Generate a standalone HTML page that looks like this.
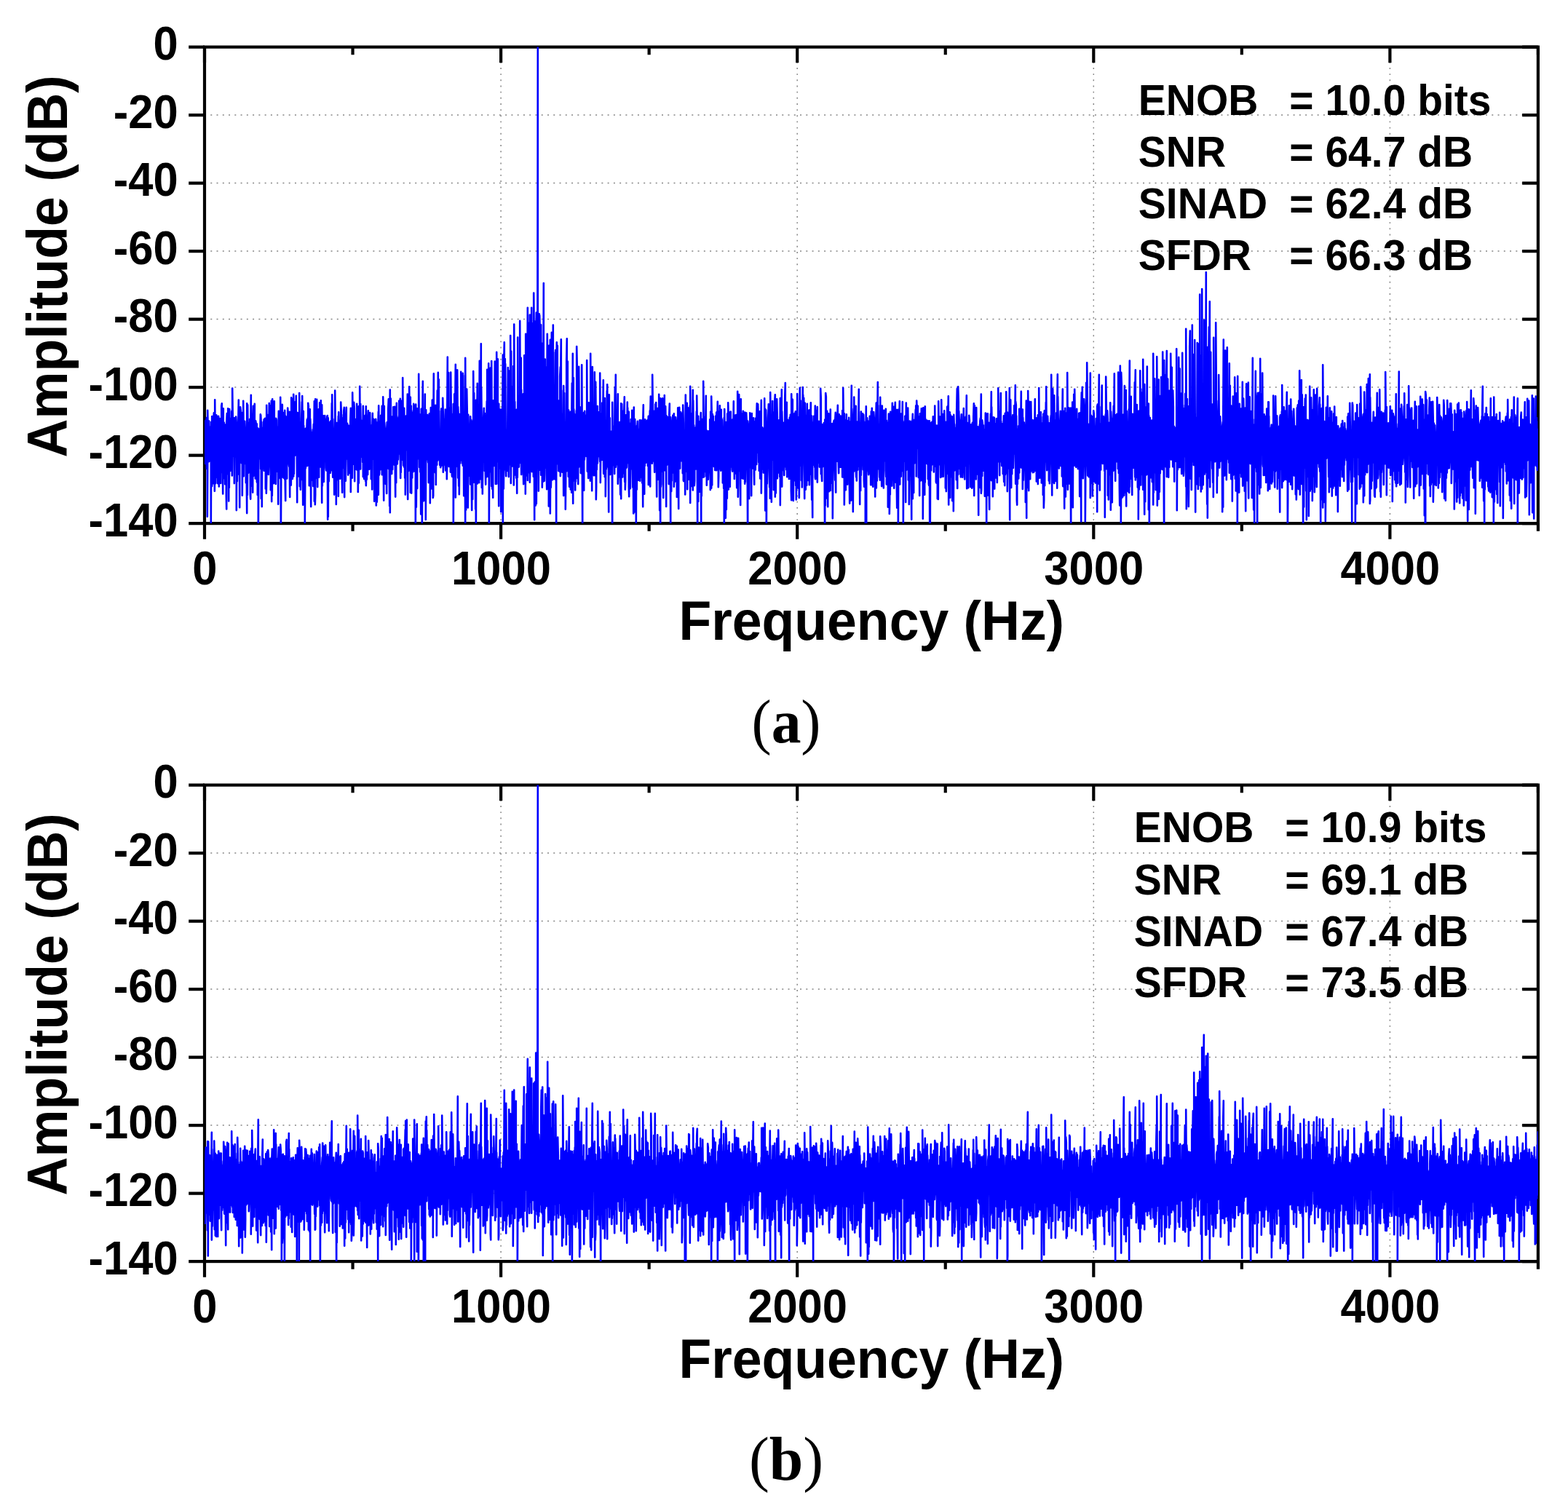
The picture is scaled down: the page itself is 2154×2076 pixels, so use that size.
<!DOCTYPE html>
<html lang="en">
<head>
<meta charset="utf-8">
<title>FFT spectra</title>
<style>
html,body{margin:0;padding:0;background:#fff;}
body{width:2154px;height:2076px;overflow:hidden;position:relative;}
svg{display:block;position:absolute;left:0;top:0;}
text{font-family:"Liberation Sans",Arial,Helvetica,sans-serif;font-weight:700;fill:#000;}
.tk{font-size:61.5px;}
.ti{font-size:73.33px;}
.lg{font-size:57px;}
.cap{font-family:"Liberation Serif","DejaVu Serif",serif;font-weight:400;font-size:80px;}
.cap tspan{font-weight:700;}
.ax{fill:none;stroke:#000;stroke-width:4.2;stroke-linecap:butt;stroke-linejoin:miter;}
.grid{fill:none;stroke:#858585;}
.gh{stroke-width:1.5;stroke-dasharray:2 6.263;}
.gv{stroke-width:1.5;stroke-dasharray:1.9 6.26;}
.dat{fill:none;stroke:#0000ff;stroke-width:2.6;stroke-linejoin:round;stroke-linecap:round;}
</style>
</head>
<body>
<svg width="2154" height="2076" viewBox="0 0 2154 2076">
<rect width="2154" height="2076" fill="#fff"/>
<defs><clipPath id="cp"><rect x="281.0" y="64.6" width="1831.9" height="654.5"/></clipPath></defs>
<g transform="translate(0,0)">
<path class="grid gh" d="M281.0 158.10H2109.9M281.0 251.60H2109.9M281.0 345.10H2109.9M281.0 438.60H2109.9M281.0 532.10H2109.9M281.0 625.60H2109.9"/>
<path class="grid gv" d="M688.10 84.87V716.1M1095.20 84.87V716.1M1502.30 84.87V716.1M1909.40 84.87V716.1"/>
<rect class="ax" x="281.0" y="64.6" width="1831.9" height="654.5"/>
<path class="ax" d="M259.2 64.60H281.0M2091.1 64.60H2112.95M259.2 158.10H281.0M2091.1 158.10H2112.95M259.2 251.60H281.0M2091.1 251.60H2112.95M259.2 345.10H281.0M2091.1 345.10H2112.95M259.2 438.60H281.0M2091.1 438.60H2112.95M259.2 532.10H281.0M2091.1 532.10H2112.95M259.2 625.60H281.0M2091.1 625.60H2112.95M259.2 719.10H281.0M2091.1 719.10H2112.95M281.00 719.1v21.6M281.00 64.6v21.6M484.55 719.1v10.6M484.55 64.6v10.6M688.10 719.1v21.6M688.10 64.6v21.6M891.65 719.1v10.6M891.65 64.6v10.6M1095.20 719.1v21.6M1095.20 64.6v21.6M1298.75 719.1v10.6M1298.75 64.6v10.6M1502.30 719.1v21.6M1502.30 64.6v21.6M1705.85 719.1v10.6M1705.85 64.6v10.6M1909.40 719.1v21.6M1909.40 64.6v21.6M2112.95 719.1v10.6M2112.95 64.6v10.6"/>
<polyline class="dat" clip-path="url(#cp)" points="281.2,605.8 281.2,582.5 281.8,578.8 281.8,636.9 282.2,628.8 282.2,578.0 282.8,580.6 282.8,606.5 283.2,604.8 283.2,582.5 283.8,574.0 283.8,643.9 284.2,609.2 284.2,607.2 284.8,610.8 284.8,709.7 285.2,643.1 285.2,563.8 285.8,596.3 285.8,634.4 286.2,634.5 286.2,589.8 286.8,612.6 286.8,623.1 287.2,633.9 287.2,578.6 287.8,605.5 287.8,627.4 288.2,628.9 288.2,588.5 288.8,587.2 288.8,599.6 289.2,629.1 289.2,588.5 289.8,619.8 289.8,719.2 290.2,604.6 290.2,579.8 290.8,614.8 290.8,666.3 291.2,667.9 291.2,572.1 291.8,593.7 291.8,614.2 292.2,663.9 292.2,591.0 292.8,578.1 292.8,627.9 293.2,664.3 293.2,577.6 293.8,567.4 293.8,653.4 294.2,636.7 294.2,598.8 294.8,610.4 294.8,674.7 295.2,610.6 295.2,549.2 295.8,614.2 295.8,650.0 296.2,664.1 296.2,577.8 296.8,619.2 296.8,656.2 297.2,638.9 297.2,570.2 297.8,572.2 297.8,623.6 298.2,644.2 298.2,584.3 298.8,589.1 298.8,644.1 299.2,664.1 299.2,599.8 299.8,579.2 299.8,622.3 300.2,613.6 300.2,571.7 300.8,610.1 300.8,668.4 301.2,605.3 301.2,586.5 301.8,575.1 301.8,586.8 302.2,624.1 302.2,607.6 302.8,599.0 302.8,639.2 303.2,664.0 303.2,591.7 303.8,587.2 303.8,649.0 304.2,614.7 304.2,557.7 304.8,554.3 304.8,614.0 305.2,615.0 305.2,577.7 305.8,605.2 305.8,635.6 306.2,678.4 306.2,609.1 306.8,561.2 306.8,657.5 307.2,625.7 307.2,585.3 307.8,580.6 307.8,612.5 308.2,650.7 308.2,592.0 308.8,598.3 308.8,636.9 309.2,665.2 309.2,586.2 309.8,588.1 309.8,646.2 310.2,634.0 310.2,583.4 310.8,607.1 310.8,681.2 311.2,699.5 311.2,579.8 311.8,568.0 311.8,633.1 312.2,604.3 312.2,577.3 312.8,610.6 312.8,651.2 313.2,632.2 313.2,561.2 313.8,591.0 313.8,603.9 314.2,688.4 314.2,594.6 314.8,622.7 314.8,670.0 315.2,614.7 315.2,562.1 315.8,617.9 315.8,638.0 316.2,646.9 316.2,574.7 316.8,587.1 316.8,641.8 317.2,646.3 317.2,577.9 317.8,607.0 317.8,644.2 318.2,642.0 318.2,565.6 318.8,563.9 318.8,653.5 319.2,619.8 319.2,533.5 319.8,575.4 319.8,610.7 320.2,614.5 320.2,595.2 320.8,580.3 320.8,615.2 321.2,626.6 321.2,587.9 321.8,584.9 321.8,664.1 322.2,626.4 322.2,574.0 322.8,594.8 322.8,621.2 323.2,627.0 323.2,597.1 323.8,590.0 323.8,592.8 324.2,613.6 324.2,572.6 324.8,581.7 324.8,701.1 325.2,627.6 325.2,597.0 325.8,599.4 325.8,661.2 326.2,624.4 326.2,582.4 326.8,605.3 326.8,651.4 327.2,635.3 327.2,586.7 327.8,549.5 327.8,643.4 328.2,622.3 328.2,594.1 328.8,562.5 328.8,600.8 329.2,697.3 329.2,577.5 329.8,583.5 329.8,589.0 330.2,619.4 330.2,559.2 330.8,564.6 330.8,624.5 331.2,624.4 331.2,597.5 331.8,566.7 331.8,636.2 332.2,626.7 332.2,596.2 332.8,603.1 332.8,680.8 333.2,628.2 333.2,569.2 333.8,612.8 333.8,636.2 334.2,620.5 334.2,550.7 334.8,613.9 334.8,654.3 335.2,605.4 335.2,592.8 335.8,612.8 335.8,636.8 336.2,637.0 336.2,578.9 336.8,591.1 336.8,598.1 337.2,612.0 337.2,588.9 337.8,590.4 337.8,663.2 338.2,660.0 338.2,608.1 338.8,602.5 338.8,662.2 339.2,705.1 339.2,554.2 339.8,612.3 339.8,680.0 340.2,636.7 340.2,556.2 340.8,611.8 340.8,633.9 341.2,649.7 341.2,627.5 341.8,583.3 341.8,620.0 342.2,597.5 342.2,580.9 342.8,599.4 342.8,632.4 343.2,614.4 343.2,575.8 343.8,610.0 343.8,680.0 344.2,685.6 344.2,593.4 344.8,542.7 344.8,639.0 345.2,642.2 345.2,569.0 345.8,594.5 345.8,667.7 346.2,658.8 346.2,587.4 346.8,597.1 346.8,638.4 347.2,676.6 347.2,575.0 347.8,557.7 347.8,599.9 348.2,654.1 348.2,584.6 348.8,571.4 348.8,612.6 349.2,631.9 349.2,568.9 349.8,554.9 349.8,613.1 350.2,617.9 350.2,598.6 350.8,580.5 350.8,657.4 351.2,592.2 351.2,578.2 351.8,582.0 351.8,611.5 352.2,648.6 352.2,603.0 352.8,582.2 352.8,661.4 353.2,662.9 353.2,597.5 353.8,610.9 353.8,680.0 354.2,607.7 354.2,588.2 354.8,599.6 354.8,747.1 355.2,654.3 355.2,609.4 355.8,601.5 355.8,630.2 356.2,614.7 356.2,589.3 356.8,601.3 356.8,619.1 357.2,624.6 357.2,603.0 357.8,569.3 357.8,620.8 358.2,644.3 358.2,570.4 358.8,583.3 358.8,684.9 359.2,602.1 359.2,579.8 359.8,600.0 359.8,696.1 360.2,611.0 360.2,587.8 360.8,617.4 360.8,644.0 361.2,625.0 361.2,610.4 361.8,594.6 361.8,605.2 362.2,614.4 362.2,579.9 362.8,576.1 362.8,646.8 363.2,636.3 363.2,577.1 363.8,611.0 363.8,634.1 364.2,624.7 364.2,574.7 364.8,609.7 364.8,671.4 365.2,636.0 365.2,589.4 365.8,585.9 365.8,677.8 366.2,656.1 366.2,556.8 366.8,598.9 366.8,611.7 367.2,612.9 367.2,569.7 367.8,592.6 367.8,643.2 368.2,647.0 368.2,570.9 368.8,595.2 368.8,651.9 369.2,641.4 369.2,603.1 369.8,554.1 369.8,604.9 370.2,629.7 370.2,559.7 370.8,577.6 370.8,628.1 371.2,616.5 371.2,561.7 371.8,557.0 371.8,673.3 372.2,627.0 372.2,602.4 372.8,550.7 372.8,607.1 373.2,689.1 373.2,594.4 373.8,595.9 373.8,681.1 374.2,636.8 374.2,548.3 374.8,573.9 374.8,652.4 375.2,619.5 375.2,577.6 375.8,586.9 375.8,620.6 376.2,664.1 376.2,610.0 376.8,551.2 376.8,662.0 377.2,643.3 377.2,581.8 377.8,598.0 377.8,645.9 378.2,604.3 378.2,590.5 378.8,592.2 378.8,665.0 379.2,625.3 379.2,574.9 379.8,577.0 379.8,647.7 380.2,618.6 380.2,600.4 380.8,586.6 380.8,616.9 381.2,625.6 381.2,587.1 381.8,598.6 381.8,609.8 382.2,692.8 382.2,606.3 382.8,564.7 382.8,604.6 383.2,611.1 383.2,596.5 383.8,580.3 383.8,649.1 384.2,650.0 384.2,588.8 384.8,583.3 384.8,657.3 385.2,640.0 385.2,545.7 385.8,603.2 385.8,747.1 386.2,664.3 386.2,566.8 386.8,597.6 386.8,628.9 387.2,619.0 387.2,563.1 387.8,555.9 387.8,622.5 388.2,655.4 388.2,597.1 388.8,588.1 388.8,599.5 389.2,599.0 389.2,567.0 389.8,591.8 389.8,656.7 390.2,643.5 390.2,587.0 390.8,600.5 390.8,637.9 391.2,658.7 391.2,563.8 391.8,586.3 391.8,667.1 392.2,688.0 392.2,571.6 392.8,574.4 392.8,626.0 393.2,607.5 393.2,572.9 393.8,602.0 393.8,636.0 394.2,657.5 394.2,587.4 394.8,606.2 394.8,617.0 395.2,616.9 395.2,560.6 395.8,570.3 395.8,613.8 396.2,633.1 396.2,603.3 396.8,614.1 396.8,637.5 397.2,640.9 397.2,578.6 397.8,565.7 397.8,639.1 398.2,682.9 398.2,621.8 398.8,596.3 398.8,658.4 399.2,633.4 399.2,594.3 399.8,585.9 399.8,666.6 400.2,632.3 400.2,546.4 400.8,548.4 400.8,597.9 401.2,642.7 401.2,606.3 401.8,594.0 401.8,657.9 402.2,630.8 402.2,588.3 402.8,555.6 402.8,636.9 403.2,654.4 403.2,541.7 403.8,593.2 403.8,650.9 404.2,613.8 404.2,587.1 404.8,594.9 404.8,614.0 405.2,625.7 405.2,577.5 405.8,552.1 405.8,624.0 406.2,609.1 406.2,585.6 406.8,543.7 406.8,618.9 407.2,619.3 407.2,571.9 407.8,566.5 407.8,629.8 408.2,690.3 408.2,617.9 408.8,594.9 408.8,643.6 409.2,608.8 409.2,573.6 409.8,567.2 409.8,607.3 410.2,654.5 410.2,573.0 410.8,581.5 410.8,639.9 411.2,609.4 411.2,540.0 411.8,609.4 411.8,668.2 412.2,638.6 412.2,608.4 412.8,589.0 412.8,672.8 413.2,605.8 413.2,589.2 413.8,580.3 413.8,659.0 414.2,621.3 414.2,575.9 414.8,552.4 414.8,595.8 415.2,658.0 415.2,544.0 415.8,596.4 415.8,646.4 416.2,693.8 416.2,594.6 416.8,565.0 416.8,671.7 417.2,635.5 417.2,584.7 417.8,629.9 417.8,637.2 418.2,645.2 418.2,598.7 418.8,589.8 418.8,718.8 419.2,667.2 419.2,598.2 419.8,588.8 419.8,643.5 420.2,638.5 420.2,596.1 420.8,595.4 420.8,614.5 421.2,628.8 421.2,597.4 421.8,576.6 421.8,624.1 422.2,639.9 422.2,585.6 422.8,574.6 422.8,629.8 423.2,627.7 423.2,553.8 423.8,557.6 423.8,626.5 424.2,626.7 424.2,600.9 424.8,608.1 424.8,667.2 425.2,610.8 425.2,573.2 425.8,562.2 425.8,642.4 426.2,625.3 426.2,575.5 426.8,591.3 426.8,645.8 427.2,696.1 427.2,601.2 427.8,593.9 427.8,622.8 428.2,656.5 428.2,625.8 428.8,595.3 428.8,621.4 429.2,659.7 429.2,606.6 429.8,590.3 429.8,617.2 430.2,667.9 430.2,595.5 430.8,582.8 430.8,620.3 431.2,654.0 431.2,613.9 431.8,551.2 431.8,688.7 432.2,647.0 432.2,570.2 432.8,590.1 432.8,693.2 433.2,679.6 433.2,548.2 433.8,566.8 433.8,624.5 434.2,656.7 434.2,572.0 434.8,576.8 434.8,609.7 435.2,630.7 435.2,548.7 435.8,589.6 435.8,633.6 436.2,669.1 436.2,585.6 436.8,579.9 436.8,613.5 437.2,609.1 437.2,585.2 437.8,562.3 437.8,648.5 438.2,655.8 438.2,592.5 438.8,611.9 438.8,634.7 439.2,606.2 439.2,553.3 439.8,600.5 439.8,614.4 440.2,641.5 440.2,616.4 440.8,550.2 440.8,613.8 441.2,600.9 441.2,584.3 441.8,609.3 441.8,621.7 442.2,690.7 442.2,556.3 442.8,595.2 442.8,667.5 443.2,608.8 443.2,571.0 443.8,594.3 443.8,644.8 444.2,629.8 444.2,571.3 444.8,608.6 444.8,661.9 445.2,633.7 445.2,581.3 445.8,604.5 445.8,618.7 446.2,607.8 446.2,571.0 446.8,586.8 446.8,610.5 447.2,614.7 447.2,575.8 447.8,588.1 447.8,642.7 448.2,646.4 448.2,587.7 448.8,586.1 448.8,621.1 449.2,616.8 449.2,572.9 449.8,571.0 449.8,597.8 450.2,713.8 450.2,592.0 450.8,574.3 450.8,710.1 451.2,596.2 451.2,580.6 451.8,579.9 451.8,661.2 452.2,628.9 452.2,598.5 452.8,599.0 452.8,639.6 453.2,617.1 453.2,580.4 453.8,581.1 453.8,649.8 454.2,601.1 454.2,578.6 454.8,587.9 454.8,627.0 455.2,646.2 455.2,603.8 455.8,554.0 455.8,643.4 456.2,636.6 456.2,542.2 456.8,592.1 456.8,611.0 457.2,655.8 457.2,575.7 457.8,595.1 457.8,626.7 458.2,636.0 458.2,600.9 458.8,599.0 458.8,633.9 459.2,679.6 459.2,619.9 459.8,598.4 459.8,610.5 460.2,622.1 460.2,536.6 460.8,592.4 460.8,610.5 461.2,658.7 461.2,596.7 461.8,628.5 461.8,692.9 462.2,593.7 462.2,581.0 462.8,581.1 462.8,610.7 463.2,639.1 463.2,608.3 463.8,582.8 463.8,659.2 464.2,638.1 464.2,598.2 464.8,571.8 464.8,681.7 465.2,590.5 465.2,566.2 465.8,588.5 465.8,645.0 466.2,640.7 466.2,582.0 466.8,586.1 466.8,628.7 467.2,657.8 467.2,577.7 467.8,578.9 467.8,620.0 468.2,647.3 468.2,552.6 468.8,566.3 468.8,608.1 469.2,650.4 469.2,569.8 469.8,607.6 469.8,661.5 470.2,676.7 470.2,608.3 470.8,577.3 470.8,642.3 471.2,607.9 471.2,593.1 471.8,573.8 471.8,642.8 472.2,618.6 472.2,564.6 472.8,559.8 472.8,604.2 473.2,683.1 473.2,592.6 473.8,588.8 473.8,650.7 474.2,655.7 474.2,619.3 474.8,600.9 474.8,660.7 475.2,621.8 475.2,572.5 475.8,559.9 475.8,603.5 476.2,629.7 476.2,586.0 476.8,585.4 476.8,595.5 477.2,630.6 477.2,581.7 477.8,600.4 477.8,621.7 478.2,652.6 478.2,584.3 478.8,613.9 478.8,636.3 479.2,628.7 479.2,597.3 479.8,595.1 479.8,645.1 480.2,650.0 480.2,584.9 480.8,624.5 480.8,632.4 481.2,605.2 481.2,580.1 481.8,560.8 481.8,676.0 482.2,628.5 482.2,585.3 482.8,597.7 482.8,656.8 483.2,638.1 483.2,579.5 483.8,586.9 483.8,656.8 484.2,597.4 484.2,539.4 484.8,582.2 484.8,611.9 485.2,637.7 485.2,607.8 485.8,587.4 485.8,614.1 486.2,614.8 486.2,552.8 486.8,560.9 486.8,605.9 487.2,661.3 487.2,600.5 487.8,605.5 487.8,623.5 488.2,611.5 488.2,595.9 488.8,588.0 488.8,644.8 489.2,612.5 489.2,575.9 489.8,609.9 489.8,631.1 490.2,620.1 490.2,554.8 490.8,589.4 490.8,646.0 491.2,608.4 491.2,581.6 491.8,582.3 491.8,675.9 492.2,641.1 492.2,593.2 492.8,558.4 492.8,663.8 493.2,605.7 493.2,578.4 493.8,590.1 493.8,628.9 494.2,614.1 494.2,530.9 494.8,602.4 494.8,606.9 495.2,644.4 495.2,555.1 495.8,594.1 495.8,613.2 496.2,627.8 496.2,577.5 496.8,584.0 496.8,611.3 497.2,624.7 497.2,603.7 497.8,596.3 497.8,610.9 498.2,635.0 498.2,607.5 498.8,557.9 498.8,655.1 499.2,589.3 499.2,583.7 499.8,583.0 499.8,587.0 500.2,658.1 500.2,578.6 500.8,571.3 500.8,648.2 501.2,637.8 501.2,597.6 501.8,570.6 501.8,620.7 502.2,661.3 502.2,597.0 502.8,558.3 502.8,667.1 503.2,652.2 503.2,601.0 503.8,599.1 503.8,658.7 504.2,627.4 504.2,597.9 504.8,576.7 504.8,612.7 505.2,652.1 505.2,574.5 505.8,564.3 505.8,632.0 506.2,636.6 506.2,603.3 506.8,578.6 506.8,623.5 507.2,644.8 507.2,573.1 507.8,577.9 507.8,639.5 508.2,604.7 508.2,567.1 508.8,600.1 508.8,617.4 509.2,593.6 509.2,584.2 509.8,592.2 509.8,658.1 510.2,626.1 510.2,608.7 510.8,593.3 510.8,641.4 511.2,672.4 511.2,594.0 511.8,567.7 511.8,611.5 512.2,601.6 512.2,584.7 512.8,585.8 512.8,622.4 513.2,630.6 513.2,575.7 513.8,580.3 513.8,607.3 514.2,688.8 514.2,589.1 514.8,577.1 514.8,614.1 515.2,610.8 515.2,589.0 515.8,589.7 515.8,681.4 516.2,608.4 516.2,575.8 516.8,584.5 516.8,694.5 517.2,621.0 517.2,580.3 517.8,633.3 517.8,689.8 518.2,676.2 518.2,585.1 518.8,613.5 518.8,661.7 519.2,665.6 519.2,596.5 519.8,565.7 519.8,679.8 520.2,609.0 520.2,557.4 520.8,594.6 520.8,652.8 521.2,650.5 521.2,580.6 521.8,579.0 521.8,587.1 522.2,608.8 522.2,587.4 522.8,597.3 522.8,645.1 523.2,604.9 523.2,570.8 523.8,589.0 523.8,608.2 524.2,636.7 524.2,581.7 524.8,557.7 524.8,652.3 525.2,637.1 525.2,592.5 525.8,611.0 525.8,649.0 526.2,627.9 526.2,545.3 526.8,573.0 526.8,646.9 527.2,687.6 527.2,584.2 527.8,558.0 527.8,632.5 528.2,610.0 528.2,580.5 528.8,590.4 528.8,613.1 529.2,630.4 529.2,596.2 529.8,624.7 529.8,664.9 530.2,618.1 530.2,590.0 530.8,610.7 530.8,644.6 531.2,678.0 531.2,590.3 531.8,580.1 531.8,605.2 532.2,633.7 532.2,582.1 532.8,607.2 532.8,630.4 533.2,637.6 533.2,562.7 533.8,548.4 533.8,644.1 534.2,639.5 534.2,600.3 534.8,594.1 534.8,655.1 535.2,695.2 535.2,577.3 535.8,535.5 535.8,704.3 536.2,601.6 536.2,547.1 536.8,547.9 536.8,593.4 537.2,613.7 537.2,593.4 537.8,589.6 537.8,629.0 538.2,650.9 538.2,617.9 538.8,572.5 538.8,636.5 539.2,644.9 539.2,596.5 539.8,606.1 539.8,633.8 540.2,637.3 540.2,559.2 540.8,594.8 540.8,619.3 541.2,617.4 541.2,582.8 541.8,599.8 541.8,638.8 542.2,611.8 542.2,558.7 542.8,604.8 542.8,647.3 543.2,682.6 543.2,600.8 543.8,597.2 543.8,619.1 544.2,663.2 544.2,604.2 544.8,553.7 544.8,635.8 545.2,634.3 545.2,592.9 545.8,615.4 545.8,637.5 546.2,617.6 546.2,589.3 546.8,574.3 546.8,631.4 547.2,618.4 547.2,600.8 547.8,572.0 547.8,593.1 548.2,623.4 548.2,550.7 548.8,578.5 548.8,614.2 549.2,620.3 549.2,573.0 549.8,547.7 549.8,622.6 550.2,657.0 550.2,602.2 550.8,598.9 550.8,649.0 551.2,625.5 551.2,587.9 551.8,550.8 551.8,624.0 552.2,626.1 552.2,589.6 552.8,620.4 552.8,631.6 553.2,604.9 553.2,519.0 553.8,592.5 553.8,604.5 554.2,639.5 554.2,590.8 554.8,586.0 554.8,621.7 555.2,641.6 555.2,560.8 555.8,598.3 555.8,612.2 556.2,656.7 556.2,595.2 556.8,578.9 556.8,679.6 557.2,652.4 557.2,613.5 557.8,571.6 557.8,613.7 558.2,618.1 558.2,587.5 558.8,600.4 558.8,617.0 559.2,608.9 559.2,579.5 559.8,541.6 559.8,591.9 560.2,686.0 560.2,576.3 560.8,598.4 560.8,616.9 561.2,647.1 561.2,561.0 561.8,548.0 561.8,633.8 562.2,613.4 562.2,531.2 562.8,592.0 562.8,622.0 563.2,633.4 563.2,546.2 563.8,545.7 563.8,676.8 564.2,628.9 564.2,557.4 564.8,557.7 564.8,626.2 565.2,677.6 565.2,564.0 565.8,599.6 565.8,650.1 566.2,656.4 566.2,570.1 566.8,600.4 566.8,649.0 567.2,629.8 567.2,566.6 567.8,587.9 567.8,630.9 568.2,645.9 568.2,554.7 568.8,557.5 568.8,627.9 569.2,647.4 569.2,606.4 569.8,572.2 569.8,600.7 570.2,624.3 570.2,574.9 570.8,576.7 570.8,731.2 571.2,632.1 571.2,555.5 571.8,588.0 571.8,696.8 572.2,644.8 572.2,568.2 572.8,570.7 572.8,644.3 573.2,671.1 573.2,561.4 573.8,573.8 573.8,625.0 574.2,630.3 574.2,600.1 574.8,581.9 574.8,630.2 575.2,622.4 575.2,513.9 575.8,593.3 575.8,607.2 576.2,642.0 576.2,622.2 576.8,592.6 576.8,612.9 577.2,648.5 577.2,627.9 577.8,569.4 577.8,636.7 578.2,706.5 578.2,636.7 578.8,561.8 578.8,592.1 579.2,661.0 579.2,582.8 579.8,596.3 579.8,723.1 580.2,662.8 580.2,582.4 580.8,523.7 580.8,629.9 581.2,612.7 581.2,570.1 581.8,574.8 581.8,619.8 582.2,688.1 582.2,624.4 582.8,605.5 582.8,670.5 583.2,657.6 583.2,591.8 583.8,541.6 583.8,600.2 584.2,628.2 584.2,586.2 584.8,573.6 584.8,713.9 585.2,621.9 585.2,563.2 585.8,608.3 585.8,630.7 586.2,625.1 586.2,585.7 586.8,599.5 586.8,627.9 587.2,628.6 587.2,570.1 587.8,590.6 587.8,631.3 588.2,635.4 588.2,576.9 588.8,612.2 588.8,663.1 589.2,634.2 589.2,586.7 589.8,568.2 589.8,645.9 590.2,633.4 590.2,604.2 590.8,632.0 590.8,691.3 591.2,615.6 591.2,600.5 591.8,560.0 591.8,639.6 592.2,668.6 592.2,598.2 592.8,589.2 592.8,658.9 593.2,671.5 593.2,610.3 593.8,549.5 593.8,617.2 594.2,637.3 594.2,561.7 594.8,580.2 594.8,683.9 595.2,681.1 595.2,601.7 595.8,513.4 595.8,622.0 596.2,625.1 596.2,567.7 596.8,600.3 596.8,621.7 597.2,618.9 597.2,574.3 597.8,610.0 597.8,649.2 598.2,648.0 598.2,556.7 598.8,615.0 598.8,665.9 599.2,622.8 599.2,595.1 599.8,594.7 599.8,631.9 600.2,638.8 600.2,590.7 600.8,536.5 600.8,626.0 601.2,632.7 601.2,613.8 601.8,511.9 601.8,603.1 602.2,613.6 602.2,595.0 602.8,521.2 602.8,631.3 603.2,607.9 603.2,564.5 603.8,601.4 603.8,611.1 604.2,639.1 604.2,591.6 604.8,595.8 604.8,617.5 605.2,642.2 605.2,598.2 605.8,599.1 605.8,616.8 606.2,639.9 606.2,561.5 606.8,565.1 606.8,618.3 607.2,638.4 607.2,586.0 607.8,598.0 607.8,637.7 608.2,626.8 608.2,546.8 608.8,569.9 608.8,648.8 609.2,636.6 609.2,585.0 609.8,594.7 609.8,638.6 610.2,617.7 610.2,575.9 610.8,611.7 610.8,631.5 611.2,638.1 611.2,585.8 611.8,562.6 611.8,628.7 612.2,646.5 612.2,592.8 612.8,583.0 612.8,605.9 613.2,643.4 613.2,586.9 613.8,583.3 613.8,658.3 614.2,638.0 614.2,574.0 614.8,490.5 614.8,634.6 615.2,624.3 615.2,526.8 615.8,562.8 615.8,601.1 616.2,607.5 616.2,512.0 616.8,609.9 616.8,641.0 617.2,620.2 617.2,589.0 617.8,583.9 617.8,623.8 618.2,628.8 618.2,594.2 618.8,560.3 618.8,648.6 619.2,640.2 619.2,511.5 619.8,571.0 619.8,639.6 620.2,639.4 620.2,568.9 620.8,590.9 620.8,653.0 621.2,654.9 621.2,570.5 621.8,585.2 621.8,645.5 622.2,639.7 622.2,604.4 622.8,555.0 622.8,725.2 623.2,638.1 623.2,602.0 623.8,616.3 623.8,642.0 624.2,620.8 624.2,541.4 624.8,599.9 624.8,653.1 625.2,654.9 625.2,562.0 625.8,500.7 625.8,683.4 626.2,619.4 626.2,547.1 626.8,586.8 626.8,600.5 627.2,623.0 627.2,586.0 627.8,589.9 627.8,640.8 628.2,633.2 628.2,508.3 628.8,581.7 628.8,601.1 629.2,656.6 629.2,559.1 629.8,572.5 629.8,615.1 630.2,667.7 630.2,610.7 630.8,606.1 630.8,679.2 631.2,627.6 631.2,569.0 631.8,596.3 631.8,636.6 632.2,616.0 632.2,579.0 632.8,578.8 632.8,632.4 633.2,602.8 633.2,510.9 633.8,607.4 633.8,623.4 634.2,617.8 634.2,519.3 634.8,591.4 634.8,636.4 635.2,604.5 635.2,580.1 635.8,512.9 635.8,639.8 636.2,606.8 636.2,594.6 636.8,577.3 636.8,591.9 637.2,681.3 637.2,588.3 637.8,568.3 637.8,583.0 638.2,625.8 638.2,594.9 638.8,515.9 638.8,659.2 639.2,719.2 639.2,491.9 639.8,622.6 639.8,644.0 640.2,700.5 640.2,582.6 640.8,579.0 640.8,628.8 641.2,620.3 641.2,534.6 641.8,566.8 641.8,621.3 642.2,618.1 642.2,598.2 642.8,603.3 642.8,697.4 643.2,659.8 643.2,569.7 643.8,588.8 643.8,643.4 644.2,650.6 644.2,606.9 644.8,597.1 644.8,625.2 645.2,653.8 645.2,601.1 645.8,598.0 645.8,626.7 646.2,665.4 646.2,572.3 646.8,605.5 646.8,615.1 647.2,620.6 647.2,576.9 647.8,581.5 647.8,668.3 648.2,700.9 648.2,595.9 648.8,597.6 648.8,640.9 649.2,686.0 649.2,578.8 649.8,590.3 649.8,610.9 650.2,619.2 650.2,510.1 650.8,576.7 650.8,606.9 651.2,662.8 651.2,540.0 651.8,616.6 651.8,631.4 652.2,634.2 652.2,606.3 652.8,574.8 652.8,609.5 653.2,699.4 653.2,631.9 653.8,549.7 653.8,742.2 654.2,629.8 654.2,611.7 654.8,557.6 654.8,586.7 655.2,630.9 655.2,578.2 655.8,526.7 655.8,664.4 656.2,615.2 656.2,584.3 656.8,580.4 656.8,655.6 657.2,631.6 657.2,597.2 657.8,609.9 657.8,632.6 658.2,663.2 658.2,591.4 658.8,495.7 658.8,615.2 659.2,613.4 659.2,550.8 659.8,613.1 659.8,658.1 660.2,641.9 660.2,624.3 660.8,472.3 660.8,622.1 661.2,582.2 661.2,532.8 661.8,586.6 661.8,670.0 662.2,657.3 662.2,606.6 662.8,583.5 662.8,678.4 663.2,632.3 663.2,589.3 663.8,588.0 663.8,623.0 664.2,614.1 664.2,574.2 664.8,560.7 664.8,596.3 665.2,634.4 665.2,595.9 665.8,567.7 665.8,647.0 666.2,634.9 666.2,603.2 666.8,597.8 666.8,648.3 667.2,665.6 667.2,591.1 667.8,577.1 667.8,610.6 668.2,655.6 668.2,581.5 668.8,551.3 668.8,612.6 669.2,595.7 669.2,507.8 669.8,581.5 669.8,630.2 670.2,605.8 670.2,582.4 670.8,591.2 670.8,655.1 671.2,628.2 671.2,499.2 671.8,618.5 671.8,730.9 672.2,641.9 672.2,571.8 672.8,541.8 672.8,648.1 673.2,630.4 673.2,580.9 673.8,505.5 673.8,584.9 674.2,645.4 674.2,607.3 674.8,576.6 674.8,637.4 675.2,668.0 675.2,496.0 675.8,600.0 675.8,622.8 676.2,671.7 676.2,620.1 676.8,555.7 676.8,637.7 677.2,683.7 677.2,591.9 677.8,550.4 677.8,622.5 678.2,640.0 678.2,566.6 678.8,574.3 678.8,626.4 679.2,634.8 679.2,614.3 679.8,496.5 679.8,614.3 680.2,640.3 680.2,618.7 680.8,575.1 680.8,664.9 681.2,604.6 681.2,535.6 681.8,576.9 681.8,639.2 682.2,664.8 682.2,483.9 682.8,571.8 682.8,592.5 683.2,624.4 683.2,555.5 683.8,493.3 683.8,611.8 684.2,634.3 684.2,597.1 684.8,566.6 684.8,611.7 685.2,695.2 685.2,554.7 685.8,594.0 685.8,643.4 686.2,597.9 686.2,562.2 686.8,581.9 686.8,616.0 687.2,613.7 687.2,579.6 687.8,597.0 687.8,616.9 688.2,703.2 688.2,562.6 688.8,591.6 688.8,628.4 689.2,676.8 689.2,584.0 689.8,585.7 689.8,609.4 690.2,660.0 690.2,574.1 690.8,487.6 690.8,717.4 691.2,596.4 691.2,584.9 691.8,600.6 691.8,671.4 692.2,636.9 692.2,498.5 692.8,470.4 692.8,636.9 693.2,638.3 693.2,556.6 693.8,493.0 693.8,645.3 694.2,623.4 694.2,500.1 694.8,620.4 694.8,642.6 695.2,654.2 695.2,608.1 695.8,591.3 695.8,632.5 696.2,627.1 696.2,590.8 696.8,629.0 696.8,646.9 697.2,628.6 697.2,601.7 697.8,505.1 697.8,609.4 698.2,639.7 698.2,616.2 698.8,557.0 698.8,655.1 699.2,622.7 699.2,509.6 699.8,583.4 699.8,617.3 700.2,609.5 700.2,515.2 700.8,589.5 700.8,638.2 701.2,624.9 701.2,461.0 701.8,629.7 701.8,663.9 702.2,608.3 702.2,482.5 702.8,612.6 702.8,633.2 703.2,611.4 703.2,589.5 703.8,531.2 703.8,640.5 704.2,637.4 704.2,541.3 704.8,562.9 704.8,607.3 705.2,600.4 705.2,503.0 705.8,598.8 705.8,666.5 706.2,626.7 706.2,445.6 706.8,576.0 706.8,614.2 707.2,651.3 707.2,552.1 707.8,593.0 707.8,652.4 708.2,632.3 708.2,629.2 708.8,587.5 708.8,610.4 709.2,656.8 709.2,571.7 709.8,562.7 709.8,627.5 710.2,677.8 710.2,582.0 710.8,593.3 710.8,656.0 711.2,605.5 711.2,463.6 711.8,588.6 711.8,621.8 712.2,616.8 712.2,576.7 712.8,563.7 712.8,641.6 713.2,591.7 713.2,582.1 713.8,580.6 713.8,592.5 714.2,626.0 714.2,440.9 714.8,577.2 714.8,633.9 715.2,636.2 715.2,619.1 715.8,491.8 715.8,628.1 716.2,652.0 716.2,535.6 716.8,597.9 716.8,632.0 717.2,639.0 717.2,607.2 717.8,567.6 717.8,624.4 718.2,613.7 718.2,590.0 718.8,541.4 718.8,648.0 719.2,665.1 719.2,604.3 719.8,595.7 719.8,630.9 720.2,638.6 720.2,488.2 720.8,547.5 720.8,655.4 721.2,614.0 721.2,493.7 721.8,540.5 721.8,678.6 722.2,575.1 722.2,458.7 722.8,549.0 722.8,584.6 723.2,624.9 723.2,479.1 723.8,582.6 723.8,653.5 724.2,626.9 724.2,593.9 724.8,422.7 724.8,659.9 725.2,631.1 725.2,574.6 725.8,579.1 725.8,615.8 726.2,612.5 726.2,478.2 726.8,443.6 726.8,649.3 727.2,605.2 727.2,561.5 727.8,432.5 727.8,662.7 728.2,648.6 728.2,468.6 728.8,574.8 728.8,636.7 729.2,646.2 729.2,605.8 729.8,569.9 729.8,599.7 730.2,637.2 730.2,422.7 730.8,629.9 730.8,648.1 731.2,610.5 731.2,585.8 731.8,444.5 731.8,628.7 732.2,643.1 732.2,607.1 732.8,603.4 732.8,654.8 733.2,603.6 733.2,402.6 733.8,474.9 733.8,622.3 734.2,714.3 734.2,555.7 734.8,477.8 734.8,647.5 735.2,601.9 735.2,468.2 735.8,441.4 735.8,694.4 736.2,658.5 736.2,482.9 736.8,429.6 736.8,691.9 737.2,641.3 737.2,439.8 737.8,582.6 737.8,619.0 738.2,617.7 738.2,594.3 738.8,64.6 738.8,564.0 739.2,602.6 739.2,558.5 739.8,622.2 739.8,674.6 740.2,607.1 740.2,576.0 740.8,431.4 740.8,577.2 741.2,603.9 741.2,433.3 741.8,454.6 741.8,617.1 742.2,645.8 742.2,594.9 742.8,554.4 742.8,610.5 743.2,652.7 743.2,446.3 743.8,596.5 743.8,628.2 744.2,652.9 744.2,471.6 744.8,589.9 744.8,669.6 745.2,648.8 745.2,575.7 745.8,591.6 745.8,662.0 746.2,611.2 746.2,585.3 746.8,389.0 746.8,621.8 747.2,606.5 747.2,536.5 747.8,626.9 747.8,660.7 748.2,633.2 748.2,598.1 748.8,493.5 748.8,625.2 749.2,613.6 749.2,571.5 749.8,504.4 749.8,624.4 750.2,642.6 750.2,598.1 750.8,602.0 750.8,652.4 751.2,672.3 751.2,599.2 751.8,458.7 751.8,631.0 752.2,635.7 752.2,556.7 752.8,605.3 752.8,614.9 753.2,618.8 753.2,591.7 753.8,602.1 753.8,695.5 754.2,619.9 754.2,474.9 754.8,604.1 754.8,668.3 755.2,624.4 755.2,586.8 755.8,466.9 755.8,705.4 756.2,628.9 756.2,582.2 756.8,589.8 756.8,669.6 757.2,654.3 757.2,586.0 757.8,456.8 757.8,582.2 758.2,623.6 758.2,584.0 758.8,481.0 758.8,634.2 759.2,659.1 759.2,605.1 759.8,446.5 759.8,605.7 760.2,640.5 760.2,578.1 760.8,598.4 760.8,603.3 761.2,658.0 761.2,567.3 761.8,574.6 761.8,632.6 762.2,629.1 762.2,554.5 762.8,484.0 762.8,658.6 763.2,601.4 763.2,481.0 763.8,491.1 763.8,629.8 764.2,725.9 764.2,593.1 764.8,470.4 764.8,612.7 765.2,592.2 765.2,558.6 765.8,474.7 765.8,637.1 766.2,622.7 766.2,577.2 766.8,580.8 766.8,613.6 767.2,647.1 767.2,550.6 767.8,604.7 767.8,642.5 768.2,615.3 768.2,580.5 768.8,584.3 768.8,635.4 769.2,648.1 769.2,517.0 769.8,504.2 769.8,654.1 770.2,603.7 770.2,512.3 770.8,466.2 770.8,619.5 771.2,620.7 771.2,536.4 771.8,588.8 771.8,646.1 772.2,648.6 772.2,568.8 772.8,579.9 772.8,614.0 773.2,631.5 773.2,581.6 773.8,586.5 773.8,609.5 774.2,681.0 774.2,530.1 774.8,564.7 774.8,614.7 775.2,625.1 775.2,540.1 775.8,601.6 775.8,627.8 776.2,641.9 776.2,581.0 776.8,590.6 776.8,699.7 777.2,661.3 777.2,595.1 777.8,579.9 777.8,646.7 778.2,647.4 778.2,494.5 778.8,465.2 778.8,613.1 779.2,619.8 779.2,571.2 779.8,496.6 779.8,619.7 780.2,623.6 780.2,607.3 780.8,591.8 780.8,654.7 781.2,632.0 781.2,563.6 781.8,583.5 781.8,645.7 782.2,668.7 782.2,587.2 782.8,600.0 782.8,623.9 783.2,637.4 783.2,600.2 783.8,565.7 783.8,672.4 784.2,651.7 784.2,596.3 784.8,588.5 784.8,657.9 785.2,676.6 785.2,583.7 785.8,526.5 785.8,616.4 786.2,663.1 786.2,629.2 786.8,485.8 786.8,634.0 787.2,691.7 787.2,604.7 787.8,519.1 787.8,584.9 788.2,660.4 788.2,562.1 788.8,571.6 788.8,647.9 789.2,637.1 789.2,569.1 789.8,578.3 789.8,614.4 790.2,673.4 790.2,595.4 790.8,585.0 790.8,661.8 791.2,628.1 791.2,597.8 791.8,564.1 791.8,620.8 792.2,631.0 792.2,476.0 792.8,505.7 792.8,657.0 793.2,614.0 793.2,546.9 793.8,586.3 793.8,614.4 794.2,665.1 794.2,602.6 794.8,518.1 794.8,633.9 795.2,641.6 795.2,503.7 795.8,588.5 795.8,640.4 796.2,612.7 796.2,593.1 796.8,559.3 796.8,602.2 797.2,640.9 797.2,578.8 797.8,608.5 797.8,650.1 798.2,650.2 798.2,602.4 798.8,573.6 798.8,608.4 799.2,620.3 799.2,501.3 799.8,601.1 799.8,641.8 800.2,729.7 800.2,579.8 800.8,599.8 800.8,627.3 801.2,632.5 801.2,608.8 801.8,575.5 801.8,634.8 802.2,673.7 802.2,566.8 802.8,569.1 802.8,631.7 803.2,625.6 803.2,564.8 803.8,600.9 803.8,614.8 804.2,599.0 804.2,572.9 804.8,587.2 804.8,626.3 805.2,626.5 805.2,570.5 805.8,571.9 805.8,626.9 806.2,621.0 806.2,495.1 806.8,597.0 806.8,647.6 807.2,643.4 807.2,565.0 807.8,575.1 807.8,636.4 808.2,657.0 808.2,585.9 808.8,553.2 808.8,625.7 809.2,611.3 809.2,598.6 809.8,591.6 809.8,649.4 810.2,624.9 810.2,591.6 810.8,615.1 810.8,660.6 811.2,595.7 811.2,485.8 811.8,598.7 811.8,625.7 812.2,625.5 812.2,595.7 812.8,595.5 812.8,609.7 813.2,674.3 813.2,597.8 813.8,504.0 813.8,633.2 814.2,639.9 814.2,603.3 814.8,594.6 814.8,614.0 815.2,646.3 815.2,579.8 815.8,580.3 815.8,653.3 816.2,633.5 816.2,583.7 816.8,511.4 816.8,581.9 817.2,626.7 817.2,578.4 817.8,572.1 817.8,653.1 818.2,653.5 818.2,524.7 818.8,585.8 818.8,686.2 819.2,668.1 819.2,568.7 819.8,589.7 819.8,645.3 820.2,617.7 820.2,593.0 820.8,558.0 820.8,636.5 821.2,615.6 821.2,585.3 821.8,581.9 821.8,624.4 822.2,614.3 822.2,566.4 822.8,586.9 822.8,627.1 823.2,617.3 823.2,588.4 823.8,583.9 823.8,626.1 824.2,634.3 824.2,512.5 824.8,629.6 824.8,663.1 825.2,618.7 825.2,610.7 825.8,580.8 825.8,607.1 826.2,586.5 826.2,568.4 826.8,596.4 826.8,631.9 827.2,616.5 827.2,553.6 827.8,579.7 827.8,622.3 828.2,627.2 828.2,571.6 828.8,522.2 828.8,598.5 829.2,650.7 829.2,579.3 829.8,612.0 829.8,627.5 830.2,635.4 830.2,613.9 830.8,547.1 830.8,655.2 831.2,641.6 831.2,586.0 831.8,617.6 831.8,682.1 832.2,645.7 832.2,605.0 832.8,578.8 832.8,644.5 833.2,614.6 833.2,600.8 833.8,537.1 833.8,621.4 834.2,603.3 834.2,528.3 834.8,573.9 834.8,627.6 835.2,641.8 835.2,592.5 835.8,571.9 835.8,626.3 836.2,703.4 836.2,581.8 836.8,542.4 836.8,625.3 837.2,599.2 837.2,586.3 837.8,574.2 837.8,642.5 838.2,652.0 838.2,612.2 838.8,592.9 838.8,615.0 839.2,640.3 839.2,634.6 839.8,594.0 839.8,612.3 840.2,638.9 840.2,592.5 840.8,598.3 840.8,636.4 841.2,747.1 841.2,552.8 841.8,610.6 841.8,623.5 842.2,639.2 842.2,585.5 842.8,586.0 842.8,618.0 843.2,622.4 843.2,601.0 843.8,601.9 843.8,627.3 844.2,650.9 844.2,594.7 844.8,531.9 844.8,627.2 845.2,617.4 845.2,593.6 845.8,514.8 845.8,641.7 846.2,624.4 846.2,564.0 846.8,575.6 846.8,576.2 847.2,618.3 847.2,590.8 847.8,579.7 847.8,638.3 848.2,637.1 848.2,574.9 848.8,541.4 848.8,664.8 849.2,639.9 849.2,581.8 849.8,600.5 849.8,607.3 850.2,637.8 850.2,593.2 850.8,595.9 850.8,655.3 851.2,633.4 851.2,580.1 851.8,605.8 851.8,654.9 852.2,679.5 852.2,609.8 852.8,608.5 852.8,632.3 853.2,685.3 853.2,554.3 853.8,565.3 853.8,598.6 854.2,605.6 854.2,555.1 854.8,589.3 854.8,629.1 855.2,655.5 855.2,564.6 855.8,585.2 855.8,615.6 856.2,608.7 856.2,586.4 856.8,596.0 856.8,650.2 857.2,606.5 857.2,567.9 857.8,545.3 857.8,633.9 858.2,661.9 858.2,604.7 858.8,597.9 858.8,672.6 859.2,661.1 859.2,608.9 859.8,570.3 859.8,641.7 860.2,643.2 860.2,581.7 860.8,594.2 860.8,642.0 861.2,628.7 861.2,603.4 861.8,552.6 861.8,616.2 862.2,610.4 862.2,560.2 862.8,592.3 862.8,635.9 863.2,628.6 863.2,592.3 863.8,565.8 863.8,668.9 864.2,682.3 864.2,581.2 864.8,600.5 864.8,626.2 865.2,640.6 865.2,586.8 865.8,606.4 865.8,671.3 866.2,630.5 866.2,603.8 866.8,576.0 866.8,625.9 867.2,616.5 867.2,598.0 867.8,584.2 867.8,628.7 868.2,644.1 868.2,563.9 868.8,584.7 868.8,637.9 869.2,669.4 869.2,622.5 869.8,590.6 869.8,619.5 870.2,705.5 870.2,610.3 870.8,559.5 870.8,654.8 871.2,703.8 871.2,610.2 871.8,593.1 871.8,606.4 872.2,624.0 872.2,576.0 872.8,595.5 872.8,653.8 873.2,691.9 873.2,589.6 873.8,608.7 873.8,721.9 874.2,614.4 874.2,585.8 874.8,617.1 874.8,672.6 875.2,636.5 875.2,590.9 875.8,578.9 875.8,641.8 876.2,638.8 876.2,589.5 876.8,592.8 876.8,621.9 877.2,659.8 877.2,626.7 877.8,594.3 877.8,631.9 878.2,646.3 878.2,603.5 878.8,577.3 878.8,602.9 879.2,660.7 879.2,583.0 879.8,641.5 879.8,656.1 880.2,640.6 880.2,578.8 880.8,577.4 880.8,591.4 881.2,625.9 881.2,588.3 881.8,598.2 881.8,636.7 882.2,663.6 882.2,607.7 882.8,588.4 882.8,612.8 883.2,696.3 883.2,581.3 883.8,556.2 883.8,664.6 884.2,645.6 884.2,587.7 884.8,605.0 884.8,632.2 885.2,678.8 885.2,580.1 885.8,612.1 885.8,640.0 886.2,595.5 886.2,576.3 886.8,578.5 886.8,632.7 887.2,635.7 887.2,591.7 887.8,598.9 887.8,618.7 888.2,619.8 888.2,580.7 888.8,589.0 888.8,611.4 889.2,625.7 889.2,577.6 889.8,585.6 889.8,640.1 890.2,633.6 890.2,584.5 890.8,571.7 890.8,666.1 891.2,643.3 891.2,605.1 891.8,589.0 891.8,612.2 892.2,623.4 892.2,592.5 892.8,564.3 892.8,638.7 893.2,668.4 893.2,571.8 893.8,544.6 893.8,603.8 894.2,631.4 894.2,604.5 894.8,574.9 894.8,635.4 895.2,624.2 895.2,590.4 895.8,589.1 895.8,636.7 896.2,621.5 896.2,514.8 896.8,556.7 896.8,628.8 897.2,613.3 897.2,600.7 897.8,587.0 897.8,612.7 898.2,633.7 898.2,564.9 898.8,574.3 898.8,630.7 899.2,648.8 899.2,587.9 899.8,580.8 899.8,623.4 900.2,627.5 900.2,555.3 900.8,592.3 900.8,609.7 901.2,596.0 901.2,553.1 901.8,587.3 901.8,637.7 902.2,682.4 902.2,600.6 902.8,570.5 902.8,631.1 903.2,659.1 903.2,561.1 903.8,605.2 903.8,625.2 904.2,598.3 904.2,574.7 904.8,611.3 904.8,636.0 905.2,658.8 905.2,541.7 905.8,578.8 905.8,652.9 906.2,701.3 906.2,592.8 906.8,603.1 906.8,611.2 907.2,739.1 907.2,547.3 907.8,602.7 907.8,668.9 908.2,665.4 908.2,551.7 908.8,568.8 908.8,647.7 909.2,638.0 909.2,598.3 909.8,547.5 909.8,618.5 910.2,614.0 910.2,547.4 910.8,594.0 910.8,605.6 911.2,684.0 911.2,551.8 911.8,605.9 911.8,639.7 912.2,631.7 912.2,625.8 912.8,543.0 912.8,622.7 913.2,646.2 913.2,615.3 913.8,613.3 913.8,632.8 914.2,584.7 914.2,558.2 914.8,588.1 914.8,615.6 915.2,695.9 915.2,590.7 915.8,571.5 915.8,622.2 916.2,638.8 916.2,579.1 916.8,583.3 916.8,633.3 917.2,605.0 917.2,600.7 917.8,596.4 917.8,611.1 918.2,633.2 918.2,573.1 918.8,584.6 918.8,665.1 919.2,635.1 919.2,571.8 919.8,554.6 919.8,615.9 920.2,619.1 920.2,604.5 920.8,583.7 920.8,622.2 921.2,729.2 921.2,573.3 921.8,580.2 921.8,651.1 922.2,675.1 922.2,595.5 922.8,578.5 922.8,660.4 923.2,602.4 923.2,588.5 923.8,595.7 923.8,649.5 924.2,633.9 924.2,570.9 924.8,588.5 924.8,602.8 925.2,634.2 925.2,598.9 925.8,568.3 925.8,668.8 926.2,660.2 926.2,598.3 926.8,573.1 926.8,622.7 927.2,661.7 927.2,601.1 927.8,580.4 927.8,588.8 928.2,627.8 928.2,573.3 928.8,579.6 928.8,642.2 929.2,623.3 929.2,579.5 929.8,608.6 929.8,682.9 930.2,615.9 930.2,585.5 930.8,607.7 930.8,621.7 931.2,602.7 931.2,560.4 931.8,579.9 931.8,636.7 932.2,698.9 932.2,588.2 932.8,579.1 932.8,635.8 933.2,631.7 933.2,559.9 933.8,594.2 933.8,629.9 934.2,643.6 934.2,612.1 934.8,582.2 934.8,614.0 935.2,622.8 935.2,566.2 935.8,595.9 935.8,613.0 936.2,633.3 936.2,574.2 936.8,576.8 936.8,616.6 937.2,610.1 937.2,574.2 937.8,567.6 937.8,650.3 938.2,627.3 938.2,556.6 938.8,581.0 938.8,659.7 939.2,661.0 939.2,593.4 939.8,602.3 939.8,641.8 940.2,622.3 940.2,604.7 940.8,594.1 940.8,625.6 941.2,679.5 941.2,619.6 941.8,542.5 941.8,628.3 942.2,647.8 942.2,582.9 942.8,608.8 942.8,629.7 943.2,647.6 943.2,573.5 943.8,553.9 943.8,583.9 944.2,672.2 944.2,609.1 944.8,627.1 944.8,638.8 945.2,651.1 945.2,560.2 945.8,609.2 945.8,626.8 946.2,658.7 946.2,583.8 946.8,588.9 946.8,655.7 947.2,615.3 947.2,575.5 947.8,557.3 947.8,617.6 948.2,691.0 948.2,530.9 948.8,619.6 948.8,636.5 949.2,632.1 949.2,577.0 949.8,610.7 949.8,667.9 950.2,609.9 950.2,568.0 950.8,579.2 950.8,631.1 951.2,638.7 951.2,586.3 951.8,535.7 951.8,673.5 952.2,593.7 952.2,550.2 952.8,601.2 952.8,623.5 953.2,603.8 953.2,584.3 953.8,604.8 953.8,667.1 954.2,660.6 954.2,590.0 954.8,598.0 954.8,624.2 955.2,636.5 955.2,602.7 955.8,587.2 955.8,607.1 956.2,644.5 956.2,609.3 956.8,565.4 956.8,605.3 957.2,644.8 957.2,543.6 957.8,586.9 957.8,633.0 958.2,731.4 958.2,594.2 958.8,595.8 958.8,632.4 959.2,688.9 959.2,571.7 959.8,604.1 959.8,623.1 960.2,612.5 960.2,587.7 960.8,579.4 960.8,675.8 961.2,651.2 961.2,579.3 961.8,623.4 961.8,649.8 962.2,622.0 962.2,589.1 962.8,567.1 962.8,631.3 963.2,717.5 963.2,608.7 963.8,576.0 963.8,681.5 964.2,617.7 964.2,576.2 964.8,575.9 964.8,651.0 965.2,649.2 965.2,614.5 965.8,607.0 965.8,655.8 966.2,618.2 966.2,523.7 966.8,596.7 966.8,615.8 967.2,655.3 967.2,601.9 967.8,573.3 967.8,646.1 968.2,637.4 968.2,572.7 968.8,598.9 968.8,648.0 969.2,624.5 969.2,587.3 969.8,543.7 969.8,623.1 970.2,654.5 970.2,624.2 970.8,591.5 970.8,666.7 971.2,646.2 971.2,597.4 971.8,597.9 971.8,615.5 972.2,647.2 972.2,606.3 972.8,604.9 972.8,658.7 973.2,649.0 973.2,592.4 973.8,594.8 973.8,600.3 974.2,622.5 974.2,595.4 974.8,609.0 974.8,624.8 975.2,603.3 975.2,576.3 975.8,593.3 975.8,673.1 976.2,614.6 976.2,565.6 976.8,608.0 976.8,632.1 977.2,670.8 977.2,544.5 977.8,570.4 977.8,601.6 978.2,666.4 978.2,632.6 978.8,569.1 978.8,634.6 979.2,628.5 979.2,573.6 979.8,571.7 979.8,598.4 980.2,617.3 980.2,594.6 980.8,579.6 980.8,640.9 981.2,627.2 981.2,589.4 981.8,585.0 981.8,613.1 982.2,645.9 982.2,604.4 982.8,585.4 982.8,617.6 983.2,629.6 983.2,571.6 983.8,577.7 983.8,595.2 984.2,646.3 984.2,566.5 984.8,604.2 984.8,643.4 985.2,615.8 985.2,582.3 985.8,551.8 985.8,610.3 986.2,621.2 986.2,565.0 986.8,570.9 986.8,669.2 987.2,654.6 987.2,577.9 987.8,595.7 987.8,621.6 988.2,637.5 988.2,582.2 988.8,557.3 988.8,639.4 989.2,644.1 989.2,593.6 989.8,592.4 989.8,630.5 990.2,646.6 990.2,603.7 990.8,562.7 990.8,618.6 991.2,641.0 991.2,574.9 991.8,577.1 991.8,645.6 992.2,641.5 992.2,619.8 992.8,597.2 992.8,663.5 993.2,632.3 993.2,603.5 993.8,599.7 993.8,643.6 994.2,671.0 994.2,593.1 994.8,573.9 994.8,734.7 995.2,609.6 995.2,562.1 995.8,602.1 995.8,641.1 996.2,630.8 996.2,605.5 996.8,602.4 996.8,711.7 997.2,637.2 997.2,580.1 997.8,590.5 997.8,700.0 998.2,615.7 998.2,587.1 998.8,602.3 998.8,684.7 999.2,640.6 999.2,568.3 999.8,604.9 999.8,625.7 1000.2,623.0 1000.2,553.2 1000.8,572.3 1000.8,672.5 1001.2,616.7 1001.2,595.5 1001.8,627.6 1001.8,661.9 1002.2,642.5 1002.2,566.5 1002.8,601.0 1002.8,668.7 1003.2,608.4 1003.2,568.8 1003.8,565.6 1003.8,638.9 1004.2,636.7 1004.2,603.1 1004.8,580.5 1004.8,641.4 1005.2,603.5 1005.2,595.7 1005.8,577.0 1005.8,645.0 1006.2,647.6 1006.2,602.2 1006.8,575.7 1006.8,624.6 1007.2,611.3 1007.2,598.5 1007.8,551.4 1007.8,607.0 1008.2,633.6 1008.2,598.2 1008.8,570.4 1008.8,658.0 1009.2,627.0 1009.2,594.3 1009.8,596.8 1009.8,632.6 1010.2,614.2 1010.2,591.5 1010.8,601.9 1010.8,628.0 1011.2,650.8 1011.2,570.1 1011.8,589.9 1011.8,632.7 1012.2,670.3 1012.2,629.3 1012.8,579.5 1012.8,625.9 1013.2,654.2 1013.2,537.9 1013.8,619.4 1013.8,682.8 1014.2,629.7 1014.2,572.2 1014.8,594.6 1014.8,647.1 1015.2,577.9 1015.2,542.0 1015.8,577.5 1015.8,615.8 1016.2,646.3 1016.2,570.7 1016.8,631.6 1016.8,665.3 1017.2,693.9 1017.2,581.1 1017.8,548.4 1017.8,571.4 1018.2,627.3 1018.2,592.7 1018.8,599.5 1018.8,656.9 1019.2,609.2 1019.2,596.7 1019.8,568.0 1019.8,645.3 1020.2,629.6 1020.2,597.5 1020.8,564.8 1020.8,657.7 1021.2,610.6 1021.2,594.1 1021.8,573.9 1021.8,606.5 1022.2,638.6 1022.2,568.1 1022.8,594.4 1022.8,638.5 1023.2,664.7 1023.2,566.6 1023.8,610.2 1023.8,662.1 1024.2,645.0 1024.2,577.5 1024.8,607.0 1024.8,625.6 1025.2,580.1 1025.2,567.2 1025.8,579.0 1025.8,599.6 1026.2,607.2 1026.2,593.8 1026.8,634.3 1026.8,663.9 1027.2,747.1 1027.2,578.6 1027.8,583.9 1027.8,618.1 1028.2,611.1 1028.2,591.9 1028.8,599.1 1028.8,656.3 1029.2,685.1 1029.2,603.2 1029.8,592.3 1029.8,630.4 1030.2,596.3 1030.2,567.2 1030.8,620.2 1030.8,626.8 1031.2,642.1 1031.2,600.6 1031.8,588.6 1031.8,621.7 1032.2,681.1 1032.2,609.2 1032.8,568.1 1032.8,640.9 1033.2,638.3 1033.2,610.4 1033.8,603.2 1033.8,643.4 1034.2,624.8 1034.2,612.0 1034.8,608.9 1034.8,623.1 1035.2,591.4 1035.2,574.2 1035.8,609.0 1035.8,651.4 1036.2,665.7 1036.2,613.9 1036.8,617.1 1036.8,624.2 1037.2,643.1 1037.2,579.1 1037.8,600.7 1037.8,645.5 1038.2,600.1 1038.2,574.5 1038.8,594.7 1038.8,634.0 1039.2,638.0 1039.2,574.2 1039.8,554.4 1039.8,610.5 1040.2,621.8 1040.2,592.3 1040.8,592.4 1040.8,601.8 1041.2,609.8 1041.2,555.3 1041.8,577.2 1041.8,613.5 1042.2,635.1 1042.2,609.0 1042.8,597.9 1042.8,646.8 1043.2,612.8 1043.2,598.3 1043.8,565.4 1043.8,632.3 1044.2,657.5 1044.2,598.2 1044.8,601.7 1044.8,610.2 1045.2,598.8 1045.2,585.1 1045.8,549.9 1045.8,677.6 1046.2,624.8 1046.2,599.6 1046.8,605.2 1046.8,644.4 1047.2,603.0 1047.2,587.3 1047.8,593.5 1047.8,605.2 1048.2,616.7 1048.2,591.0 1048.8,602.5 1048.8,649.4 1049.2,604.5 1049.2,596.1 1049.8,588.2 1049.8,618.8 1050.2,632.8 1050.2,547.4 1050.8,614.5 1050.8,621.7 1051.2,701.4 1051.2,561.9 1051.8,581.9 1051.8,649.8 1052.2,604.5 1052.2,563.4 1052.8,587.2 1052.8,745.0 1053.2,639.4 1053.2,600.6 1053.8,585.3 1053.8,664.4 1054.2,642.8 1054.2,597.1 1054.8,582.9 1054.8,631.0 1055.2,619.7 1055.2,574.2 1055.8,555.2 1055.8,610.6 1056.2,628.5 1056.2,597.4 1056.8,584.5 1056.8,647.0 1057.2,669.4 1057.2,594.9 1057.8,574.8 1057.8,684.7 1058.2,650.5 1058.2,539.1 1058.8,585.1 1058.8,609.9 1059.2,617.6 1059.2,591.8 1059.8,643.4 1059.8,689.7 1060.2,609.9 1060.2,598.2 1060.8,605.5 1060.8,623.4 1061.2,613.0 1061.2,551.1 1061.8,608.5 1061.8,624.3 1062.2,631.9 1062.2,566.3 1062.8,577.8 1062.8,673.1 1063.2,635.8 1063.2,598.6 1063.8,572.3 1063.8,617.1 1064.2,622.9 1064.2,551.0 1064.8,542.2 1064.8,682.6 1065.2,612.3 1065.2,583.2 1065.8,608.3 1065.8,677.5 1066.2,602.5 1066.2,596.2 1066.8,585.1 1066.8,633.0 1067.2,599.4 1067.2,548.3 1067.8,573.2 1067.8,657.3 1068.2,617.6 1068.2,594.1 1068.8,601.8 1068.8,640.2 1069.2,618.7 1069.2,594.9 1069.8,594.9 1069.8,649.4 1070.2,623.8 1070.2,577.3 1070.8,607.9 1070.8,616.6 1071.2,654.9 1071.2,631.1 1071.8,547.0 1071.8,694.1 1072.2,611.0 1072.2,554.6 1072.8,611.4 1072.8,614.2 1073.2,607.3 1073.2,602.6 1073.8,535.2 1073.8,608.4 1074.2,668.6 1074.2,565.4 1074.8,586.7 1074.8,629.9 1075.2,610.0 1075.2,585.1 1075.8,592.7 1075.8,623.4 1076.2,645.9 1076.2,605.0 1076.8,580.7 1076.8,624.4 1077.2,652.9 1077.2,633.7 1077.8,583.7 1077.8,630.2 1078.2,621.9 1078.2,547.5 1078.8,526.1 1078.8,641.2 1079.2,615.9 1079.2,566.5 1079.8,562.9 1079.8,624.2 1080.2,645.3 1080.2,591.3 1080.8,552.7 1080.8,628.0 1081.2,655.3 1081.2,633.9 1081.8,576.6 1081.8,624.2 1082.2,645.4 1082.2,590.6 1082.8,598.9 1082.8,616.8 1083.2,640.2 1083.2,591.3 1083.8,577.2 1083.8,657.9 1084.2,641.9 1084.2,587.8 1084.8,573.5 1084.8,621.3 1085.2,657.6 1085.2,598.6 1085.8,569.9 1085.8,618.6 1086.2,625.7 1086.2,616.1 1086.8,618.2 1086.8,674.5 1087.2,687.2 1087.2,541.2 1087.8,583.4 1087.8,619.7 1088.2,684.6 1088.2,622.0 1088.8,548.9 1088.8,611.4 1089.2,642.1 1089.2,600.0 1089.8,571.9 1089.8,687.9 1090.2,645.9 1090.2,604.8 1090.8,574.6 1090.8,625.4 1091.2,635.2 1091.2,568.8 1091.8,567.6 1091.8,613.0 1092.2,660.3 1092.2,585.5 1092.8,565.2 1092.8,594.3 1093.2,666.9 1093.2,601.9 1093.8,569.8 1093.8,686.5 1094.2,641.7 1094.2,586.9 1094.8,609.4 1094.8,639.4 1095.2,619.3 1095.2,541.0 1095.8,628.0 1095.8,670.5 1096.2,627.3 1096.2,574.9 1096.8,615.3 1096.8,652.4 1097.2,656.8 1097.2,573.0 1097.8,586.3 1097.8,684.0 1098.2,614.9 1098.2,591.5 1098.8,532.9 1098.8,637.7 1099.2,598.9 1099.2,569.5 1099.8,550.5 1099.8,620.9 1100.2,639.8 1100.2,599.4 1100.8,601.2 1100.8,660.0 1101.2,623.1 1101.2,576.0 1101.8,593.6 1101.8,669.4 1102.2,637.7 1102.2,581.3 1102.8,532.0 1102.8,589.5 1103.2,618.4 1103.2,542.6 1103.8,568.3 1103.8,603.7 1104.2,614.3 1104.2,546.8 1104.8,578.7 1104.8,637.5 1105.2,685.1 1105.2,590.0 1105.8,553.8 1105.8,631.1 1106.2,650.6 1106.2,595.2 1106.8,604.9 1106.8,672.6 1107.2,601.5 1107.2,571.0 1107.8,573.3 1107.8,652.3 1108.2,666.7 1108.2,583.9 1108.8,554.8 1108.8,636.5 1109.2,626.5 1109.2,567.3 1109.8,603.0 1109.8,660.0 1110.2,639.3 1110.2,563.8 1110.8,607.4 1110.8,656.7 1111.2,588.7 1111.2,577.2 1111.8,575.1 1111.8,666.3 1112.2,618.0 1112.2,563.3 1112.8,584.1 1112.8,651.6 1113.2,624.0 1113.2,583.4 1113.8,553.2 1113.8,648.3 1114.2,634.1 1114.2,584.4 1114.8,571.3 1114.8,654.9 1115.2,686.7 1115.2,635.3 1115.8,580.3 1115.8,671.3 1116.2,710.9 1116.2,593.6 1116.8,582.9 1116.8,638.9 1117.2,597.7 1117.2,593.3 1117.8,571.7 1117.8,626.1 1118.2,604.5 1118.2,572.6 1118.8,574.9 1118.8,611.9 1119.2,641.7 1119.2,608.6 1119.8,557.5 1119.8,655.8 1120.2,658.2 1120.2,591.2 1120.8,598.9 1120.8,630.2 1121.2,619.6 1121.2,564.3 1121.8,579.8 1121.8,642.6 1122.2,631.8 1122.2,570.2 1122.8,559.1 1122.8,662.6 1123.2,612.6 1123.2,589.6 1123.8,592.8 1123.8,598.9 1124.2,635.8 1124.2,608.8 1124.8,578.7 1124.8,628.5 1125.2,619.3 1125.2,587.7 1125.8,600.1 1125.8,641.6 1126.2,638.0 1126.2,579.6 1126.8,593.6 1126.8,620.9 1127.2,612.0 1127.2,533.7 1127.8,547.6 1127.8,651.3 1128.2,627.7 1128.2,613.3 1128.8,591.6 1128.8,654.3 1129.2,661.0 1129.2,583.0 1129.8,603.7 1129.8,633.6 1130.2,641.2 1130.2,618.5 1130.8,586.6 1130.8,620.3 1131.2,613.7 1131.2,603.7 1131.8,581.0 1131.8,636.4 1132.2,635.4 1132.2,600.6 1132.8,635.4 1132.8,689.7 1133.2,747.1 1133.2,576.5 1133.8,614.4 1133.8,694.4 1134.2,571.7 1134.2,540.0 1134.8,544.8 1134.8,619.5 1135.2,684.5 1135.2,592.3 1135.8,570.1 1135.8,645.4 1136.2,613.3 1136.2,564.9 1136.8,593.1 1136.8,636.2 1137.2,696.2 1137.2,584.6 1137.8,570.8 1137.8,622.6 1138.2,608.1 1138.2,568.3 1138.8,614.8 1138.8,675.1 1139.2,661.3 1139.2,593.8 1139.8,611.6 1139.8,654.2 1140.2,617.2 1140.2,600.0 1140.8,562.6 1140.8,673.9 1141.2,641.7 1141.2,607.7 1141.8,587.3 1141.8,646.6 1142.2,663.6 1142.2,604.4 1142.8,594.9 1142.8,627.3 1143.2,625.5 1143.2,582.1 1143.8,636.2 1143.8,712.2 1144.2,655.6 1144.2,602.7 1144.8,613.5 1144.8,634.6 1145.2,639.9 1145.2,579.7 1145.8,577.7 1145.8,624.4 1146.2,628.7 1146.2,593.2 1146.8,591.4 1146.8,646.3 1147.2,659.6 1147.2,577.7 1147.8,566.9 1147.8,627.5 1148.2,676.6 1148.2,574.8 1148.8,587.5 1148.8,607.2 1149.2,618.8 1149.2,591.1 1149.8,569.5 1149.8,626.1 1150.2,633.8 1150.2,581.1 1150.8,556.9 1150.8,610.3 1151.2,611.6 1151.2,570.2 1151.8,596.6 1151.8,635.6 1152.2,650.1 1152.2,624.5 1152.8,569.3 1152.8,626.0 1153.2,641.4 1153.2,597.3 1153.8,590.8 1153.8,626.3 1154.2,641.6 1154.2,596.0 1154.8,571.6 1154.8,641.6 1155.2,625.7 1155.2,586.0 1155.8,596.5 1155.8,633.0 1156.2,608.0 1156.2,571.8 1156.8,601.7 1156.8,627.3 1157.2,655.5 1157.2,564.1 1157.8,609.9 1157.8,648.9 1158.2,637.0 1158.2,532.9 1158.8,570.9 1158.8,655.7 1159.2,597.8 1159.2,572.9 1159.8,568.1 1159.8,693.4 1160.2,656.3 1160.2,604.5 1160.8,577.0 1160.8,630.9 1161.2,637.6 1161.2,591.9 1161.8,590.3 1161.8,673.3 1162.2,615.3 1162.2,598.1 1162.8,569.2 1162.8,612.6 1163.2,622.8 1163.2,601.9 1163.8,577.7 1163.8,628.9 1164.2,665.6 1164.2,584.6 1164.8,581.6 1164.8,616.3 1165.2,616.4 1165.2,597.8 1165.8,587.8 1165.8,634.2 1166.2,655.1 1166.2,573.8 1166.8,603.0 1166.8,657.2 1167.2,691.6 1167.2,606.5 1167.8,581.1 1167.8,620.2 1168.2,657.4 1168.2,579.2 1168.8,592.6 1168.8,642.8 1169.2,687.4 1169.2,583.6 1169.8,529.8 1169.8,619.3 1170.2,646.5 1170.2,591.3 1170.8,586.3 1170.8,636.9 1171.2,619.9 1171.2,584.9 1171.8,577.3 1171.8,703.1 1172.2,606.2 1172.2,573.5 1172.8,561.6 1172.8,615.7 1173.2,647.5 1173.2,545.6 1173.8,594.4 1173.8,618.4 1174.2,612.2 1174.2,584.3 1174.8,592.9 1174.8,625.8 1175.2,632.6 1175.2,595.0 1175.8,557.9 1175.8,646.9 1176.2,655.7 1176.2,584.4 1176.8,615.0 1176.8,660.5 1177.2,608.5 1177.2,595.1 1177.8,590.5 1177.8,622.5 1178.2,645.6 1178.2,579.2 1178.8,580.0 1178.8,601.7 1179.2,604.6 1179.2,578.1 1179.8,534.7 1179.8,623.6 1180.2,640.8 1180.2,610.2 1180.8,584.2 1180.8,605.7 1181.2,692.9 1181.2,602.8 1181.8,603.9 1181.8,635.5 1182.2,673.9 1182.2,589.2 1182.8,565.5 1182.8,653.0 1183.2,639.4 1183.2,611.7 1183.8,573.5 1183.8,598.4 1184.2,633.9 1184.2,568.4 1184.8,607.9 1184.8,611.5 1185.2,605.6 1185.2,568.4 1185.8,586.0 1185.8,645.2 1186.2,643.5 1186.2,569.8 1186.8,590.0 1186.8,659.2 1187.2,668.8 1187.2,586.0 1187.8,580.0 1187.8,633.5 1188.2,653.6 1188.2,583.8 1188.8,581.8 1188.8,731.5 1189.2,622.0 1189.2,617.3 1189.8,558.4 1189.8,622.2 1190.2,746.6 1190.2,614.7 1190.8,603.8 1190.8,621.9 1191.2,620.5 1191.2,574.2 1191.8,589.7 1191.8,646.4 1192.2,625.0 1192.2,578.3 1192.8,596.7 1192.8,645.3 1193.2,652.2 1193.2,582.4 1193.8,596.9 1193.8,612.0 1194.2,650.5 1194.2,628.6 1194.8,571.7 1194.8,633.8 1195.2,609.6 1195.2,601.2 1195.8,582.7 1195.8,620.7 1196.2,666.2 1196.2,643.9 1196.8,565.4 1196.8,589.0 1197.2,666.1 1197.2,613.5 1197.8,560.8 1197.8,622.5 1198.2,616.4 1198.2,572.1 1198.8,625.7 1198.8,642.1 1199.2,668.7 1199.2,581.7 1199.8,579.8 1199.8,624.4 1200.2,612.0 1200.2,566.1 1200.8,575.2 1200.8,645.3 1201.2,653.7 1201.2,589.0 1201.8,584.3 1201.8,654.1 1202.2,682.5 1202.2,574.8 1202.8,593.6 1202.8,640.6 1203.2,622.6 1203.2,581.0 1203.8,553.5 1203.8,670.4 1204.2,620.2 1204.2,598.4 1204.8,585.5 1204.8,660.4 1205.2,631.0 1205.2,579.4 1205.8,525.1 1205.8,633.7 1206.2,632.8 1206.2,611.3 1206.8,602.0 1206.8,639.5 1207.2,644.2 1207.2,590.7 1207.8,582.8 1207.8,634.6 1208.2,655.7 1208.2,599.0 1208.8,557.0 1208.8,659.6 1209.2,601.6 1209.2,545.8 1209.8,613.5 1209.8,616.3 1210.2,627.5 1210.2,609.2 1210.8,598.7 1210.8,616.0 1211.2,668.1 1211.2,596.9 1211.8,557.5 1211.8,615.0 1212.2,622.7 1212.2,572.2 1212.8,585.2 1212.8,609.8 1213.2,660.2 1213.2,602.5 1213.8,600.9 1213.8,670.4 1214.2,616.1 1214.2,563.7 1214.8,585.4 1214.8,624.6 1215.2,629.8 1215.2,582.7 1215.8,588.7 1215.8,633.1 1216.2,615.1 1216.2,575.5 1216.8,561.8 1216.8,646.1 1217.2,654.9 1217.2,624.5 1217.8,577.8 1217.8,665.5 1218.2,621.5 1218.2,592.0 1218.8,580.6 1218.8,623.3 1219.2,617.6 1219.2,583.5 1219.8,616.2 1219.8,696.7 1220.2,638.2 1220.2,608.4 1220.8,568.6 1220.8,641.8 1221.2,651.1 1221.2,617.4 1221.8,574.3 1221.8,706.0 1222.2,687.3 1222.2,575.0 1222.8,600.9 1222.8,679.4 1223.2,615.2 1223.2,565.7 1223.8,583.9 1223.8,663.7 1224.2,650.8 1224.2,603.8 1224.8,573.2 1224.8,624.6 1225.2,667.6 1225.2,591.3 1225.8,553.8 1225.8,615.7 1226.2,626.3 1226.2,582.6 1226.8,570.3 1226.8,611.2 1227.2,594.0 1227.2,558.8 1227.8,603.5 1227.8,658.7 1228.2,670.8 1228.2,586.3 1228.8,584.7 1228.8,629.1 1229.2,625.8 1229.2,563.4 1229.8,552.7 1229.8,627.8 1230.2,662.6 1230.2,653.7 1230.8,582.9 1230.8,617.7 1231.2,637.4 1231.2,563.0 1231.8,600.9 1231.8,666.8 1232.2,697.7 1232.2,563.1 1232.8,614.1 1232.8,645.7 1233.2,591.6 1233.2,563.5 1233.8,562.8 1233.8,747.1 1234.2,643.7 1234.2,589.6 1234.8,603.4 1234.8,652.3 1235.2,627.7 1235.2,579.6 1235.8,551.3 1235.8,642.6 1236.2,665.5 1236.2,581.5 1236.8,572.1 1236.8,609.0 1237.2,648.7 1237.2,596.2 1237.8,568.5 1237.8,654.6 1238.2,624.2 1238.2,605.0 1238.8,587.4 1238.8,613.0 1239.2,647.0 1239.2,593.3 1239.8,552.1 1239.8,605.2 1240.2,625.9 1240.2,578.0 1240.8,596.6 1240.8,726.1 1241.2,616.3 1241.2,580.1 1241.8,580.5 1241.8,622.0 1242.2,621.2 1242.2,601.4 1242.8,593.1 1242.8,614.5 1243.2,633.6 1243.2,571.8 1243.8,602.8 1243.8,627.1 1244.2,689.9 1244.2,637.0 1244.8,553.5 1244.8,602.3 1245.2,645.8 1245.2,597.3 1245.8,579.0 1245.8,643.1 1246.2,589.8 1246.2,576.5 1246.8,564.0 1246.8,627.3 1247.2,615.3 1247.2,560.5 1247.8,603.5 1247.8,659.5 1248.2,629.8 1248.2,603.7 1248.8,585.6 1248.8,692.9 1249.2,658.9 1249.2,604.4 1249.8,578.6 1249.8,636.2 1250.2,633.5 1250.2,591.6 1250.8,579.5 1250.8,644.4 1251.2,653.1 1251.2,644.2 1251.8,599.5 1251.8,647.9 1252.2,713.8 1252.2,585.8 1252.8,578.3 1252.8,685.1 1253.2,625.2 1253.2,586.7 1253.8,568.8 1253.8,685.2 1254.2,632.0 1254.2,612.5 1254.8,577.3 1254.8,639.8 1255.2,677.0 1255.2,631.9 1255.8,577.0 1255.8,626.4 1256.2,636.4 1256.2,579.7 1256.8,588.8 1256.8,612.9 1257.2,615.1 1257.2,576.0 1257.8,562.8 1257.8,614.0 1258.2,619.1 1258.2,557.4 1258.8,589.9 1258.8,654.4 1259.2,601.1 1259.2,550.5 1259.8,565.7 1259.8,616.0 1260.2,609.4 1260.2,568.2 1260.8,557.7 1260.8,596.9 1261.2,614.7 1261.2,571.8 1261.8,582.6 1261.8,656.0 1262.2,619.2 1262.2,607.1 1262.8,581.2 1262.8,603.4 1263.2,681.0 1263.2,601.0 1263.8,568.3 1263.8,661.2 1264.2,635.3 1264.2,603.9 1264.8,603.9 1264.8,620.1 1265.2,605.4 1265.2,588.1 1265.8,561.3 1265.8,613.5 1266.2,660.1 1266.2,572.0 1266.8,617.2 1266.8,647.0 1267.2,637.3 1267.2,600.9 1267.8,585.9 1267.8,712.7 1268.2,637.4 1268.2,560.2 1268.8,567.6 1268.8,633.2 1269.2,657.0 1269.2,578.2 1269.8,578.3 1269.8,616.3 1270.2,679.8 1270.2,564.0 1270.8,558.3 1270.8,662.7 1271.2,588.6 1271.2,575.2 1271.8,582.8 1271.8,637.0 1272.2,621.0 1272.2,585.9 1272.8,606.2 1272.8,622.3 1273.2,591.1 1273.2,577.5 1273.8,588.3 1273.8,612.4 1274.2,637.7 1274.2,600.5 1274.8,597.2 1274.8,658.3 1275.2,637.3 1275.2,578.2 1275.8,583.0 1275.8,665.0 1276.2,667.0 1276.2,597.3 1276.8,578.3 1276.8,591.0 1277.2,722.6 1277.2,583.8 1277.8,623.3 1277.8,720.1 1278.2,604.7 1278.2,581.1 1278.8,605.3 1278.8,645.4 1279.2,646.4 1279.2,606.8 1279.8,597.4 1279.8,628.4 1280.2,638.4 1280.2,579.9 1280.8,605.4 1280.8,606.9 1281.2,636.3 1281.2,596.8 1281.8,572.2 1281.8,600.9 1282.2,618.5 1282.2,598.6 1282.8,577.6 1282.8,648.4 1283.2,592.3 1283.2,583.2 1283.8,584.4 1283.8,609.9 1284.2,640.7 1284.2,557.6 1284.8,613.7 1284.8,638.4 1285.2,621.0 1285.2,593.0 1285.8,585.3 1285.8,661.7 1286.2,663.5 1286.2,631.5 1286.8,584.5 1286.8,654.0 1287.2,642.7 1287.2,619.1 1287.8,594.2 1287.8,685.2 1288.2,638.3 1288.2,591.0 1288.8,595.7 1288.8,685.9 1289.2,612.2 1289.2,551.2 1289.8,585.5 1289.8,627.5 1290.2,638.3 1290.2,604.7 1290.8,572.3 1290.8,626.8 1291.2,615.4 1291.2,591.9 1291.8,584.5 1291.8,615.3 1292.2,655.9 1292.2,572.9 1292.8,583.3 1292.8,616.3 1293.2,611.9 1293.2,549.3 1293.8,588.3 1293.8,619.9 1294.2,654.7 1294.2,575.7 1294.8,568.7 1294.8,642.0 1295.2,631.6 1295.2,587.8 1295.8,586.7 1295.8,654.8 1296.2,635.9 1296.2,605.6 1296.8,574.0 1296.8,598.6 1297.2,601.8 1297.2,564.4 1297.8,589.9 1297.8,636.8 1298.2,634.4 1298.2,585.0 1298.8,592.0 1298.8,670.5 1299.2,640.8 1299.2,590.1 1299.8,579.8 1299.8,675.1 1300.2,636.8 1300.2,606.7 1300.8,582.8 1300.8,633.7 1301.2,650.7 1301.2,558.9 1301.8,577.8 1301.8,626.4 1302.2,584.7 1302.2,575.6 1302.8,544.3 1302.8,611.3 1303.2,693.5 1303.2,579.3 1303.8,598.8 1303.8,642.2 1304.2,628.6 1304.2,570.6 1304.8,566.2 1304.8,601.1 1305.2,683.7 1305.2,579.5 1305.8,570.3 1305.8,640.7 1306.2,633.8 1306.2,593.3 1306.8,592.2 1306.8,655.3 1307.2,590.5 1307.2,578.9 1307.8,572.2 1307.8,620.8 1308.2,688.1 1308.2,599.1 1308.8,595.2 1308.8,628.1 1309.2,629.8 1309.2,600.6 1309.8,579.0 1309.8,702.2 1310.2,629.6 1310.2,569.7 1310.8,584.9 1310.8,636.0 1311.2,646.5 1311.2,593.0 1311.8,598.9 1311.8,629.5 1312.2,629.7 1312.2,588.9 1312.8,600.2 1312.8,624.0 1313.2,627.8 1313.2,598.9 1313.8,582.9 1313.8,659.2 1314.2,629.7 1314.2,564.2 1314.8,534.0 1314.8,601.8 1315.2,670.9 1315.2,597.9 1315.8,599.2 1315.8,652.4 1316.2,610.6 1316.2,531.3 1316.8,552.2 1316.8,605.6 1317.2,643.6 1317.2,564.7 1317.8,578.4 1317.8,591.3 1318.2,636.1 1318.2,582.7 1318.8,593.0 1318.8,651.4 1319.2,598.8 1319.2,577.3 1319.8,602.3 1319.8,655.4 1320.2,622.7 1320.2,581.2 1320.8,569.2 1320.8,619.8 1321.2,628.5 1321.2,578.4 1321.8,609.6 1321.8,639.0 1322.2,655.7 1322.2,587.5 1322.8,620.7 1322.8,645.2 1323.2,644.9 1323.2,588.6 1323.8,561.1 1323.8,616.7 1324.2,619.5 1324.2,602.7 1324.8,573.5 1324.8,649.3 1325.2,658.5 1325.2,632.7 1325.8,575.8 1325.8,626.9 1326.2,598.2 1326.2,592.3 1326.8,572.2 1326.8,632.5 1327.2,639.9 1327.2,593.8 1327.8,543.4 1327.8,614.6 1328.2,671.2 1328.2,582.6 1328.8,614.4 1328.8,652.5 1329.2,626.1 1329.2,581.0 1329.8,595.5 1329.8,615.8 1330.2,670.2 1330.2,585.6 1330.8,611.4 1330.8,627.5 1331.2,597.6 1331.2,570.8 1331.8,576.8 1331.8,598.3 1332.2,618.8 1332.2,606.3 1332.8,591.7 1332.8,635.3 1333.2,669.0 1333.2,596.6 1333.8,586.7 1333.8,664.3 1334.2,634.7 1334.2,583.3 1334.8,606.1 1334.8,616.1 1335.2,670.8 1335.2,604.5 1335.8,580.8 1335.8,622.9 1336.2,644.0 1336.2,607.4 1336.8,587.2 1336.8,668.6 1337.2,612.1 1337.2,572.4 1337.8,554.2 1337.8,623.4 1338.2,681.0 1338.2,609.1 1338.8,557.1 1338.8,623.1 1339.2,626.0 1339.2,601.0 1339.8,594.1 1339.8,629.5 1340.2,634.0 1340.2,611.2 1340.8,591.5 1340.8,658.4 1341.2,599.8 1341.2,560.0 1341.8,615.1 1341.8,651.5 1342.2,624.4 1342.2,593.8 1342.8,588.8 1342.8,604.7 1343.2,626.3 1343.2,586.2 1343.8,591.4 1343.8,619.2 1344.2,707.8 1344.2,604.0 1344.8,605.6 1344.8,638.7 1345.2,605.0 1345.2,595.5 1345.8,583.4 1345.8,636.5 1346.2,636.5 1346.2,579.4 1346.8,574.6 1346.8,670.3 1347.2,612.0 1347.2,590.4 1347.8,541.6 1347.8,677.8 1348.2,673.5 1348.2,607.3 1348.8,590.9 1348.8,610.5 1349.2,653.9 1349.2,577.4 1349.8,581.6 1349.8,633.5 1350.2,643.7 1350.2,607.7 1350.8,584.3 1350.8,633.2 1351.2,646.7 1351.2,617.6 1351.8,612.9 1351.8,644.6 1352.2,607.4 1352.2,590.3 1352.8,625.7 1352.8,681.8 1353.2,681.4 1353.2,618.0 1353.8,567.6 1353.8,614.4 1354.2,644.6 1354.2,567.9 1354.8,578.7 1354.8,615.2 1355.2,726.8 1355.2,578.5 1355.8,591.9 1355.8,635.3 1356.2,613.2 1356.2,604.7 1356.8,568.2 1356.8,618.3 1357.2,680.5 1357.2,594.7 1357.8,595.7 1357.8,637.2 1358.2,643.2 1358.2,580.8 1358.8,612.0 1358.8,675.2 1359.2,699.9 1359.2,595.1 1359.8,591.3 1359.8,653.2 1360.2,630.5 1360.2,601.4 1360.8,568.8 1360.8,617.5 1361.2,628.5 1361.2,596.6 1361.8,538.2 1361.8,660.1 1362.2,630.2 1362.2,559.2 1362.8,599.6 1362.8,635.7 1363.2,632.8 1363.2,595.8 1363.8,595.3 1363.8,682.2 1364.2,635.5 1364.2,614.2 1364.8,573.2 1364.8,625.8 1365.2,612.6 1365.2,598.2 1365.8,573.7 1365.8,629.3 1366.2,671.6 1366.2,575.0 1366.8,599.2 1366.8,649.1 1367.2,645.5 1367.2,582.1 1367.8,589.8 1367.8,656.4 1368.2,631.7 1368.2,588.4 1368.8,611.9 1368.8,651.5 1369.2,618.2 1369.2,575.0 1369.8,575.8 1369.8,662.9 1370.2,602.3 1370.2,581.7 1370.8,577.0 1370.8,634.4 1371.2,596.5 1371.2,533.3 1371.8,564.2 1371.8,629.6 1372.2,628.5 1372.2,590.8 1372.8,565.0 1372.8,590.6 1373.2,653.1 1373.2,583.3 1373.8,591.9 1373.8,609.4 1374.2,631.8 1374.2,610.0 1374.8,540.0 1374.8,634.2 1375.2,591.2 1375.2,578.7 1375.8,597.7 1375.8,608.8 1376.2,639.9 1376.2,582.1 1376.8,595.8 1376.8,639.0 1377.2,598.8 1377.2,582.5 1377.8,607.9 1377.8,651.0 1378.2,634.8 1378.2,600.6 1378.8,571.2 1378.8,649.3 1379.2,661.9 1379.2,603.1 1379.8,609.5 1379.8,631.0 1380.2,667.1 1380.2,587.5 1380.8,567.7 1380.8,652.5 1381.2,650.6 1381.2,583.9 1381.8,610.1 1381.8,629.4 1382.2,636.0 1382.2,538.3 1382.8,584.1 1382.8,591.1 1383.2,621.9 1383.2,575.1 1383.8,566.6 1383.8,675.1 1384.2,642.2 1384.2,630.3 1384.8,585.6 1384.8,624.1 1385.2,610.6 1385.2,580.9 1385.8,584.3 1385.8,643.4 1386.2,622.4 1386.2,588.1 1386.8,533.0 1386.8,596.3 1387.2,714.3 1387.2,605.5 1387.8,570.3 1387.8,632.8 1388.2,629.2 1388.2,549.4 1388.8,609.9 1388.8,629.2 1389.2,670.0 1389.2,584.7 1389.8,588.3 1389.8,641.4 1390.2,651.2 1390.2,578.7 1390.8,572.7 1390.8,635.6 1391.2,625.0 1391.2,570.3 1391.8,590.0 1391.8,642.9 1392.2,626.7 1392.2,574.6 1392.8,592.6 1392.8,606.6 1393.2,612.8 1393.2,557.4 1393.8,561.0 1393.8,596.0 1394.2,623.5 1394.2,584.4 1394.8,529.4 1394.8,601.0 1395.2,664.8 1395.2,551.8 1395.8,556.1 1395.8,602.8 1396.2,612.4 1396.2,571.4 1396.8,609.1 1396.8,687.7 1397.2,693.6 1397.2,596.1 1397.8,597.2 1397.8,665.1 1398.2,625.9 1398.2,589.5 1398.8,589.6 1398.8,608.2 1399.2,657.5 1399.2,585.2 1399.8,596.3 1399.8,646.3 1400.2,649.5 1400.2,561.9 1400.8,605.4 1400.8,612.2 1401.2,625.9 1401.2,585.6 1401.8,588.3 1401.8,632.7 1402.2,617.5 1402.2,586.4 1402.8,537.9 1402.8,642.5 1403.2,615.5 1403.2,580.1 1403.8,563.2 1403.8,622.8 1404.2,639.5 1404.2,593.8 1404.8,562.6 1404.8,672.0 1405.2,642.0 1405.2,573.9 1405.8,593.6 1405.8,659.7 1406.2,646.3 1406.2,604.1 1406.8,580.5 1406.8,644.6 1407.2,625.8 1407.2,590.0 1407.8,601.5 1407.8,613.3 1408.2,624.0 1408.2,599.8 1408.8,583.5 1408.8,689.9 1409.2,648.5 1409.2,619.8 1409.8,550.5 1409.8,619.3 1410.2,711.7 1410.2,563.3 1410.8,587.0 1410.8,660.5 1411.2,634.9 1411.2,603.6 1411.8,581.9 1411.8,669.9 1412.2,620.3 1412.2,537.1 1412.8,592.9 1412.8,628.6 1413.2,674.1 1413.2,608.1 1413.8,551.9 1413.8,614.5 1414.2,631.6 1414.2,580.5 1414.8,604.8 1414.8,637.6 1415.2,658.3 1415.2,611.8 1415.8,564.1 1415.8,641.0 1416.2,647.6 1416.2,552.1 1416.8,587.6 1416.8,619.1 1417.2,632.8 1417.2,595.1 1417.8,576.9 1417.8,622.5 1418.2,630.8 1418.2,615.2 1418.8,586.3 1418.8,649.3 1419.2,646.1 1419.2,593.5 1419.8,597.3 1419.8,642.8 1420.2,648.8 1420.2,577.3 1420.8,588.0 1420.8,599.7 1421.2,644.0 1421.2,594.9 1421.8,548.2 1421.8,627.1 1422.2,646.6 1422.2,589.5 1422.8,598.8 1422.8,645.6 1423.2,635.1 1423.2,574.2 1423.8,625.4 1423.8,661.4 1424.2,627.5 1424.2,591.7 1424.8,574.2 1424.8,622.4 1425.2,618.0 1425.2,601.5 1425.8,570.3 1425.8,665.1 1426.2,629.1 1426.2,624.1 1426.8,600.1 1426.8,620.4 1427.2,656.7 1427.2,533.1 1427.8,612.5 1427.8,638.0 1428.2,611.3 1428.2,589.5 1428.8,617.5 1428.8,656.5 1429.2,639.9 1429.2,599.1 1429.8,566.2 1429.8,647.2 1430.2,644.7 1430.2,600.3 1430.8,584.0 1430.8,663.4 1431.2,608.4 1431.2,581.9 1431.8,601.8 1431.8,652.5 1432.2,640.6 1432.2,620.3 1432.8,572.8 1432.8,680.0 1433.2,667.8 1433.2,568.8 1433.8,621.2 1433.8,697.7 1434.2,686.9 1434.2,582.8 1434.8,564.4 1434.8,665.6 1435.2,667.3 1435.2,585.2 1435.8,592.0 1435.8,610.4 1436.2,612.2 1436.2,598.6 1436.8,552.8 1436.8,634.2 1437.2,610.0 1437.2,531.2 1437.8,609.1 1437.8,633.8 1438.2,646.1 1438.2,594.1 1438.8,584.0 1438.8,641.0 1439.2,629.3 1439.2,571.8 1439.8,584.5 1439.8,636.1 1440.2,624.5 1440.2,588.1 1440.8,594.3 1440.8,660.6 1441.2,605.5 1441.2,581.3 1441.8,598.9 1441.8,664.3 1442.2,636.9 1442.2,607.5 1442.8,585.9 1442.8,620.9 1443.2,622.1 1443.2,577.6 1443.8,570.9 1443.8,595.9 1444.2,611.8 1444.2,514.8 1444.8,607.9 1444.8,638.8 1445.2,680.5 1445.2,594.9 1445.8,569.3 1445.8,619.1 1446.2,646.9 1446.2,534.1 1446.8,576.8 1446.8,647.9 1447.2,612.9 1447.2,593.0 1447.8,599.4 1447.8,663.0 1448.2,664.0 1448.2,543.2 1448.8,619.7 1448.8,657.6 1449.2,619.1 1449.2,584.3 1449.8,577.5 1449.8,661.0 1450.2,599.3 1450.2,578.3 1450.8,598.5 1450.8,617.0 1451.2,646.1 1451.2,567.2 1451.8,590.9 1451.8,610.3 1452.2,670.7 1452.2,558.2 1452.8,514.3 1452.8,633.6 1453.2,633.2 1453.2,544.9 1453.8,582.6 1453.8,641.9 1454.2,629.3 1454.2,580.2 1454.8,609.6 1454.8,643.5 1455.2,624.4 1455.2,578.7 1455.8,615.9 1455.8,626.3 1456.2,609.7 1456.2,581.0 1456.8,564.7 1456.8,616.0 1457.2,640.0 1457.2,602.4 1457.8,595.0 1457.8,632.5 1458.2,634.2 1458.2,604.1 1458.8,577.7 1458.8,654.5 1459.2,602.0 1459.2,582.3 1459.8,534.6 1459.8,626.2 1460.2,668.1 1460.2,614.3 1460.8,564.7 1460.8,601.8 1461.2,642.3 1461.2,586.4 1461.8,581.6 1461.8,644.8 1462.2,698.6 1462.2,568.1 1462.8,564.4 1462.8,615.4 1463.2,597.1 1463.2,560.9 1463.8,619.9 1463.8,682.5 1464.2,633.9 1464.2,567.2 1464.8,575.4 1464.8,662.2 1465.2,664.8 1465.2,571.2 1465.8,579.6 1465.8,642.4 1466.2,593.8 1466.2,512.0 1466.8,593.3 1466.8,672.8 1467.2,653.8 1467.2,617.1 1467.8,572.5 1467.8,599.7 1468.2,658.9 1468.2,560.2 1468.8,572.4 1468.8,664.5 1469.2,590.5 1469.2,589.4 1469.8,584.1 1469.8,647.8 1470.2,657.2 1470.2,581.7 1470.8,560.6 1470.8,646.3 1471.2,747.1 1471.2,596.0 1471.8,565.2 1471.8,626.2 1472.2,600.1 1472.2,565.0 1472.8,613.1 1472.8,678.6 1473.2,629.2 1473.2,552.6 1473.8,610.0 1473.8,697.3 1474.2,592.7 1474.2,561.4 1474.8,607.4 1474.8,615.4 1475.2,639.7 1475.2,541.7 1475.8,566.1 1475.8,622.9 1476.2,606.4 1476.2,534.7 1476.8,578.7 1476.8,599.9 1477.2,627.7 1477.2,565.2 1477.8,581.6 1477.8,640.8 1478.2,641.7 1478.2,603.5 1478.8,586.3 1478.8,627.5 1479.2,625.5 1479.2,561.8 1479.8,610.1 1479.8,636.1 1480.2,639.3 1480.2,626.3 1480.8,613.5 1480.8,644.1 1481.2,642.3 1481.2,613.4 1481.8,575.5 1481.8,637.4 1482.2,624.0 1482.2,567.8 1482.8,570.4 1482.8,607.8 1483.2,681.9 1483.2,567.7 1483.8,567.3 1483.8,672.9 1484.2,613.7 1484.2,608.4 1484.8,582.7 1484.8,638.5 1485.2,716.4 1485.2,566.2 1485.8,539.2 1485.8,629.5 1486.2,628.0 1486.2,607.4 1486.8,531.7 1486.8,613.1 1487.2,626.8 1487.2,579.5 1487.8,566.8 1487.8,657.2 1488.2,640.7 1488.2,609.0 1488.8,591.7 1488.8,612.2 1489.2,598.1 1489.2,548.4 1489.8,560.3 1489.8,586.6 1490.2,615.9 1490.2,608.4 1490.8,605.1 1490.8,716.4 1491.2,665.5 1491.2,577.5 1491.8,562.4 1491.8,625.4 1492.2,633.2 1492.2,525.8 1492.8,546.0 1492.8,600.1 1493.2,604.4 1493.2,498.4 1493.8,558.0 1493.8,640.2 1494.2,653.5 1494.2,624.1 1494.8,599.7 1494.8,624.1 1495.2,622.8 1495.2,582.9 1495.8,586.3 1495.8,655.2 1496.2,630.4 1496.2,583.0 1496.8,590.4 1496.8,626.6 1497.2,614.6 1497.2,602.3 1497.8,512.5 1497.8,684.0 1498.2,624.8 1498.2,577.8 1498.8,570.6 1498.8,658.3 1499.2,628.6 1499.2,580.8 1499.8,575.5 1499.8,646.5 1500.2,664.2 1500.2,572.3 1500.8,615.8 1500.8,681.4 1501.2,645.6 1501.2,589.1 1501.8,593.0 1501.8,642.7 1502.2,617.0 1502.2,564.3 1502.8,568.7 1502.8,617.6 1503.2,661.5 1503.2,598.8 1503.8,592.1 1503.8,653.9 1504.2,649.1 1504.2,596.6 1504.8,600.4 1504.8,663.4 1505.2,606.2 1505.2,591.0 1505.8,575.0 1505.8,614.7 1506.2,660.1 1506.2,594.6 1506.8,588.2 1506.8,637.0 1507.2,703.3 1507.2,558.2 1507.8,555.5 1507.8,622.2 1508.2,642.7 1508.2,586.3 1508.8,592.9 1508.8,620.3 1509.2,655.1 1509.2,582.9 1509.8,514.8 1509.8,665.0 1510.2,630.3 1510.2,585.4 1510.8,584.9 1510.8,673.6 1511.2,615.0 1511.2,588.8 1511.8,582.2 1511.8,620.2 1512.2,645.5 1512.2,606.9 1512.8,558.9 1512.8,627.2 1513.2,626.3 1513.2,566.9 1513.8,529.6 1513.8,608.0 1514.2,632.6 1514.2,591.5 1514.8,585.7 1514.8,637.0 1515.2,634.3 1515.2,587.4 1515.8,572.1 1515.8,632.4 1516.2,619.7 1516.2,590.8 1516.8,582.8 1516.8,623.2 1517.2,647.0 1517.2,592.2 1517.8,576.9 1517.8,710.7 1518.2,627.0 1518.2,575.7 1518.8,569.2 1518.8,634.1 1519.2,622.0 1519.2,517.6 1519.8,560.2 1519.8,621.6 1520.2,644.3 1520.2,600.5 1520.8,612.4 1520.8,631.5 1521.2,614.4 1521.2,564.2 1521.8,576.2 1521.8,680.7 1522.2,637.0 1522.2,634.0 1522.8,584.5 1522.8,686.4 1523.2,632.8 1523.2,591.2 1523.8,633.0 1523.8,638.1 1524.2,633.6 1524.2,580.6 1524.8,595.0 1524.8,652.3 1525.2,605.3 1525.2,553.4 1525.8,583.9 1525.8,700.7 1526.2,642.0 1526.2,565.5 1526.8,576.8 1526.8,593.1 1527.2,614.5 1527.2,575.9 1527.8,579.1 1527.8,690.3 1528.2,580.6 1528.2,575.1 1528.8,602.6 1528.8,647.1 1529.2,634.7 1529.2,584.4 1529.8,557.7 1529.8,634.5 1530.2,646.2 1530.2,608.1 1530.8,513.4 1530.8,646.1 1531.2,645.3 1531.2,581.0 1531.8,572.6 1531.8,628.3 1532.2,660.8 1532.2,588.1 1532.8,570.2 1532.8,606.5 1533.2,632.4 1533.2,599.4 1533.8,599.9 1533.8,623.4 1534.2,634.3 1534.2,568.9 1534.8,585.6 1534.8,614.9 1535.2,620.4 1535.2,585.5 1535.8,576.0 1535.8,644.0 1536.2,630.4 1536.2,511.6 1536.8,572.0 1536.8,649.9 1537.2,634.8 1537.2,592.4 1537.8,566.4 1537.8,667.9 1538.2,694.5 1538.2,632.9 1538.8,502.6 1538.8,607.9 1539.2,648.5 1539.2,592.9 1539.8,590.7 1539.8,721.4 1540.2,630.2 1540.2,511.9 1540.8,528.1 1540.8,684.5 1541.2,609.8 1541.2,569.2 1541.8,579.8 1541.8,641.4 1542.2,682.7 1542.2,596.1 1542.8,569.9 1542.8,654.4 1543.2,640.4 1543.2,582.2 1543.8,582.8 1543.8,647.3 1544.2,680.6 1544.2,603.1 1544.8,530.0 1544.8,621.0 1545.2,676.8 1545.2,602.8 1545.8,591.1 1545.8,662.2 1546.2,611.7 1546.2,595.2 1546.8,536.1 1546.8,632.7 1547.2,695.5 1547.2,579.4 1547.8,564.9 1547.8,624.3 1548.2,622.6 1548.2,602.6 1548.8,592.7 1548.8,625.3 1549.2,626.7 1549.2,582.7 1549.8,619.2 1549.8,675.3 1550.2,630.9 1550.2,588.3 1550.8,562.3 1550.8,638.3 1551.2,677.0 1551.2,572.7 1551.8,495.6 1551.8,668.8 1552.2,577.3 1552.2,574.9 1552.8,586.8 1552.8,656.2 1553.2,632.5 1553.2,599.6 1553.8,544.8 1553.8,610.2 1554.2,657.9 1554.2,582.3 1554.8,587.4 1554.8,650.8 1555.2,679.9 1555.2,572.7 1555.8,568.9 1555.8,639.4 1556.2,641.4 1556.2,582.9 1556.8,594.0 1556.8,642.7 1557.2,642.7 1557.2,587.4 1557.8,610.5 1557.8,633.9 1558.2,618.1 1558.2,571.4 1558.8,525.2 1558.8,635.7 1559.2,655.4 1559.2,543.5 1559.8,508.3 1559.8,659.5 1560.2,637.7 1560.2,607.0 1560.8,603.0 1560.8,626.0 1561.2,634.5 1561.2,604.3 1561.8,556.1 1561.8,594.7 1562.2,656.2 1562.2,570.2 1562.8,568.7 1562.8,669.6 1563.2,632.8 1563.2,564.9 1563.8,588.2 1563.8,713.4 1564.2,633.5 1564.2,576.2 1564.8,604.1 1564.8,672.6 1565.2,648.2 1565.2,564.4 1565.8,596.9 1565.8,645.7 1566.2,604.4 1566.2,509.3 1566.8,606.4 1566.8,649.8 1567.2,666.4 1567.2,534.6 1567.8,578.8 1567.8,623.5 1568.2,652.1 1568.2,594.5 1568.8,545.7 1568.8,583.0 1569.2,611.2 1569.2,604.1 1569.8,539.1 1569.8,631.8 1570.2,672.8 1570.2,493.8 1570.8,575.8 1570.8,623.4 1571.2,668.5 1571.2,628.0 1571.8,599.4 1571.8,672.6 1572.2,706.8 1572.2,528.0 1572.8,586.4 1572.8,622.5 1573.2,689.2 1573.2,559.2 1573.8,595.9 1573.8,624.3 1574.2,625.5 1574.2,616.1 1574.8,603.3 1574.8,652.4 1575.2,651.9 1575.2,609.1 1575.8,503.5 1575.8,626.0 1576.2,623.7 1576.2,610.9 1576.8,571.6 1576.8,616.3 1577.2,626.5 1577.2,595.8 1577.8,554.6 1577.8,700.2 1578.2,653.5 1578.2,570.7 1578.8,609.6 1578.8,721.3 1579.2,641.1 1579.2,608.7 1579.8,574.0 1579.8,651.5 1580.2,621.7 1580.2,608.3 1580.8,614.0 1580.8,656.3 1581.2,641.7 1581.2,603.9 1581.8,597.5 1581.8,626.4 1582.2,647.3 1582.2,577.5 1582.8,608.5 1582.8,662.1 1583.2,635.1 1583.2,580.2 1583.8,582.3 1583.8,619.2 1584.2,693.4 1584.2,485.8 1584.8,571.4 1584.8,676.7 1585.2,637.5 1585.2,567.7 1585.8,609.8 1585.8,630.6 1586.2,639.3 1586.2,520.3 1586.8,562.6 1586.8,631.2 1587.2,649.2 1587.2,581.4 1587.8,584.7 1587.8,673.1 1588.2,627.7 1588.2,591.0 1588.8,586.4 1588.8,670.3 1589.2,600.7 1589.2,490.0 1589.8,584.1 1589.8,694.6 1590.2,608.9 1590.2,556.4 1590.8,565.3 1590.8,571.0 1591.2,626.5 1591.2,586.0 1591.8,521.5 1591.8,685.7 1592.2,613.3 1592.2,587.9 1592.8,573.2 1592.8,675.8 1593.2,625.2 1593.2,544.1 1593.8,628.5 1593.8,650.2 1594.2,632.8 1594.2,586.8 1594.8,569.8 1594.8,643.8 1595.2,644.4 1595.2,518.1 1595.8,571.2 1595.8,639.1 1596.2,618.4 1596.2,584.4 1596.8,579.1 1596.8,613.5 1597.2,645.1 1597.2,483.5 1597.8,608.1 1597.8,622.3 1598.2,643.8 1598.2,587.8 1598.8,639.3 1598.8,679.9 1599.2,747.1 1599.2,495.1 1599.8,571.7 1599.8,627.2 1600.2,611.3 1600.2,602.6 1600.8,592.3 1600.8,636.0 1601.2,632.6 1601.2,563.9 1601.8,515.0 1601.8,641.5 1602.2,609.4 1602.2,517.2 1602.8,482.1 1602.8,655.1 1603.2,628.6 1603.2,597.5 1603.8,585.6 1603.8,632.3 1604.2,629.2 1604.2,520.6 1604.8,597.9 1604.8,627.0 1605.2,655.8 1605.2,588.9 1605.8,599.3 1605.8,616.1 1606.2,642.0 1606.2,536.8 1606.8,610.4 1606.8,628.6 1607.2,605.6 1607.2,578.0 1607.8,562.0 1607.8,626.6 1608.2,614.5 1608.2,485.8 1608.8,547.5 1608.8,631.5 1609.2,629.6 1609.2,588.1 1609.8,504.8 1609.8,606.4 1610.2,590.9 1610.2,584.0 1610.8,549.4 1610.8,602.1 1611.2,641.2 1611.2,536.6 1611.8,559.0 1611.8,613.8 1612.2,636.0 1612.2,600.3 1612.8,585.8 1612.8,605.6 1613.2,661.6 1613.2,617.5 1613.8,589.4 1613.8,600.4 1614.2,606.0 1614.2,587.8 1614.8,605.8 1614.8,622.6 1615.2,633.6 1615.2,610.4 1615.8,593.1 1615.8,609.5 1616.2,625.9 1616.2,479.3 1616.8,603.4 1616.8,701.2 1617.2,608.1 1617.2,572.3 1617.8,579.3 1617.8,645.2 1618.2,620.4 1618.2,598.5 1618.8,613.7 1618.8,634.1 1619.2,614.7 1619.2,490.9 1619.8,555.1 1619.8,611.2 1620.2,642.2 1620.2,621.8 1620.8,506.6 1620.8,628.0 1621.2,639.2 1621.2,600.8 1621.8,592.1 1621.8,639.8 1622.2,641.9 1622.2,540.6 1622.8,584.2 1622.8,613.6 1623.2,651.0 1623.2,587.4 1623.8,598.6 1623.8,635.0 1624.2,625.9 1624.2,484.9 1624.8,610.9 1624.8,643.7 1625.2,608.0 1625.2,579.5 1625.8,561.1 1625.8,653.8 1626.2,646.1 1626.2,592.2 1626.8,600.8 1626.8,626.0 1627.2,627.2 1627.2,590.0 1627.8,556.8 1627.8,622.0 1628.2,620.9 1628.2,540.9 1628.8,603.9 1628.8,605.6 1629.2,668.4 1629.2,451.7 1629.8,593.7 1629.8,699.3 1630.2,677.9 1630.2,633.8 1630.8,548.1 1630.8,600.7 1631.2,612.5 1631.2,580.9 1631.8,594.5 1631.8,604.8 1632.2,650.5 1632.2,558.3 1632.8,607.7 1632.8,695.9 1633.2,663.6 1633.2,583.5 1633.8,579.4 1633.8,628.0 1634.2,582.3 1634.2,476.4 1634.8,454.5 1634.8,637.3 1635.2,613.1 1635.2,592.4 1635.8,592.4 1635.8,658.0 1636.2,609.7 1636.2,588.8 1636.8,614.1 1636.8,673.0 1637.2,609.7 1637.2,607.0 1637.8,446.5 1637.8,624.3 1638.2,634.3 1638.2,608.1 1638.8,486.8 1638.8,609.4 1639.2,621.6 1639.2,583.0 1639.8,606.9 1639.8,638.9 1640.2,623.4 1640.2,594.2 1640.8,595.0 1640.8,630.7 1641.2,611.5 1641.2,467.1 1641.8,594.5 1641.8,616.8 1642.2,703.6 1642.2,597.6 1642.8,592.6 1642.8,628.2 1643.2,633.4 1643.2,590.2 1643.8,573.9 1643.8,617.5 1644.2,665.3 1644.2,641.4 1644.8,471.0 1644.8,601.6 1645.2,650.8 1645.2,493.6 1645.8,472.3 1645.8,671.9 1646.2,634.4 1646.2,578.7 1646.8,514.0 1646.8,654.6 1647.2,628.3 1647.2,596.6 1647.8,552.8 1647.8,638.9 1648.2,614.2 1648.2,404.5 1648.8,577.1 1648.8,667.0 1649.2,592.1 1649.2,488.3 1649.8,570.6 1649.8,675.5 1650.2,611.7 1650.2,569.7 1650.8,575.5 1650.8,617.7 1651.2,671.7 1651.2,397.0 1651.8,601.4 1651.8,656.1 1652.2,609.0 1652.2,576.6 1652.8,585.1 1652.8,666.2 1653.2,622.7 1653.2,602.0 1653.8,569.2 1653.8,612.4 1654.2,634.9 1654.2,439.9 1654.8,569.8 1654.8,651.4 1655.2,645.6 1655.2,579.5 1655.8,602.0 1655.8,615.6 1656.2,647.5 1656.2,593.2 1656.8,374.1 1656.8,600.7 1657.2,648.5 1657.2,556.7 1657.8,613.7 1657.8,654.9 1658.2,692.7 1658.2,589.6 1658.8,477.1 1658.8,711.6 1659.2,617.7 1659.2,608.0 1659.8,586.0 1659.8,621.8 1660.2,656.6 1660.2,499.6 1660.8,449.3 1660.8,627.3 1661.2,635.3 1661.2,572.3 1661.8,414.3 1661.8,607.3 1662.2,669.3 1662.2,588.6 1662.8,552.7 1662.8,608.1 1663.2,612.3 1663.2,483.8 1663.8,600.5 1663.8,624.3 1664.2,632.2 1664.2,584.4 1664.8,555.4 1664.8,623.3 1665.2,643.6 1665.2,573.4 1665.8,590.5 1665.8,639.7 1666.2,663.0 1666.2,575.4 1666.8,568.9 1666.8,683.0 1667.2,609.0 1667.2,463.8 1667.8,601.8 1667.8,630.6 1668.2,623.5 1668.2,584.9 1668.8,592.8 1668.8,611.4 1669.2,634.2 1669.2,593.9 1669.8,596.5 1669.8,621.2 1670.2,624.4 1670.2,443.3 1670.8,524.1 1670.8,598.9 1671.2,591.3 1671.2,550.6 1671.8,571.5 1671.8,677.1 1672.2,621.3 1672.2,601.2 1672.8,596.9 1672.8,653.7 1673.2,631.7 1673.2,603.7 1673.8,594.7 1673.8,614.8 1674.2,608.7 1674.2,515.0 1674.8,581.3 1674.8,612.8 1675.2,642.6 1675.2,623.6 1675.8,588.4 1675.8,616.0 1676.2,633.9 1676.2,572.4 1676.8,592.4 1676.8,616.6 1677.2,625.3 1677.2,593.1 1677.8,594.1 1677.8,631.5 1678.2,616.1 1678.2,594.8 1678.8,595.0 1678.8,624.5 1679.2,703.3 1679.2,585.4 1679.8,579.9 1679.8,626.0 1680.2,696.7 1680.2,583.8 1680.8,466.6 1680.8,638.9 1681.2,630.7 1681.2,499.0 1681.8,571.5 1681.8,598.1 1682.2,653.5 1682.2,580.1 1682.8,606.9 1682.8,632.8 1683.2,609.4 1683.2,481.6 1683.8,593.4 1683.8,649.6 1684.2,621.5 1684.2,598.0 1684.8,609.4 1684.8,659.2 1685.2,620.5 1685.2,607.2 1685.8,477.4 1685.8,610.6 1686.2,628.3 1686.2,581.4 1686.8,598.5 1686.8,630.5 1687.2,615.8 1687.2,595.8 1687.8,604.0 1687.8,619.9 1688.2,635.6 1688.2,573.9 1688.8,499.4 1688.8,649.8 1689.2,629.5 1689.2,584.3 1689.8,529.8 1689.8,641.8 1690.2,608.4 1690.2,583.3 1690.8,581.8 1690.8,611.1 1691.2,658.1 1691.2,557.6 1691.8,594.8 1691.8,641.4 1692.2,614.5 1692.2,581.0 1692.8,599.5 1692.8,688.6 1693.2,626.4 1693.2,615.3 1693.8,544.6 1693.8,602.1 1694.2,652.6 1694.2,598.6 1694.8,571.8 1694.8,608.8 1695.2,615.0 1695.2,586.1 1695.8,574.4 1695.8,610.7 1696.2,627.3 1696.2,518.3 1696.8,570.3 1696.8,657.7 1697.2,635.8 1697.2,610.0 1697.8,616.0 1697.8,674.5 1698.2,633.8 1698.2,540.2 1698.8,592.2 1698.8,647.9 1699.2,619.1 1699.2,560.2 1699.8,579.4 1699.8,735.1 1700.2,576.8 1700.2,516.9 1700.8,607.9 1700.8,632.0 1701.2,597.7 1701.2,580.2 1701.8,607.7 1701.8,625.4 1702.2,676.6 1702.2,570.3 1702.8,554.9 1702.8,604.9 1703.2,626.0 1703.2,599.8 1703.8,588.0 1703.8,649.7 1704.2,625.2 1704.2,569.3 1704.8,561.6 1704.8,639.7 1705.2,655.1 1705.2,605.6 1705.8,624.0 1705.8,653.2 1706.2,643.0 1706.2,621.6 1706.8,524.8 1706.8,574.1 1707.2,667.6 1707.2,587.0 1707.8,589.0 1707.8,610.4 1708.2,665.4 1708.2,547.5 1708.8,576.8 1708.8,605.3 1709.2,650.3 1709.2,606.1 1709.8,593.2 1709.8,674.8 1710.2,655.1 1710.2,592.3 1710.8,560.5 1710.8,651.4 1711.2,702.3 1711.2,590.9 1711.8,583.1 1711.8,651.1 1712.2,650.0 1712.2,527.2 1712.8,553.0 1712.8,660.1 1713.2,615.0 1713.2,600.4 1713.8,569.2 1713.8,633.0 1714.2,653.3 1714.2,627.4 1714.8,525.6 1714.8,658.7 1715.2,684.5 1715.2,622.5 1715.8,613.6 1715.8,626.1 1716.2,605.8 1716.2,571.9 1716.8,545.4 1716.8,617.7 1717.2,623.8 1717.2,606.4 1717.8,564.8 1717.8,637.1 1718.2,615.8 1718.2,566.2 1718.8,590.8 1718.8,628.2 1719.2,623.1 1719.2,589.6 1719.8,593.1 1719.8,683.9 1720.2,637.9 1720.2,599.7 1720.8,491.9 1720.8,613.5 1721.2,637.8 1721.2,583.1 1721.8,605.1 1721.8,661.8 1722.2,700.4 1722.2,606.2 1722.8,594.4 1722.8,605.3 1723.2,720.8 1723.2,629.5 1723.8,576.2 1723.8,642.5 1724.2,608.6 1724.2,579.9 1724.8,509.7 1724.8,620.8 1725.2,641.8 1725.2,572.5 1725.8,593.2 1725.8,633.8 1726.2,647.9 1726.2,555.6 1726.8,578.4 1726.8,637.1 1727.2,745.0 1727.2,546.1 1727.8,539.9 1727.8,652.6 1728.2,666.0 1728.2,565.4 1728.8,577.2 1728.8,607.6 1729.2,641.5 1729.2,601.0 1729.8,597.4 1729.8,641.2 1730.2,678.5 1730.2,539.0 1730.8,599.2 1730.8,624.8 1731.2,636.1 1731.2,492.8 1731.8,631.7 1731.8,669.9 1732.2,623.3 1732.2,555.9 1732.8,542.0 1732.8,614.9 1733.2,605.3 1733.2,591.2 1733.8,558.6 1733.8,621.5 1734.2,623.8 1734.2,512.5 1734.8,619.9 1734.8,637.9 1735.2,641.2 1735.2,575.8 1735.8,596.1 1735.8,653.0 1736.2,633.5 1736.2,602.8 1736.8,569.3 1736.8,643.6 1737.2,630.3 1737.2,582.0 1737.8,599.0 1737.8,652.7 1738.2,622.4 1738.2,572.1 1738.8,578.2 1738.8,626.8 1739.2,662.9 1739.2,601.6 1739.8,596.5 1739.8,652.5 1740.2,612.9 1740.2,561.6 1740.8,586.0 1740.8,644.6 1741.2,637.1 1741.2,610.5 1741.8,562.4 1741.8,674.3 1742.2,611.2 1742.2,552.2 1742.8,552.3 1742.8,596.8 1743.2,651.8 1743.2,571.9 1743.8,633.7 1743.8,656.7 1744.2,672.0 1744.2,593.2 1744.8,588.8 1744.8,634.3 1745.2,629.7 1745.2,601.8 1745.8,646.6 1745.8,658.8 1746.2,631.7 1746.2,588.1 1746.8,583.5 1746.8,664.5 1747.2,613.6 1747.2,590.0 1747.8,600.6 1747.8,661.9 1748.2,630.0 1748.2,593.7 1748.8,605.3 1748.8,645.9 1749.2,622.3 1749.2,543.6 1749.8,573.1 1749.8,634.2 1750.2,597.3 1750.2,573.3 1750.8,611.0 1750.8,653.2 1751.2,669.4 1751.2,600.6 1751.8,597.0 1751.8,648.0 1752.2,629.6 1752.2,544.2 1752.8,587.1 1752.8,646.3 1753.2,617.4 1753.2,590.4 1753.8,582.2 1753.8,637.7 1754.2,628.0 1754.2,571.3 1754.8,594.4 1754.8,671.6 1755.2,622.1 1755.2,597.4 1755.8,594.2 1755.8,640.7 1756.2,642.6 1756.2,602.6 1756.8,589.3 1756.8,656.7 1757.2,621.0 1757.2,585.5 1757.8,614.5 1757.8,649.1 1758.2,703.6 1758.2,573.5 1758.8,570.4 1758.8,627.0 1759.2,641.9 1759.2,610.3 1759.8,584.5 1759.8,631.2 1760.2,644.8 1760.2,592.8 1760.8,565.4 1760.8,638.9 1761.2,670.1 1761.2,529.0 1761.8,595.2 1761.8,646.8 1762.2,623.0 1762.2,592.1 1762.8,606.5 1762.8,661.1 1763.2,621.4 1763.2,579.7 1763.8,559.4 1763.8,598.3 1764.2,659.3 1764.2,569.5 1764.8,594.1 1764.8,632.6 1765.2,616.0 1765.2,603.7 1765.8,564.5 1765.8,613.7 1766.2,622.8 1766.2,576.6 1766.8,609.5 1766.8,658.9 1767.2,615.6 1767.2,567.9 1767.8,538.9 1767.8,638.1 1768.2,645.5 1768.2,580.5 1768.8,599.5 1768.8,731.6 1769.2,684.1 1769.2,583.8 1769.8,582.7 1769.8,658.5 1770.2,634.2 1770.2,585.4 1770.8,557.4 1770.8,593.8 1771.2,661.8 1771.2,587.5 1771.8,582.6 1771.8,610.6 1772.2,638.3 1772.2,593.6 1772.8,595.8 1772.8,648.7 1773.2,665.8 1773.2,548.5 1773.8,590.8 1773.8,637.5 1774.2,602.0 1774.2,564.7 1774.8,580.5 1774.8,612.1 1775.2,672.1 1775.2,611.4 1775.8,607.5 1775.8,636.3 1776.2,608.7 1776.2,596.8 1776.8,596.6 1776.8,640.6 1777.2,639.3 1777.2,561.8 1777.8,582.7 1777.8,653.4 1778.2,616.7 1778.2,585.4 1778.8,596.4 1778.8,635.7 1779.2,630.2 1779.2,585.5 1779.8,612.4 1779.8,679.3 1780.2,623.8 1780.2,609.0 1780.8,608.1 1780.8,686.5 1781.2,668.7 1781.2,625.6 1781.8,560.4 1781.8,633.2 1782.2,644.5 1782.2,564.0 1782.8,556.4 1782.8,599.0 1783.2,638.1 1783.2,561.7 1783.8,584.4 1783.8,672.0 1784.2,657.8 1784.2,550.6 1784.8,616.6 1784.8,652.4 1785.2,608.3 1785.2,509.2 1785.8,604.1 1785.8,679.6 1786.2,611.0 1786.2,587.5 1786.8,565.1 1786.8,639.9 1787.2,626.8 1787.2,585.0 1787.8,522.0 1787.8,623.2 1788.2,664.9 1788.2,601.8 1788.8,542.2 1788.8,606.3 1789.2,627.7 1789.2,620.7 1789.8,588.1 1789.8,647.3 1790.2,747.1 1790.2,596.0 1790.8,559.3 1790.8,668.2 1791.2,696.6 1791.2,589.7 1791.8,559.1 1791.8,642.2 1792.2,603.5 1792.2,582.7 1792.8,547.5 1792.8,618.8 1793.2,642.6 1793.2,595.5 1793.8,542.5 1793.8,633.1 1794.2,674.4 1794.2,612.0 1794.8,630.0 1794.8,714.3 1795.2,604.9 1795.2,599.7 1795.8,585.0 1795.8,654.9 1796.2,618.3 1796.2,576.9 1796.8,577.4 1796.8,613.1 1797.2,601.6 1797.2,586.6 1797.8,609.1 1797.8,708.9 1798.2,622.8 1798.2,617.4 1798.8,581.5 1798.8,652.2 1799.2,592.5 1799.2,530.7 1799.8,605.6 1799.8,674.6 1800.2,645.0 1800.2,569.4 1800.8,576.1 1800.8,671.8 1801.2,614.8 1801.2,546.4 1801.8,589.1 1801.8,620.8 1802.2,612.1 1802.2,571.0 1802.8,612.5 1802.8,687.9 1803.2,640.6 1803.2,563.2 1803.8,573.9 1803.8,654.4 1804.2,620.8 1804.2,592.5 1804.8,535.3 1804.8,644.7 1805.2,618.3 1805.2,572.0 1805.8,579.8 1805.8,676.1 1806.2,662.3 1806.2,569.8 1806.8,625.1 1806.8,643.7 1807.2,660.4 1807.2,542.6 1807.8,564.4 1807.8,599.9 1808.2,626.9 1808.2,589.6 1808.8,603.1 1808.8,669.1 1809.2,621.9 1809.2,533.9 1809.8,591.6 1809.8,630.2 1810.2,620.1 1810.2,578.5 1810.8,599.5 1810.8,613.6 1811.2,636.6 1811.2,602.6 1811.8,584.0 1811.8,626.2 1812.2,641.6 1812.2,557.9 1812.8,546.3 1812.8,610.6 1813.2,647.7 1813.2,555.6 1813.8,597.3 1813.8,639.5 1814.2,721.8 1814.2,567.5 1814.8,602.5 1814.8,686.6 1815.2,615.1 1815.2,588.1 1815.8,561.1 1815.8,639.4 1816.2,628.7 1816.2,614.3 1816.8,564.9 1816.8,634.4 1817.2,697.5 1817.2,501.2 1817.8,583.8 1817.8,634.5 1818.2,671.6 1818.2,618.0 1818.8,638.0 1818.8,690.0 1819.2,617.1 1819.2,579.1 1819.8,594.3 1819.8,620.8 1820.2,614.3 1820.2,593.1 1820.8,625.3 1820.8,716.0 1821.2,670.4 1821.2,613.4 1821.8,559.9 1821.8,629.3 1822.2,629.6 1822.2,575.3 1822.8,589.0 1822.8,628.7 1823.2,612.7 1823.2,608.5 1823.8,544.2 1823.8,619.5 1824.2,617.8 1824.2,588.1 1824.8,586.4 1824.8,616.4 1825.2,655.3 1825.2,574.7 1825.8,602.1 1825.8,676.2 1826.2,617.9 1826.2,599.3 1826.8,560.4 1826.8,627.9 1827.2,626.2 1827.2,580.6 1827.8,611.7 1827.8,668.9 1828.2,656.4 1828.2,604.5 1828.8,601.4 1828.8,659.2 1829.2,648.4 1829.2,565.2 1829.8,609.9 1829.8,681.6 1830.2,610.9 1830.2,580.6 1830.8,622.1 1830.8,630.6 1831.2,670.6 1831.2,598.9 1831.8,599.5 1831.8,664.0 1832.2,592.5 1832.2,568.2 1832.8,603.9 1832.8,623.9 1833.2,667.5 1833.2,558.5 1833.8,616.0 1833.8,623.1 1834.2,663.3 1834.2,584.4 1834.8,592.4 1834.8,643.8 1835.2,680.3 1835.2,595.5 1835.8,573.1 1835.8,618.6 1836.2,656.3 1836.2,597.4 1836.8,618.2 1836.8,659.6 1837.2,651.4 1837.2,613.9 1837.8,621.6 1837.8,703.1 1838.2,648.6 1838.2,585.3 1838.8,593.8 1838.8,619.1 1839.2,625.1 1839.2,603.3 1839.8,597.6 1839.8,651.9 1840.2,659.0 1840.2,637.7 1840.8,640.8 1840.8,667.7 1841.2,630.6 1841.2,588.5 1841.8,592.0 1841.8,622.6 1842.2,631.9 1842.2,600.6 1842.8,582.6 1842.8,612.3 1843.2,645.1 1843.2,614.2 1843.8,617.2 1843.8,655.1 1844.2,610.1 1844.2,578.0 1844.8,605.3 1844.8,651.4 1845.2,653.5 1845.2,592.8 1845.8,609.0 1845.8,638.6 1846.2,661.0 1846.2,591.2 1846.8,586.6 1846.8,638.6 1847.2,619.0 1847.2,581.2 1847.8,600.4 1847.8,611.0 1848.2,628.8 1848.2,589.3 1848.8,601.9 1848.8,613.4 1849.2,617.7 1849.2,595.0 1849.8,592.5 1849.8,632.3 1850.2,621.8 1850.2,600.4 1850.8,604.3 1850.8,644.8 1851.2,674.7 1851.2,572.5 1851.8,609.5 1851.8,648.6 1852.2,636.1 1852.2,568.4 1852.8,595.3 1852.8,672.4 1853.2,616.0 1853.2,575.3 1853.8,576.7 1853.8,611.0 1854.2,644.9 1854.2,553.8 1854.8,585.4 1854.8,625.3 1855.2,623.5 1855.2,597.7 1855.8,613.7 1855.8,647.0 1856.2,662.2 1856.2,603.6 1856.8,590.8 1856.8,626.4 1857.2,717.3 1857.2,616.0 1857.8,553.6 1857.8,661.9 1858.2,625.1 1858.2,555.9 1858.8,600.9 1858.8,609.9 1859.2,628.0 1859.2,591.4 1859.8,587.2 1859.8,621.3 1860.2,627.1 1860.2,578.7 1860.8,582.7 1860.8,655.1 1861.2,602.9 1861.2,598.1 1861.8,640.5 1861.8,738.4 1862.2,637.5 1862.2,567.6 1862.8,591.4 1862.8,611.6 1863.2,591.2 1863.2,572.2 1863.8,614.8 1863.8,692.2 1864.2,597.7 1864.2,556.0 1864.8,589.3 1864.8,611.3 1865.2,628.3 1865.2,579.1 1865.8,574.0 1865.8,601.9 1866.2,610.8 1866.2,574.4 1866.8,591.7 1866.8,652.2 1867.2,615.4 1867.2,591.0 1867.8,607.4 1867.8,671.8 1868.2,663.9 1868.2,554.6 1868.8,614.4 1868.8,655.3 1869.2,669.1 1869.2,531.5 1869.8,575.6 1869.8,600.2 1870.2,661.6 1870.2,608.6 1870.8,585.4 1870.8,619.5 1871.2,664.1 1871.2,597.0 1871.8,628.4 1871.8,634.1 1872.2,607.2 1872.2,573.8 1872.8,569.3 1872.8,690.2 1873.2,636.3 1873.2,597.6 1873.8,567.8 1873.8,644.5 1874.2,681.3 1874.2,538.6 1874.8,573.0 1874.8,646.1 1875.2,652.2 1875.2,607.5 1875.8,592.7 1875.8,619.8 1876.2,645.2 1876.2,593.5 1876.8,563.0 1876.8,648.3 1877.2,620.2 1877.2,596.0 1877.8,528.0 1877.8,640.9 1878.2,649.1 1878.2,583.4 1878.8,536.0 1878.8,616.1 1879.2,637.7 1879.2,586.6 1879.8,520.0 1879.8,584.1 1880.2,628.8 1880.2,624.9 1880.8,604.6 1880.8,631.5 1881.2,618.3 1881.2,557.5 1881.8,514.3 1881.8,692.0 1882.2,687.2 1882.2,546.0 1882.8,588.5 1882.8,608.3 1883.2,642.0 1883.2,606.8 1883.8,585.6 1883.8,671.3 1884.2,604.2 1884.2,588.5 1884.8,619.1 1884.8,660.8 1885.2,613.5 1885.2,580.5 1885.8,581.2 1885.8,614.0 1886.2,635.4 1886.2,584.6 1886.8,565.9 1886.8,615.7 1887.2,625.7 1887.2,578.4 1887.8,589.5 1887.8,651.9 1888.2,681.6 1888.2,616.4 1888.8,591.2 1888.8,682.8 1889.2,640.5 1889.2,573.5 1889.8,601.6 1889.8,671.1 1890.2,631.2 1890.2,611.3 1890.8,586.4 1890.8,669.5 1891.2,625.4 1891.2,589.3 1891.8,539.7 1891.8,630.7 1892.2,635.1 1892.2,589.0 1892.8,584.4 1892.8,657.2 1893.2,652.3 1893.2,560.1 1893.8,578.6 1893.8,634.3 1894.2,644.5 1894.2,597.4 1894.8,577.3 1894.8,629.8 1895.2,600.6 1895.2,535.3 1895.8,598.3 1895.8,628.2 1896.2,675.4 1896.2,612.1 1896.8,589.8 1896.8,682.8 1897.2,654.2 1897.2,571.7 1897.8,565.8 1897.8,649.1 1898.2,644.4 1898.2,591.2 1898.8,570.8 1898.8,627.5 1899.2,632.7 1899.2,598.8 1899.8,586.9 1899.8,634.1 1900.2,630.2 1900.2,567.6 1900.8,599.3 1900.8,665.9 1901.2,620.7 1901.2,597.1 1901.8,582.4 1901.8,622.8 1902.2,612.2 1902.2,592.9 1902.8,563.6 1902.8,637.3 1903.2,599.9 1903.2,511.1 1903.8,574.4 1903.8,625.0 1904.2,622.2 1904.2,596.9 1904.8,559.1 1904.8,680.3 1905.2,621.0 1905.2,607.5 1905.8,603.5 1905.8,621.9 1906.2,629.1 1906.2,588.2 1906.8,597.4 1906.8,642.0 1907.2,600.6 1907.2,581.4 1907.8,585.0 1907.8,642.7 1908.2,616.2 1908.2,594.6 1908.8,590.6 1908.8,615.3 1909.2,640.9 1909.2,595.5 1909.8,558.3 1909.8,598.9 1910.2,652.9 1910.2,581.8 1910.8,582.6 1910.8,647.2 1911.2,646.8 1911.2,615.6 1911.8,571.5 1911.8,624.4 1912.2,609.6 1912.2,563.8 1912.8,586.3 1912.8,688.9 1913.2,600.8 1913.2,580.6 1913.8,568.4 1913.8,607.6 1914.2,647.1 1914.2,570.4 1914.8,584.0 1914.8,616.7 1915.2,617.0 1915.2,575.5 1915.8,573.0 1915.8,621.6 1916.2,659.2 1916.2,639.1 1916.8,591.8 1916.8,622.3 1917.2,663.6 1917.2,618.8 1917.8,541.2 1917.8,601.3 1918.2,668.2 1918.2,582.3 1918.8,598.1 1918.8,655.8 1919.2,625.2 1919.2,588.9 1919.8,622.5 1919.8,658.1 1920.2,663.6 1920.2,590.3 1920.8,591.7 1920.8,642.9 1921.2,646.6 1921.2,592.5 1921.8,510.6 1921.8,638.5 1922.2,628.4 1922.2,602.3 1922.8,584.9 1922.8,613.9 1923.2,666.2 1923.2,608.0 1923.8,615.8 1923.8,646.5 1924.2,624.5 1924.2,561.4 1924.8,566.8 1924.8,664.7 1925.2,624.1 1925.2,555.8 1925.8,572.4 1925.8,612.5 1926.2,612.1 1926.2,579.8 1926.8,603.6 1926.8,637.8 1927.2,631.5 1927.2,583.8 1927.8,593.1 1927.8,619.9 1928.2,600.0 1928.2,579.3 1928.8,558.0 1928.8,629.0 1929.2,614.8 1929.2,540.3 1929.8,592.5 1929.8,621.5 1930.2,648.7 1930.2,616.6 1930.8,579.9 1930.8,690.5 1931.2,616.0 1931.2,576.4 1931.8,582.8 1931.8,637.9 1932.2,658.7 1932.2,613.6 1932.8,609.7 1932.8,632.4 1933.2,658.1 1933.2,556.0 1933.8,597.0 1933.8,668.9 1934.2,653.9 1934.2,577.9 1934.8,604.1 1934.8,614.4 1935.2,592.9 1935.2,530.4 1935.8,592.4 1935.8,613.7 1936.2,609.0 1936.2,560.5 1936.8,594.0 1936.8,622.2 1937.2,669.5 1937.2,620.6 1937.8,576.7 1937.8,603.5 1938.2,593.3 1938.2,577.3 1938.8,562.9 1938.8,610.8 1939.2,633.4 1939.2,560.6 1939.8,606.9 1939.8,622.7 1940.2,642.0 1940.2,585.1 1940.8,604.2 1940.8,637.4 1941.2,622.6 1941.2,583.2 1941.8,577.9 1941.8,629.7 1942.2,684.8 1942.2,589.0 1942.8,583.2 1942.8,642.8 1943.2,623.5 1943.2,596.7 1943.8,551.7 1943.8,656.4 1944.2,668.1 1944.2,576.3 1944.8,562.8 1944.8,623.3 1945.2,603.8 1945.2,563.4 1945.8,558.3 1945.8,622.0 1946.2,664.5 1946.2,599.9 1946.8,607.2 1946.8,639.2 1947.2,641.4 1947.2,590.6 1947.8,608.1 1947.8,619.4 1948.2,615.4 1948.2,608.2 1948.8,599.7 1948.8,634.3 1949.2,632.7 1949.2,558.0 1949.8,600.6 1949.8,680.7 1950.2,636.2 1950.2,602.7 1950.8,616.7 1950.8,663.3 1951.2,660.8 1951.2,544.9 1951.8,559.7 1951.8,666.6 1952.2,630.1 1952.2,595.4 1952.8,562.7 1952.8,645.2 1953.2,621.9 1953.2,560.4 1953.8,548.6 1953.8,650.9 1954.2,625.5 1954.2,579.7 1954.8,613.5 1954.8,629.5 1955.2,620.5 1955.2,556.0 1955.8,603.2 1955.8,671.4 1956.2,616.5 1956.2,599.8 1956.8,598.0 1956.8,708.2 1957.2,631.1 1957.2,576.5 1957.8,610.7 1957.8,739.8 1958.2,734.6 1958.2,538.1 1958.8,542.8 1958.8,642.8 1959.2,650.8 1959.2,579.2 1959.8,549.4 1959.8,620.3 1960.2,633.1 1960.2,622.3 1960.8,570.3 1960.8,609.2 1961.2,636.7 1961.2,601.1 1961.8,582.6 1961.8,609.3 1962.2,652.0 1962.2,596.9 1962.8,590.5 1962.8,630.4 1963.2,639.2 1963.2,565.0 1963.8,546.5 1963.8,600.1 1964.2,667.6 1964.2,586.5 1964.8,582.6 1964.8,681.9 1965.2,627.1 1965.2,600.9 1965.8,583.2 1965.8,665.7 1966.2,642.0 1966.2,552.3 1966.8,589.1 1966.8,640.7 1967.2,637.4 1967.2,597.8 1967.8,623.2 1967.8,639.5 1968.2,663.2 1968.2,551.7 1968.8,578.1 1968.8,689.6 1969.2,670.0 1969.2,611.2 1969.8,581.6 1969.8,615.2 1970.2,666.0 1970.2,614.6 1970.8,585.0 1970.8,619.6 1971.2,637.6 1971.2,584.3 1971.8,597.7 1971.8,608.5 1972.2,630.4 1972.2,617.7 1972.8,618.2 1972.8,667.0 1973.2,638.4 1973.2,608.3 1973.8,596.4 1973.8,626.7 1974.2,624.7 1974.2,546.1 1974.8,577.3 1974.8,634.8 1975.2,613.4 1975.2,577.0 1975.8,593.3 1975.8,670.5 1976.2,607.2 1976.2,596.4 1976.8,589.1 1976.8,664.1 1977.2,638.5 1977.2,556.1 1977.8,591.4 1977.8,656.0 1978.2,635.6 1978.2,571.1 1978.8,593.9 1978.8,610.0 1979.2,589.7 1979.2,586.8 1979.8,573.3 1979.8,648.4 1980.2,632.4 1980.2,601.7 1980.8,597.0 1980.8,623.2 1981.2,676.1 1981.2,587.3 1981.8,590.0 1981.8,641.9 1982.2,617.2 1982.2,580.1 1982.8,574.8 1982.8,640.4 1983.2,622.8 1983.2,549.7 1983.8,557.9 1983.8,652.4 1984.2,685.0 1984.2,580.9 1984.8,595.4 1984.8,623.9 1985.2,643.4 1985.2,571.8 1985.8,588.3 1985.8,687.8 1986.2,625.3 1986.2,571.1 1986.8,584.3 1986.8,656.8 1987.2,595.0 1987.2,594.0 1987.8,600.6 1987.8,649.6 1988.2,613.2 1988.2,550.1 1988.8,575.4 1988.8,633.4 1989.2,643.4 1989.2,622.1 1989.8,584.8 1989.8,638.9 1990.2,606.0 1990.2,569.0 1990.8,595.7 1990.8,643.3 1991.2,635.1 1991.2,561.5 1991.8,580.6 1991.8,603.8 1992.2,613.0 1992.2,554.3 1992.8,594.7 1992.8,609.3 1993.2,606.8 1993.2,554.3 1993.8,573.9 1993.8,663.9 1994.2,642.8 1994.2,609.9 1994.8,569.3 1994.8,643.8 1995.2,644.4 1995.2,598.4 1995.8,593.0 1995.8,617.7 1996.2,623.6 1996.2,606.2 1996.8,608.9 1996.8,644.7 1997.2,626.9 1997.2,598.6 1997.8,596.4 1997.8,699.4 1998.2,628.5 1998.2,563.7 1998.8,582.7 1998.8,661.6 1999.2,604.9 1999.2,589.0 1999.8,569.1 1999.8,627.3 2000.2,649.3 2000.2,591.7 2000.8,591.9 2000.8,662.4 2001.2,689.4 2001.2,576.5 2001.8,575.6 2001.8,623.2 2002.2,683.8 2002.2,555.5 2002.8,609.0 2002.8,652.0 2003.2,632.6 2003.2,585.3 2003.8,553.5 2003.8,656.4 2004.2,628.2 2004.2,563.1 2004.8,609.4 2004.8,635.9 2005.2,691.3 2005.2,590.8 2005.8,593.0 2005.8,681.3 2006.2,656.0 2006.2,572.6 2006.8,563.2 2006.8,631.9 2007.2,634.2 2007.2,595.0 2007.8,566.7 2007.8,676.6 2008.2,654.5 2008.2,605.0 2008.8,574.9 2008.8,620.0 2009.2,684.4 2009.2,595.7 2009.8,575.1 2009.8,599.9 2010.2,604.2 2010.2,590.9 2010.8,609.6 2010.8,694.6 2011.2,628.4 2011.2,565.5 2011.8,572.8 2011.8,615.8 2012.2,667.4 2012.2,611.4 2012.8,580.9 2012.8,609.6 2013.2,643.0 2013.2,578.5 2013.8,596.9 2013.8,687.4 2014.2,627.1 2014.2,564.2 2014.8,582.7 2014.8,616.4 2015.2,650.7 2015.2,552.1 2015.8,615.4 2015.8,632.8 2016.2,715.7 2016.2,608.5 2016.8,595.8 2016.8,622.9 2017.2,614.3 2017.2,562.3 2017.8,604.8 2017.8,699.9 2018.2,638.2 2018.2,600.0 2018.8,585.3 2018.8,608.1 2019.2,645.8 2019.2,562.9 2019.8,602.4 2019.8,617.3 2020.2,628.3 2020.2,593.3 2020.8,536.4 2020.8,599.5 2021.2,641.0 2021.2,579.4 2021.8,603.9 2021.8,617.9 2022.2,632.0 2022.2,576.2 2022.8,581.8 2022.8,636.9 2023.2,656.8 2023.2,583.9 2023.8,591.8 2023.8,639.7 2024.2,624.4 2024.2,547.3 2024.8,554.9 2024.8,670.3 2025.2,584.7 2025.2,563.3 2025.8,631.8 2025.8,658.6 2026.2,655.8 2026.2,578.9 2026.8,611.7 2026.8,705.7 2027.2,603.1 2027.2,596.8 2027.8,557.6 2027.8,586.4 2028.2,630.6 2028.2,594.6 2028.8,595.0 2028.8,632.0 2029.2,628.5 2029.2,588.9 2029.8,598.6 2029.8,613.7 2030.2,629.4 2030.2,560.0 2030.8,582.4 2030.8,632.4 2031.2,630.8 2031.2,580.2 2031.8,607.5 2031.8,625.5 2032.2,625.3 2032.2,610.0 2032.8,626.4 2032.8,660.8 2033.2,649.1 2033.2,582.7 2033.8,586.2 2033.8,628.9 2034.2,643.6 2034.2,577.9 2034.8,592.4 2034.8,637.6 2035.2,656.7 2035.2,618.0 2035.8,571.7 2035.8,623.8 2036.2,669.8 2036.2,564.8 2036.8,530.7 2036.8,664.1 2037.2,619.1 2037.2,587.0 2037.8,582.1 2037.8,639.3 2038.2,688.3 2038.2,635.0 2038.8,573.1 2038.8,626.2 2039.2,723.5 2039.2,580.6 2039.8,581.5 2039.8,672.4 2040.2,600.7 2040.2,568.2 2040.8,596.6 2040.8,647.7 2041.2,620.7 2041.2,585.8 2041.8,560.0 2041.8,655.3 2042.2,660.4 2042.2,583.6 2042.8,569.1 2042.8,592.8 2043.2,659.8 2043.2,622.9 2043.8,576.0 2043.8,625.2 2044.2,668.4 2044.2,610.8 2044.8,573.1 2044.8,669.5 2045.2,674.5 2045.2,594.4 2045.8,616.5 2045.8,621.7 2046.2,635.5 2046.2,579.8 2046.8,617.5 2046.8,652.0 2047.2,676.5 2047.2,638.5 2047.8,547.2 2047.8,636.1 2048.2,621.9 2048.2,598.9 2048.8,583.9 2048.8,651.8 2049.2,609.3 2049.2,586.5 2049.8,606.4 2049.8,683.1 2050.2,623.7 2050.2,573.0 2050.8,594.9 2050.8,611.1 2051.2,682.1 2051.2,585.2 2051.8,602.7 2051.8,726.0 2052.2,628.8 2052.2,545.5 2052.8,625.1 2052.8,689.5 2053.2,661.0 2053.2,574.6 2053.8,586.7 2053.8,605.7 2054.2,598.8 2054.2,573.6 2054.8,587.7 2054.8,672.2 2055.2,671.8 2055.2,595.0 2055.8,569.0 2055.8,598.5 2056.2,678.9 2056.2,611.1 2056.8,582.6 2056.8,646.7 2057.2,690.9 2057.2,628.1 2057.8,608.9 2057.8,620.6 2058.2,605.6 2058.2,578.0 2058.8,582.6 2058.8,628.4 2059.2,617.7 2059.2,607.1 2059.8,588.3 2059.8,639.0 2060.2,662.2 2060.2,566.7 2060.8,626.2 2060.8,695.3 2061.2,626.4 2061.2,581.5 2061.8,582.0 2061.8,621.3 2062.2,636.7 2062.2,616.4 2062.8,609.4 2062.8,642.2 2063.2,621.1 2063.2,584.2 2063.8,592.4 2063.8,617.0 2064.2,624.2 2064.2,578.4 2064.8,599.2 2064.8,711.9 2065.2,630.5 2065.2,594.4 2065.8,593.3 2065.8,634.9 2066.2,615.3 2066.2,580.3 2066.8,592.7 2066.8,631.2 2067.2,625.1 2067.2,590.1 2067.8,590.2 2067.8,629.7 2068.2,637.9 2068.2,577.6 2068.8,572.6 2068.8,647.5 2069.2,613.9 2069.2,576.1 2069.8,585.6 2069.8,664.4 2070.2,604.5 2070.2,597.1 2070.8,567.5 2070.8,627.9 2071.2,621.3 2071.2,549.0 2071.8,600.0 2071.8,660.1 2072.2,616.3 2072.2,591.9 2072.8,603.0 2072.8,628.9 2073.2,594.4 2073.2,583.5 2073.8,580.5 2073.8,680.5 2074.2,670.5 2074.2,576.3 2074.8,625.0 2074.8,688.0 2075.2,629.4 2075.2,615.5 2075.8,573.1 2075.8,610.6 2076.2,698.8 2076.2,585.8 2076.8,563.4 2076.8,613.3 2077.2,618.1 2077.2,581.9 2077.8,591.8 2077.8,620.0 2078.2,621.3 2078.2,585.1 2078.8,584.0 2078.8,656.4 2079.2,653.8 2079.2,616.1 2079.8,545.5 2079.8,615.3 2080.2,691.9 2080.2,596.1 2080.8,569.9 2080.8,592.6 2081.2,606.6 2081.2,591.5 2081.8,573.4 2081.8,618.0 2082.2,655.9 2082.2,587.7 2082.8,592.4 2082.8,659.1 2083.2,644.8 2083.2,608.7 2083.8,570.5 2083.8,613.9 2084.2,636.0 2084.2,590.0 2084.8,547.4 2084.8,747.1 2085.2,616.9 2085.2,586.9 2085.8,598.3 2085.8,625.1 2086.2,627.9 2086.2,593.2 2086.8,590.3 2086.8,677.5 2087.2,631.0 2087.2,587.1 2087.8,603.9 2087.8,633.9 2088.2,629.3 2088.2,594.8 2088.8,591.6 2088.8,656.8 2089.2,600.5 2089.2,572.3 2089.8,566.5 2089.8,640.2 2090.2,639.5 2090.2,606.4 2090.8,632.9 2090.8,658.6 2091.2,628.7 2091.2,603.5 2091.8,576.6 2091.8,604.7 2092.2,656.1 2092.2,590.0 2092.8,585.5 2092.8,635.3 2093.2,620.6 2093.2,582.3 2093.8,593.6 2093.8,643.1 2094.2,620.0 2094.2,573.0 2094.8,552.2 2094.8,604.0 2095.2,683.5 2095.2,599.5 2095.8,582.8 2095.8,601.4 2096.2,629.9 2096.2,575.3 2096.8,579.6 2096.8,682.0 2097.2,661.9 2097.2,573.1 2097.8,578.8 2097.8,625.4 2098.2,632.6 2098.2,547.7 2098.8,594.4 2098.8,620.2 2099.2,623.5 2099.2,582.2 2099.8,555.2 2099.8,631.8 2100.2,606.2 2100.2,550.6 2100.8,604.6 2100.8,707.3 2101.2,638.8 2101.2,603.9 2101.8,582.9 2101.8,633.3 2102.2,622.8 2102.2,601.1 2102.8,588.0 2102.8,663.1 2103.2,629.0 2103.2,600.2 2103.8,607.6 2103.8,641.2 2104.2,623.2 2104.2,608.0 2104.8,543.4 2104.8,610.5 2105.2,704.2 2105.2,598.0 2105.8,573.6 2105.8,627.0 2106.2,663.7 2106.2,579.3 2106.8,547.5 2106.8,635.1 2107.2,712.6 2107.2,596.9 2107.8,601.3 2107.8,619.2 2108.2,639.4 2108.2,610.5 2108.8,580.6 2108.8,617.5 2109.2,622.1 2109.2,595.2 2109.8,544.6 2109.8,612.4 2110.2,628.5 2110.2,588.6 2110.8,574.1 2110.8,640.5 2111.2,630.6 2111.2,578.9 2111.8,622.6 2111.8,645.8 2112.2,626.4 2112.2,589.9 2112.8,622.1 2112.8,638.6"/>
<text class="tk" text-anchor="end" transform="translate(244.6,82.3) scale(1,1.05)">0</text>
<text class="tk" text-anchor="end" transform="translate(244.6,175.8) scale(1,1.05)">-20</text>
<text class="tk" text-anchor="end" transform="translate(244.6,269.3) scale(1,1.05)">-40</text>
<text class="tk" text-anchor="end" transform="translate(244.6,362.8) scale(1,1.05)">-60</text>
<text class="tk" text-anchor="end" transform="translate(244.6,456.3) scale(1,1.05)">-80</text>
<text class="tk" text-anchor="end" transform="translate(244.6,549.8) scale(1,1.05)">-100</text>
<text class="tk" text-anchor="end" transform="translate(244.6,643.3) scale(1,1.05)">-120</text>
<text class="tk" text-anchor="end" transform="translate(244.6,736.8) scale(1,1.05)">-140</text>
<text class="tk" text-anchor="middle" transform="translate(281.4,802.8) scale(1,1.05)">0</text>
<text class="tk" text-anchor="middle" transform="translate(688.5,802.8) scale(1,1.05)">1000</text>
<text class="tk" text-anchor="middle" transform="translate(1095.6,802.8) scale(1,1.05)">2000</text>
<text class="tk" text-anchor="middle" transform="translate(1502.7,802.8) scale(1,1.05)">3000</text>
<text class="tk" text-anchor="middle" transform="translate(1909.8,802.8) scale(1,1.05)">4000</text>
<text class="ti" text-anchor="middle" transform="translate(1197.2,878.5) scale(1,1.03)">Frequency (Hz)</text>
<text class="ti" text-anchor="middle" transform="translate(92.2,365.9) rotate(-90) scale(1,1.0506)">Amplitude (dB)</text>
<text class="lg" transform="translate(1563.8,157.8) scale(1,1.041)">ENOB</text>
<text class="lg" transform="translate(1771.3,157.8) scale(1,1.041)">= 10.0 bits</text>
<text class="lg" transform="translate(1563.8,229.3) scale(1,1.041)">SNR</text>
<text class="lg" transform="translate(1771.3,229.3) scale(1,1.041)">= 64.7 dB</text>
<text class="lg" transform="translate(1563.8,300.3) scale(1,1.041)">SINAD</text>
<text class="lg" transform="translate(1771.3,300.3) scale(1,1.041)">= 62.4 dB</text>
<text class="lg" transform="translate(1563.8,371.2) scale(1,1.041)">SFDR</text>
<text class="lg" transform="translate(1771.3,371.2) scale(1,1.041)">= 66.3 dB</text>
</g>
<text class="cap" text-anchor="middle" transform="translate(1080,1019.6) scale(1.019,1.052)">(<tspan>a</tspan>)</text>
<g transform="translate(0,1014.0)">
<path class="grid gh" d="M281.0 158.10H2109.9M281.0 251.60H2109.9M281.0 345.10H2109.9M281.0 438.60H2109.9M281.0 532.10H2109.9M281.0 625.60H2109.9"/>
<path class="grid gv" d="M688.10 84.87V716.1M1095.20 84.87V716.1M1502.30 84.87V716.1M1909.40 84.87V716.1"/>
<rect class="ax" x="281.0" y="64.6" width="1831.9" height="654.5"/>
<path class="ax" d="M259.2 64.60H281.0M2091.1 64.60H2112.95M259.2 158.10H281.0M2091.1 158.10H2112.95M259.2 251.60H281.0M2091.1 251.60H2112.95M259.2 345.10H281.0M2091.1 345.10H2112.95M259.2 438.60H281.0M2091.1 438.60H2112.95M259.2 532.10H281.0M2091.1 532.10H2112.95M259.2 625.60H281.0M2091.1 625.60H2112.95M259.2 719.10H281.0M2091.1 719.10H2112.95M281.00 719.1v21.6M281.00 64.6v21.6M484.55 719.1v10.6M484.55 64.6v10.6M688.10 719.1v21.6M688.10 64.6v21.6M891.65 719.1v10.6M891.65 64.6v10.6M1095.20 719.1v21.6M1095.20 64.6v21.6M1298.75 719.1v10.6M1298.75 64.6v10.6M1502.30 719.1v21.6M1502.30 64.6v21.6M1705.85 719.1v10.6M1705.85 64.6v10.6M1909.40 719.1v21.6M1909.40 64.6v21.6M2112.95 719.1v10.6M2112.95 64.6v10.6"/>
<polyline class="dat" clip-path="url(#cp)" points="281.2,614.5 281.2,585.8 281.8,599.2 281.8,666.6 282.2,644.5 282.2,586.1 282.8,562.5 282.8,646.1 283.2,636.5 283.2,609.7 283.8,592.1 283.8,613.1 284.2,652.5 284.2,605.2 284.8,624.9 284.8,676.2 285.2,633.6 285.2,554.3 285.8,560.9 285.8,711.5 286.2,608.1 286.2,554.5 286.8,613.9 286.8,652.8 287.2,655.0 287.2,578.3 287.8,573.1 287.8,615.3 288.2,638.9 288.2,603.5 288.8,582.3 288.8,663.6 289.2,623.9 289.2,593.6 289.8,575.0 289.8,587.6 290.2,642.8 290.2,589.0 290.8,541.8 290.8,689.6 291.2,651.0 291.2,610.8 291.8,590.9 291.8,670.6 292.2,645.7 292.2,600.1 292.8,584.8 292.8,648.3 293.2,608.6 293.2,590.2 293.8,565.1 293.8,600.6 294.2,619.3 294.2,553.5 294.8,579.5 294.8,675.3 295.2,658.3 295.2,577.9 295.8,570.8 295.8,683.6 296.2,640.7 296.2,577.3 296.8,587.3 296.8,618.6 297.2,684.9 297.2,591.4 297.8,572.7 297.8,616.3 298.2,641.0 298.2,626.9 298.8,583.6 298.8,610.7 299.2,684.9 299.2,606.4 299.8,596.6 299.8,625.4 300.2,619.2 300.2,567.6 300.8,615.8 300.8,660.1 301.2,580.0 301.2,574.5 301.8,576.9 301.8,632.7 302.2,641.8 302.2,570.5 302.8,596.2 302.8,619.2 303.2,632.9 303.2,597.0 303.8,570.6 303.8,658.2 304.2,676.1 304.2,581.3 304.8,593.2 304.8,610.9 305.2,648.7 305.2,603.0 305.8,587.3 305.8,639.6 306.2,644.7 306.2,604.2 306.8,588.5 306.8,644.9 307.2,597.3 307.2,554.8 307.8,568.3 307.8,601.8 308.2,653.6 308.2,623.1 308.8,586.1 308.8,633.7 309.2,643.6 309.2,561.1 309.8,568.4 309.8,639.3 310.2,697.1 310.2,574.8 310.8,601.5 310.8,626.9 311.2,636.4 311.2,618.3 311.8,592.6 311.8,666.0 312.2,641.0 312.2,555.9 312.8,589.0 312.8,651.1 313.2,675.3 313.2,609.6 313.8,557.2 313.8,611.6 314.2,651.4 314.2,592.3 314.8,579.7 314.8,647.1 315.2,632.9 315.2,576.3 315.8,598.7 315.8,616.9 316.2,651.6 316.2,581.0 316.8,602.8 316.8,642.1 317.2,621.2 317.2,588.8 317.8,575.6 317.8,622.7 318.2,608.3 318.2,540.2 318.8,600.2 318.8,603.3 319.2,644.2 319.2,558.8 319.8,631.2 319.8,651.9 320.2,625.5 320.2,581.3 320.8,560.8 320.8,651.4 321.2,631.7 321.2,566.0 321.8,589.8 321.8,658.0 322.2,632.9 322.2,592.7 322.8,558.0 322.8,629.3 323.2,606.4 323.2,570.6 323.8,595.0 323.8,661.8 324.2,656.1 324.2,598.7 324.8,579.9 324.8,636.6 325.2,601.5 325.2,589.2 325.8,593.9 325.8,669.9 326.2,640.5 326.2,548.7 326.8,571.0 326.8,590.5 327.2,602.9 327.2,582.6 327.8,595.2 327.8,624.1 328.2,698.2 328.2,586.1 328.8,605.4 328.8,638.3 329.2,632.7 329.2,599.2 329.8,596.8 329.8,631.2 330.2,686.4 330.2,563.7 330.8,599.6 330.8,643.3 331.2,622.8 331.2,581.9 331.8,609.5 331.8,678.0 332.2,631.3 332.2,598.6 332.8,601.0 332.8,707.4 333.2,645.7 333.2,583.2 333.8,585.0 333.8,619.8 334.2,623.4 334.2,566.7 334.8,581.7 334.8,647.7 335.2,675.4 335.2,612.0 335.8,584.8 335.8,619.0 336.2,623.2 336.2,560.8 336.8,580.4 336.8,685.8 337.2,661.1 337.2,585.2 337.8,566.4 337.8,635.6 338.2,641.4 338.2,572.0 338.8,583.2 338.8,620.5 339.2,628.9 339.2,593.5 339.8,566.7 339.8,639.6 340.2,617.8 340.2,582.0 340.8,573.9 340.8,621.6 341.2,616.5 341.2,612.1 341.8,587.4 341.8,650.3 342.2,639.9 342.2,614.8 342.8,598.3 342.8,609.2 343.2,613.1 343.2,567.8 343.8,599.2 343.8,626.5 344.2,630.0 344.2,587.6 344.8,580.0 344.8,681.7 345.2,625.1 345.2,564.1 345.8,563.4 345.8,610.5 346.2,605.1 346.2,539.1 346.8,581.3 346.8,587.4 347.2,670.6 347.2,585.0 347.8,586.6 347.8,604.2 348.2,620.6 348.2,587.1 348.8,572.2 348.8,606.6 349.2,658.0 349.2,605.9 349.8,584.6 349.8,606.1 350.2,594.0 350.2,572.1 350.8,564.5 350.8,612.7 351.2,644.4 351.2,592.9 351.8,582.6 351.8,634.5 352.2,676.5 352.2,608.9 352.8,607.3 352.8,620.6 353.2,635.7 353.2,580.7 353.8,608.3 353.8,658.4 354.2,693.2 354.2,586.0 354.8,524.2 354.8,609.1 355.2,651.9 355.2,594.6 355.8,599.7 355.8,652.2 356.2,643.0 356.2,594.1 356.8,575.3 356.8,661.1 357.2,649.0 357.2,616.1 357.8,602.8 357.8,655.1 358.2,683.1 358.2,612.6 358.8,588.0 358.8,643.7 359.2,647.4 359.2,597.4 359.8,591.6 359.8,669.9 360.2,619.5 360.2,579.2 360.8,551.5 360.8,645.2 361.2,608.3 361.2,604.4 361.8,610.3 361.8,666.1 362.2,615.0 362.2,578.2 362.8,591.1 362.8,609.0 363.2,647.2 363.2,586.2 363.8,580.0 363.8,617.7 364.2,664.5 364.2,585.7 364.8,632.2 364.8,669.9 365.2,601.2 365.2,571.3 365.8,587.8 365.8,692.8 366.2,647.9 366.2,602.4 366.8,568.5 366.8,619.9 367.2,616.9 367.2,580.2 367.8,574.2 367.8,630.6 368.2,637.6 368.2,566.1 368.8,571.8 368.8,655.5 369.2,610.6 369.2,589.7 369.8,594.7 369.8,597.3 370.2,671.0 370.2,577.7 370.8,595.1 370.8,617.3 371.2,640.2 371.2,606.7 371.8,604.3 371.8,632.1 372.2,678.5 372.2,627.9 372.8,576.6 372.8,623.7 373.2,703.2 373.2,583.7 373.8,564.5 373.8,600.4 374.2,617.3 374.2,590.6 374.8,575.9 374.8,659.7 375.2,643.3 375.2,596.9 375.8,576.4 375.8,655.4 376.2,616.1 376.2,538.2 376.8,588.5 376.8,681.3 377.2,588.4 377.2,578.2 377.8,580.4 377.8,639.8 378.2,612.7 378.2,561.4 378.8,543.0 378.8,673.6 379.2,596.2 379.2,558.3 379.8,617.0 379.8,642.2 380.2,608.8 380.2,582.3 380.8,579.8 380.8,643.7 381.2,634.5 381.2,605.3 381.8,577.7 381.8,612.4 382.2,605.4 382.2,580.0 382.8,562.3 382.8,646.7 383.2,607.9 383.2,591.0 383.8,595.3 383.8,641.0 384.2,614.3 384.2,580.1 384.8,570.7 384.8,607.4 385.2,600.6 385.2,558.6 385.8,567.7 385.8,604.1 386.2,648.8 386.2,578.0 386.8,585.2 386.8,725.8 387.2,635.4 387.2,572.7 387.8,579.7 387.8,693.8 388.2,685.9 388.2,623.4 388.8,571.9 388.8,686.9 389.2,658.0 389.2,603.3 389.8,589.0 389.8,624.3 390.2,663.8 390.2,577.1 390.8,574.3 390.8,747.1 391.2,640.4 391.2,581.3 391.8,597.7 391.8,631.1 392.2,657.7 392.2,583.5 392.8,591.7 392.8,641.0 393.2,647.0 393.2,555.1 393.8,551.8 393.8,619.6 394.2,655.4 394.2,595.0 394.8,601.4 394.8,637.8 395.2,654.3 395.2,576.5 395.8,604.2 395.8,630.8 396.2,669.0 396.2,595.4 396.8,543.1 396.8,660.3 397.2,599.1 397.2,565.0 397.8,609.3 397.8,651.3 398.2,644.5 398.2,599.5 398.8,604.0 398.8,637.7 399.2,637.9 399.2,600.4 399.8,582.0 399.8,671.8 400.2,610.2 400.2,577.2 400.8,605.4 400.8,655.8 401.2,678.9 401.2,578.1 401.8,601.5 401.8,652.6 402.2,631.1 402.2,592.5 402.8,576.2 402.8,631.0 403.2,609.5 403.2,596.5 403.8,596.5 403.8,654.8 404.2,652.9 404.2,637.7 404.8,584.0 404.8,624.4 405.2,684.9 405.2,580.0 405.8,593.2 405.8,641.9 406.2,620.6 406.2,572.7 406.8,573.0 406.8,614.8 407.2,633.0 407.2,614.9 407.8,595.7 407.8,726.5 408.2,600.0 408.2,591.0 408.8,563.4 408.8,610.1 409.2,598.3 409.2,571.8 409.8,599.1 409.8,664.4 410.2,645.4 410.2,591.7 410.8,588.5 410.8,735.6 411.2,603.6 411.2,552.7 411.8,572.9 411.8,621.4 412.2,635.7 412.2,596.9 412.8,583.6 412.8,594.3 413.2,664.5 413.2,599.4 413.8,602.1 413.8,663.3 414.2,632.2 414.2,561.8 414.8,586.4 414.8,600.6 415.2,621.1 415.2,601.7 415.8,609.8 415.8,660.9 416.2,628.9 416.2,580.2 416.8,606.0 416.8,654.8 417.2,600.1 417.2,595.6 417.8,586.0 417.8,675.7 418.2,630.9 418.2,593.3 418.8,576.1 418.8,629.1 419.2,636.1 419.2,564.3 419.8,619.6 419.8,647.6 420.2,649.9 420.2,564.9 420.8,572.3 420.8,610.7 421.2,653.5 421.2,598.7 421.8,628.3 421.8,663.9 422.2,650.2 422.2,603.7 422.8,573.0 422.8,628.8 423.2,638.9 423.2,583.8 423.8,577.9 423.8,675.8 424.2,619.5 424.2,611.2 424.8,607.8 424.8,623.4 425.2,678.1 425.2,614.4 425.8,573.9 425.8,618.4 426.2,718.7 426.2,601.2 426.8,604.1 426.8,640.9 427.2,632.4 427.2,605.1 427.8,564.8 427.8,632.0 428.2,614.6 428.2,611.2 428.8,570.2 428.8,599.5 429.2,641.6 429.2,594.4 429.8,601.4 429.8,639.3 430.2,618.9 430.2,598.5 430.8,612.8 430.8,626.3 431.2,619.3 431.2,589.6 431.8,572.1 431.8,628.9 432.2,653.9 432.2,595.7 432.8,604.3 432.8,675.8 433.2,674.9 433.2,594.5 433.8,591.8 433.8,657.3 434.2,635.0 434.2,592.9 434.8,567.5 434.8,588.5 435.2,631.1 435.2,618.7 435.8,587.2 435.8,621.7 436.2,643.6 436.2,586.6 436.8,569.3 436.8,620.3 437.2,624.6 437.2,592.9 437.8,572.2 437.8,634.1 438.2,622.8 438.2,562.2 438.8,589.5 438.8,621.1 439.2,642.2 439.2,558.3 439.8,615.5 439.8,747.1 440.2,632.3 440.2,618.4 440.8,603.0 440.8,669.6 441.2,623.5 441.2,592.3 441.8,587.8 441.8,596.4 442.2,665.7 442.2,585.5 442.8,576.0 442.8,653.3 443.2,575.8 443.2,556.6 443.8,587.2 443.8,649.4 444.2,644.7 444.2,600.6 444.8,560.9 444.8,634.6 445.2,641.3 445.2,623.6 445.8,604.5 445.8,638.4 446.2,679.2 446.2,605.6 446.8,603.9 446.8,648.9 447.2,646.9 447.2,559.3 447.8,599.8 447.8,652.3 448.2,610.7 448.2,592.8 448.8,586.2 448.8,650.0 449.2,666.3 449.2,575.3 449.8,602.8 449.8,614.2 450.2,632.0 450.2,572.3 450.8,596.9 450.8,650.4 451.2,608.5 451.2,581.1 451.8,604.0 451.8,677.3 452.2,621.5 452.2,595.7 452.8,575.1 452.8,612.2 453.2,616.2 453.2,555.8 453.8,579.0 453.8,628.5 454.2,613.5 454.2,586.7 454.8,613.8 454.8,632.4 455.2,635.8 455.2,557.8 455.8,526.4 455.8,601.3 456.2,637.6 456.2,611.0 456.8,593.6 456.8,655.6 457.2,679.9 457.2,578.1 457.8,584.5 457.8,639.9 458.2,638.3 458.2,576.4 458.8,595.8 458.8,604.4 459.2,638.1 459.2,601.2 459.8,603.3 459.8,632.7 460.2,622.0 460.2,583.4 460.8,583.4 460.8,678.8 461.2,592.3 461.2,585.9 461.8,569.9 461.8,651.6 462.2,728.7 462.2,592.4 462.8,613.1 462.8,693.2 463.2,626.7 463.2,597.6 463.8,573.1 463.8,632.4 464.2,595.9 464.2,592.9 464.8,558.0 464.8,628.0 465.2,619.7 465.2,600.6 465.8,575.6 465.8,639.5 466.2,627.8 466.2,599.0 466.8,604.2 466.8,670.8 467.2,620.0 467.2,575.7 467.8,574.2 467.8,623.6 468.2,630.0 468.2,596.1 468.8,613.7 468.8,667.9 469.2,633.7 469.2,599.1 469.8,590.7 469.8,654.8 470.2,619.2 470.2,586.4 470.8,598.8 470.8,673.5 471.2,614.5 471.2,584.1 471.8,592.1 471.8,616.9 472.2,622.8 472.2,582.2 472.8,591.9 472.8,622.1 473.2,697.7 473.2,595.6 473.8,571.2 473.8,630.9 474.2,687.4 474.2,597.6 474.8,598.8 474.8,665.6 475.2,618.6 475.2,593.6 475.8,532.9 475.8,600.6 476.2,647.8 476.2,580.2 476.8,564.8 476.8,601.8 477.2,635.0 477.2,577.4 477.8,588.2 477.8,622.2 478.2,661.2 478.2,626.9 478.8,586.2 478.8,626.6 479.2,679.2 479.2,569.8 479.8,586.6 479.8,665.5 480.2,649.0 480.2,591.5 480.8,578.6 480.8,586.6 481.2,616.6 481.2,537.2 481.8,585.5 481.8,652.7 482.2,668.2 482.2,607.1 482.8,605.4 482.8,690.7 483.2,681.4 483.2,614.2 483.8,573.4 483.8,668.1 484.2,655.8 484.2,566.9 484.8,579.5 484.8,657.1 485.2,672.1 485.2,591.2 485.8,539.8 485.8,683.4 486.2,659.3 486.2,547.0 486.8,586.1 486.8,613.6 487.2,643.2 487.2,546.7 487.8,593.0 487.8,638.4 488.2,629.9 488.2,584.2 488.8,586.1 488.8,634.5 489.2,605.5 489.2,598.5 489.8,621.6 489.8,643.6 490.2,618.3 490.2,569.4 490.8,566.9 490.8,622.2 491.2,649.3 491.2,518.5 491.8,590.7 491.8,654.9 492.2,612.8 492.2,588.6 492.8,538.8 492.8,619.9 493.2,660.3 493.2,572.1 493.8,565.2 493.8,635.2 494.2,635.4 494.2,594.4 494.8,566.2 494.8,618.6 495.2,621.4 495.2,590.8 495.8,550.7 495.8,616.2 496.2,690.5 496.2,582.5 496.8,601.9 496.8,661.3 497.2,642.6 497.2,577.7 497.8,613.0 497.8,684.4 498.2,612.8 498.2,567.6 498.8,570.1 498.8,667.6 499.2,630.8 499.2,601.2 499.8,607.7 499.8,639.5 500.2,620.2 500.2,579.2 500.8,581.6 500.8,608.6 501.2,663.8 501.2,577.5 501.8,597.9 501.8,642.4 502.2,665.6 502.2,547.0 502.8,592.0 502.8,643.3 503.2,608.9 503.2,591.9 503.8,578.2 503.8,653.5 504.2,700.0 504.2,569.3 504.8,604.5 504.8,658.6 505.2,647.6 505.2,613.2 505.8,604.2 505.8,637.7 506.2,669.5 506.2,553.0 506.8,588.6 506.8,624.1 507.2,644.1 507.2,592.2 507.8,582.4 507.8,645.8 508.2,635.7 508.2,587.1 508.8,580.1 508.8,681.4 509.2,640.3 509.2,615.2 509.8,566.2 509.8,595.8 510.2,674.8 510.2,576.4 510.8,598.9 510.8,622.1 511.2,634.2 511.2,571.9 511.8,592.8 511.8,614.6 512.2,646.2 512.2,581.5 512.8,609.6 512.8,660.1 513.2,666.2 513.2,609.9 513.8,586.9 513.8,653.8 514.2,628.7 514.2,577.1 514.8,572.2 514.8,614.9 515.2,646.2 515.2,606.0 515.8,618.1 515.8,643.4 516.2,619.3 516.2,597.3 516.8,611.8 516.8,665.5 517.2,634.2 517.2,618.7 517.8,582.2 517.8,674.8 518.2,622.5 518.2,605.9 518.8,608.4 518.8,614.3 519.2,719.1 519.2,557.3 519.8,566.8 519.8,613.5 520.2,616.1 520.2,608.0 520.8,619.3 520.8,636.9 521.2,684.1 521.2,595.0 521.8,588.5 521.8,643.2 522.2,606.9 522.2,604.5 522.8,578.0 522.8,613.2 523.2,668.9 523.2,596.9 523.8,547.0 523.8,653.4 524.2,599.5 524.2,574.1 524.8,549.8 524.8,654.9 525.2,630.0 525.2,589.9 525.8,580.3 525.8,616.2 526.2,671.3 526.2,614.1 526.8,574.5 526.8,655.9 527.2,652.2 527.2,595.8 527.8,595.1 527.8,641.4 528.2,656.9 528.2,564.3 528.8,577.5 528.8,629.9 529.2,663.7 529.2,602.3 529.8,545.0 529.8,683.0 530.2,639.6 530.2,580.3 530.8,596.5 530.8,633.1 531.2,643.3 531.2,550.6 531.8,604.6 531.8,639.3 532.2,624.4 532.2,521.1 532.8,592.2 532.8,637.9 533.2,615.7 533.2,568.7 533.8,567.4 533.8,624.5 534.2,612.5 534.2,559.4 534.8,551.1 534.8,651.7 535.2,689.8 535.2,577.0 535.8,604.0 535.8,654.8 536.2,641.6 536.2,582.8 536.8,555.3 536.8,624.9 537.2,623.1 537.2,594.6 537.8,559.0 537.8,669.3 538.2,702.7 538.2,565.2 538.8,616.4 538.8,633.4 539.2,595.8 539.2,586.5 539.8,540.3 539.8,641.1 540.2,628.3 540.2,595.7 540.8,581.3 540.8,648.6 541.2,625.3 541.2,589.2 541.8,608.9 541.8,678.2 542.2,632.9 542.2,584.9 542.8,588.0 542.8,659.8 543.2,605.0 543.2,573.7 543.8,626.9 543.8,696.0 544.2,596.7 544.2,589.2 544.8,592.0 544.8,649.6 545.2,658.4 545.2,535.2 545.8,560.6 545.8,623.5 546.2,621.2 546.2,601.8 546.8,558.6 546.8,629.7 547.2,671.5 547.2,575.6 547.8,566.1 547.8,688.8 548.2,655.7 548.2,598.2 548.8,552.0 548.8,637.9 549.2,678.4 549.2,588.0 549.8,568.5 549.8,640.9 550.2,612.5 550.2,598.0 550.8,558.7 550.8,627.4 551.2,687.9 551.2,606.7 551.8,591.4 551.8,652.4 552.2,666.6 552.2,582.9 552.8,617.3 552.8,665.1 553.2,626.4 553.2,575.9 553.8,578.1 553.8,640.9 554.2,671.7 554.2,564.7 554.8,590.3 554.8,643.2 555.2,635.1 555.2,563.6 555.8,599.0 555.8,634.2 556.2,632.9 556.2,561.5 556.8,538.0 556.8,656.0 557.2,626.3 557.2,526.0 557.8,573.8 557.8,623.6 558.2,685.7 558.2,569.5 558.8,524.6 558.8,562.6 559.2,599.0 559.2,587.2 559.8,583.1 559.8,646.5 560.2,626.5 560.2,594.9 560.8,558.4 560.8,637.4 561.2,614.0 561.2,575.5 561.8,590.0 561.8,631.6 562.2,664.9 562.2,609.1 562.8,569.0 562.8,620.4 563.2,673.4 563.2,611.3 563.8,581.1 563.8,615.2 564.2,666.0 564.2,581.9 564.8,624.9 564.8,727.0 565.2,641.3 565.2,584.2 565.8,603.2 565.8,616.6 566.2,665.2 566.2,603.6 566.8,595.2 566.8,652.6 567.2,635.5 567.2,550.6 567.8,560.8 567.8,658.1 568.2,631.3 568.2,588.5 568.8,611.7 568.8,621.3 569.2,719.0 569.2,524.6 569.8,579.6 569.8,651.1 570.2,602.2 570.2,581.7 570.8,587.4 570.8,644.4 571.2,664.9 571.2,612.1 571.8,576.1 571.8,614.3 572.2,654.8 572.2,579.7 572.8,530.4 572.8,705.7 573.2,636.2 573.2,596.4 573.8,595.0 573.8,638.0 574.2,630.6 574.2,600.5 574.8,571.8 574.8,747.1 575.2,649.4 575.2,613.0 575.8,595.1 575.8,637.0 576.2,624.7 576.2,582.1 576.8,607.1 576.8,641.3 577.2,632.5 577.2,573.8 577.8,579.3 577.8,627.7 578.2,617.9 578.2,603.1 578.8,570.6 578.8,589.7 579.2,669.9 579.2,558.5 579.8,604.9 579.8,687.5 580.2,625.8 580.2,570.7 580.8,595.0 580.8,689.4 581.2,647.4 581.2,589.6 581.8,549.7 581.8,747.1 582.2,634.7 582.2,588.7 582.8,593.2 582.8,618.5 583.2,654.2 583.2,602.9 583.8,585.6 583.8,594.6 584.2,747.1 584.2,589.9 584.8,526.5 584.8,628.5 585.2,623.9 585.2,536.3 585.8,520.3 585.8,613.4 586.2,636.2 586.2,538.9 586.8,595.6 586.8,604.3 587.2,628.4 587.2,559.0 587.8,577.1 587.8,618.0 588.2,612.7 588.2,582.8 588.8,570.2 588.8,619.9 589.2,647.3 589.2,565.4 589.8,596.6 589.8,655.2 590.2,628.8 590.2,587.6 590.8,582.5 590.8,657.5 591.2,640.4 591.2,601.2 591.8,567.3 591.8,628.7 592.2,655.6 592.2,598.4 592.8,552.0 592.8,646.8 593.2,634.2 593.2,571.5 593.8,583.8 593.8,641.6 594.2,645.9 594.2,563.5 594.8,611.2 594.8,686.0 595.2,580.4 595.2,546.5 595.8,587.3 595.8,640.9 596.2,633.5 596.2,517.1 596.8,586.6 596.8,623.0 597.2,645.4 597.2,636.7 597.8,567.0 597.8,646.0 598.2,604.3 598.2,569.9 598.8,564.7 598.8,624.8 599.2,643.7 599.2,607.9 599.8,605.5 599.8,683.6 600.2,623.2 600.2,586.2 600.8,584.7 600.8,597.0 601.2,630.9 601.2,572.3 601.8,566.5 601.8,642.5 602.2,613.7 602.2,533.3 602.8,597.0 602.8,644.5 603.2,641.1 603.2,601.7 603.8,595.1 603.8,633.6 604.2,623.1 604.2,612.9 604.8,593.4 604.8,654.3 605.2,613.8 605.2,564.1 605.8,566.1 605.8,599.3 606.2,640.8 606.2,559.2 606.8,607.0 606.8,637.0 607.2,626.3 607.2,518.5 607.8,570.2 607.8,592.6 608.2,605.6 608.2,593.8 608.8,598.0 608.8,668.4 609.2,622.4 609.2,608.1 609.8,568.6 609.8,639.3 610.2,649.8 610.2,582.6 610.8,617.7 610.8,655.0 611.2,597.4 611.2,573.7 611.8,586.0 611.8,662.4 612.2,622.6 612.2,606.8 612.8,577.8 612.8,604.8 613.2,660.8 613.2,541.3 613.8,591.2 613.8,632.6 614.2,667.5 614.2,610.6 614.8,581.1 614.8,649.0 615.2,623.9 615.2,567.9 615.8,586.6 615.8,632.3 616.2,591.9 616.2,578.0 616.8,584.1 616.8,598.1 617.2,615.8 617.2,565.8 617.8,606.0 617.8,654.5 618.2,657.6 618.2,599.6 618.8,541.3 618.8,647.8 619.2,652.8 619.2,582.9 619.8,562.9 619.8,632.2 620.2,624.3 620.2,514.3 620.8,594.7 620.8,684.8 621.2,631.9 621.2,605.2 621.8,608.0 621.8,632.4 622.2,646.3 622.2,544.4 622.8,592.5 622.8,645.3 623.2,625.1 623.2,597.8 623.8,591.3 623.8,619.5 624.2,668.8 624.2,592.5 624.8,589.1 624.8,667.1 625.2,654.2 625.2,606.4 625.8,577.4 625.8,647.2 626.2,666.9 626.2,603.7 626.8,602.5 626.8,614.4 627.2,647.4 627.2,591.4 627.8,587.2 627.8,628.3 628.2,648.2 628.2,601.9 628.8,492.4 628.8,628.3 629.2,664.4 629.2,594.5 629.8,613.1 629.8,640.8 630.2,622.7 630.2,554.7 630.8,577.6 630.8,596.4 631.2,640.2 631.2,567.1 631.8,584.8 631.8,654.1 632.2,699.0 632.2,596.4 632.8,613.0 632.8,643.4 633.2,627.4 633.2,577.2 633.8,617.8 633.8,620.7 634.2,607.7 634.2,576.1 634.8,590.7 634.8,644.2 635.2,629.3 635.2,579.7 635.8,591.7 635.8,621.4 636.2,672.7 636.2,579.9 636.8,580.2 636.8,596.5 637.2,647.8 637.2,574.4 637.8,595.8 637.8,649.9 638.2,635.9 638.2,601.7 638.8,588.4 638.8,623.6 639.2,637.1 639.2,563.4 639.8,584.2 639.8,629.1 640.2,653.7 640.2,581.8 640.8,566.0 640.8,686.1 641.2,638.7 641.2,579.2 641.8,502.2 641.8,663.1 642.2,629.4 642.2,580.9 642.8,547.1 642.8,647.0 643.2,610.7 643.2,578.8 643.8,594.5 643.8,615.8 644.2,691.5 644.2,580.1 644.8,591.4 644.8,669.3 645.2,647.5 645.2,580.1 645.8,578.3 645.8,642.8 646.2,623.7 646.2,602.3 646.8,516.8 646.8,644.5 647.2,621.8 647.2,584.1 647.8,568.4 647.8,598.5 648.2,613.0 648.2,597.0 648.8,585.1 648.8,623.5 649.2,602.7 649.2,541.4 649.8,610.2 649.8,671.4 650.2,706.7 650.2,579.5 650.8,583.2 650.8,628.3 651.2,629.9 651.2,558.5 651.8,617.3 651.8,649.7 652.2,650.3 652.2,602.9 652.8,576.7 652.8,651.1 653.2,610.9 653.2,603.4 653.8,540.7 653.8,633.7 654.2,635.7 654.2,566.1 654.8,533.5 654.8,608.9 655.2,646.1 655.2,579.8 655.8,591.3 655.8,638.8 656.2,606.2 656.2,590.0 656.8,590.8 656.8,659.2 657.2,628.0 657.2,595.5 657.8,567.3 657.8,657.0 658.2,615.5 658.2,559.1 658.8,599.1 658.8,650.7 659.2,627.1 659.2,609.9 659.8,556.0 659.8,703.7 660.2,612.3 660.2,572.1 660.8,501.7 660.8,596.2 661.2,616.0 661.2,561.9 661.8,591.8 661.8,604.8 662.2,641.8 662.2,603.7 662.8,585.7 662.8,609.6 663.2,607.9 663.2,579.9 663.8,595.5 663.8,670.4 664.2,636.6 664.2,607.2 664.8,577.7 664.8,600.3 665.2,632.1 665.2,582.7 665.8,579.2 665.8,668.9 666.2,663.9 666.2,498.0 666.8,556.6 666.8,680.3 667.2,599.6 667.2,553.7 667.8,551.0 667.8,654.4 668.2,653.0 668.2,573.5 668.8,508.8 668.8,662.7 669.2,655.8 669.2,607.3 669.8,553.2 669.8,609.3 670.2,603.3 670.2,588.3 670.8,619.2 670.8,645.3 671.2,640.4 671.2,587.6 671.8,572.0 671.8,633.9 672.2,619.8 672.2,587.9 672.8,603.7 672.8,640.3 673.2,627.8 673.2,585.2 673.8,617.0 673.8,681.6 674.2,689.4 674.2,517.6 674.8,561.7 674.8,611.6 675.2,650.6 675.2,562.5 675.8,617.4 675.8,638.7 676.2,627.1 676.2,572.3 676.8,596.5 676.8,656.0 677.2,614.8 677.2,571.4 677.8,587.6 677.8,599.0 678.2,612.4 678.2,547.4 678.8,572.4 678.8,619.4 679.2,614.1 679.2,591.4 679.8,583.9 679.8,611.5 680.2,662.7 680.2,568.2 680.8,587.2 680.8,625.8 681.2,658.3 681.2,585.2 681.8,523.0 681.8,617.5 682.2,644.2 682.2,569.6 682.8,610.8 682.8,627.4 683.2,625.2 683.2,578.3 683.8,610.3 683.8,644.9 684.2,623.3 684.2,590.9 684.8,604.2 684.8,689.3 685.2,683.7 685.2,600.3 685.8,575.6 685.8,635.1 686.2,632.7 686.2,619.1 686.8,552.6 686.8,599.7 687.2,642.7 687.2,594.3 687.8,591.3 687.8,657.3 688.2,601.8 688.2,592.6 688.8,599.9 688.8,615.2 689.2,623.9 689.2,602.0 689.8,611.0 689.8,634.7 690.2,635.6 690.2,598.6 690.8,574.4 690.8,676.2 691.2,670.2 691.2,617.9 691.8,569.3 691.8,606.3 692.2,623.0 692.2,594.3 692.8,483.9 692.8,638.9 693.2,647.8 693.2,562.3 693.8,605.2 693.8,663.0 694.2,621.6 694.2,558.3 694.8,575.2 694.8,612.8 695.2,680.5 695.2,501.7 695.8,585.5 695.8,669.0 696.2,632.3 696.2,586.8 696.8,600.4 696.8,656.7 697.2,650.0 697.2,566.8 697.8,581.8 697.8,630.0 698.2,653.4 698.2,595.0 698.8,594.5 698.8,633.3 699.2,611.8 699.2,510.3 699.8,592.5 699.8,644.5 700.2,671.3 700.2,557.2 700.8,576.6 700.8,606.8 701.2,621.0 701.2,516.3 701.8,613.6 701.8,667.1 702.2,635.8 702.2,598.8 702.8,580.1 702.8,597.9 703.2,644.4 703.2,594.0 703.8,485.8 703.8,653.3 704.2,637.2 704.2,614.3 704.8,610.8 704.8,697.9 705.2,642.8 705.2,593.7 705.8,552.0 705.8,584.7 706.2,626.0 706.2,483.5 706.8,586.0 706.8,608.3 707.2,659.7 707.2,596.4 707.8,526.1 707.8,622.9 708.2,639.0 708.2,589.0 708.8,498.9 708.8,644.1 709.2,624.1 709.2,574.4 709.8,557.8 709.8,597.6 710.2,641.6 710.2,578.7 710.8,614.9 710.8,733.9 711.2,658.8 711.2,598.0 711.8,607.6 711.8,625.9 712.2,663.5 712.2,567.9 712.8,598.8 712.8,603.2 713.2,631.0 713.2,581.2 713.8,599.2 713.8,641.7 714.2,659.3 714.2,592.3 714.8,583.2 714.8,629.9 715.2,633.9 715.2,579.3 715.8,582.5 715.8,658.1 716.2,644.0 716.2,585.3 716.8,532.1 716.8,594.1 717.2,619.7 717.2,582.3 717.8,562.0 717.8,620.8 718.2,668.9 718.2,600.9 718.8,505.6 718.8,644.3 719.2,677.9 719.2,602.6 719.8,479.3 719.8,644.2 720.2,612.8 720.2,596.1 720.8,558.0 720.8,649.8 721.2,593.7 721.2,565.6 721.8,593.1 721.8,618.0 722.2,620.7 722.2,587.1 722.8,570.8 722.8,604.3 723.2,619.2 723.2,489.4 723.8,599.4 723.8,659.6 724.2,671.2 724.2,580.1 724.8,440.9 724.8,616.9 725.2,643.7 725.2,572.8 725.8,489.3 725.8,641.3 726.2,607.7 726.2,557.4 726.8,578.5 726.8,626.7 727.2,652.9 727.2,503.2 727.8,452.6 727.8,592.5 728.2,635.8 728.2,564.5 728.8,519.8 728.8,637.6 729.2,617.1 729.2,554.5 729.8,606.0 729.8,625.8 730.2,652.8 730.2,467.6 730.8,568.1 730.8,616.5 731.2,604.8 731.2,550.5 731.8,585.9 731.8,635.0 732.2,627.7 732.2,589.2 732.8,591.6 732.8,624.9 733.2,596.4 733.2,474.6 733.8,565.3 733.8,647.9 734.2,635.7 734.2,494.4 734.8,472.6 734.8,673.5 735.2,590.3 735.2,565.7 735.8,597.7 735.8,609.7 736.2,649.7 736.2,432.5 736.8,577.1 736.8,584.5 737.2,644.5 737.2,588.4 737.8,592.5 737.8,654.6 738.2,630.2 738.2,606.1 738.8,64.6 738.8,649.1 739.2,664.9 739.2,565.0 739.8,596.9 739.8,628.1 740.2,656.7 740.2,544.9 740.8,557.3 740.8,650.9 741.2,609.3 741.2,604.3 741.8,598.3 741.8,641.0 742.2,633.9 742.2,583.8 742.8,588.9 742.8,637.9 743.2,636.2 743.2,511.9 743.8,483.9 743.8,651.4 744.2,629.0 744.2,565.5 744.8,607.2 744.8,632.6 745.2,653.8 745.2,479.6 745.8,587.4 745.8,711.0 746.2,640.8 746.2,580.3 746.8,518.2 746.8,613.0 747.2,632.6 747.2,585.9 747.8,581.4 747.8,671.1 748.2,608.0 748.2,572.4 748.8,596.4 748.8,646.2 749.2,611.4 749.2,489.1 749.8,588.2 749.8,626.9 750.2,615.4 750.2,494.4 750.8,589.8 750.8,643.1 751.2,612.2 751.2,599.2 751.8,590.9 751.8,640.8 752.2,612.5 752.2,444.7 752.8,593.2 752.8,635.0 753.2,665.6 753.2,600.8 753.8,609.7 753.8,633.5 754.2,632.3 754.2,480.7 754.8,585.3 754.8,661.8 755.2,628.9 755.2,602.7 755.8,516.2 755.8,610.2 756.2,609.3 756.2,599.1 756.8,580.7 756.8,627.7 757.2,682.3 757.2,575.1 757.8,535.8 757.8,620.5 758.2,644.7 758.2,601.8 758.8,502.5 758.8,626.2 759.2,725.7 759.2,580.7 759.8,600.6 759.8,623.5 760.2,662.3 760.2,499.4 760.8,578.7 760.8,612.8 761.2,655.5 761.2,600.2 761.8,602.9 761.8,640.4 762.2,584.9 762.2,555.4 762.8,579.3 762.8,625.1 763.2,608.6 763.2,503.4 763.8,573.2 763.8,612.0 764.2,682.3 764.2,584.9 764.8,559.5 764.8,586.2 765.2,652.9 765.2,608.4 765.8,605.3 765.8,619.5 766.2,629.8 766.2,548.6 766.8,573.9 766.8,619.4 767.2,659.3 767.2,593.1 767.8,592.7 767.8,614.3 768.2,608.2 768.2,584.0 768.8,580.5 768.8,627.1 769.2,638.9 769.2,586.0 769.8,593.3 769.8,623.2 770.2,655.4 770.2,616.4 770.8,563.9 770.8,585.9 771.2,635.4 771.2,612.2 771.8,599.6 771.8,633.0 772.2,697.7 772.2,577.7 772.8,597.7 772.8,650.8 773.2,641.6 773.2,491.4 773.8,570.2 773.8,686.5 774.2,623.0 774.2,593.0 774.8,571.3 774.8,645.7 775.2,618.1 775.2,607.5 775.8,568.4 775.8,622.7 776.2,653.6 776.2,572.9 776.8,591.0 776.8,642.2 777.2,658.7 777.2,566.5 777.8,633.4 777.8,696.0 778.2,638.2 778.2,553.9 778.8,590.0 778.8,599.0 779.2,623.5 779.2,580.4 779.8,570.3 779.8,667.4 780.2,658.8 780.2,629.8 780.8,581.4 780.8,613.2 781.2,638.9 781.2,580.5 781.8,534.4 781.8,648.8 782.2,683.1 782.2,619.4 782.8,585.7 782.8,709.7 783.2,665.1 783.2,570.6 783.8,567.5 783.8,658.2 784.2,594.0 784.2,577.9 784.8,573.9 784.8,645.5 785.2,672.8 785.2,619.5 785.8,568.1 785.8,747.1 786.2,621.0 786.2,597.8 786.8,572.2 786.8,653.6 787.2,642.1 787.2,590.2 787.8,575.9 787.8,653.5 788.2,640.3 788.2,583.1 788.8,567.0 788.8,668.4 789.2,655.6 789.2,598.6 789.8,562.4 789.8,662.7 790.2,629.0 790.2,527.1 790.8,581.8 790.8,671.9 791.2,649.1 791.2,574.2 791.8,622.4 791.8,642.1 792.2,664.4 792.2,508.7 792.8,611.0 792.8,633.6 793.2,645.7 793.2,620.6 793.8,583.1 793.8,628.0 794.2,620.6 794.2,602.4 794.8,494.7 794.8,644.9 795.2,673.6 795.2,540.9 795.8,571.5 795.8,618.5 796.2,712.8 796.2,540.7 796.8,566.5 796.8,648.6 797.2,701.9 797.2,594.3 797.8,574.7 797.8,627.4 798.2,613.4 798.2,564.7 798.8,528.0 798.8,624.2 799.2,628.9 799.2,600.0 799.8,580.1 799.8,647.5 800.2,636.9 800.2,579.1 800.8,574.9 800.8,605.5 801.2,626.1 801.2,601.5 801.8,559.4 801.8,606.1 802.2,695.5 802.2,586.6 802.8,598.3 802.8,628.0 803.2,673.6 803.2,589.3 803.8,581.7 803.8,614.9 804.2,651.4 804.2,621.7 804.8,579.5 804.8,636.0 805.2,656.6 805.2,637.0 805.8,508.7 805.8,619.7 806.2,614.5 806.2,581.8 806.8,573.8 806.8,618.9 807.2,661.0 807.2,576.8 807.8,606.4 807.8,633.0 808.2,609.4 808.2,589.2 808.8,600.5 808.8,646.7 809.2,618.0 809.2,564.3 809.8,587.6 809.8,609.1 810.2,638.4 810.2,575.5 810.8,608.9 810.8,676.9 811.2,699.2 811.2,592.1 811.8,562.8 811.8,646.2 812.2,703.5 812.2,564.7 812.8,597.4 812.8,649.7 813.2,623.2 813.2,553.7 813.8,501.7 813.8,685.8 814.2,624.2 814.2,600.4 814.8,597.3 814.8,616.5 815.2,616.9 815.2,565.5 815.8,556.8 815.8,622.3 816.2,617.8 816.2,575.5 816.8,554.3 816.8,611.8 817.2,713.4 817.2,576.1 817.8,574.3 817.8,689.6 818.2,680.4 818.2,572.2 818.8,608.9 818.8,660.7 819.2,601.3 819.2,590.0 819.8,581.3 819.8,607.9 820.2,661.4 820.2,586.4 820.8,585.0 820.8,654.7 821.2,628.5 821.2,512.9 821.8,595.4 821.8,629.3 822.2,638.7 822.2,600.8 822.8,562.1 822.8,644.1 823.2,668.5 823.2,564.1 823.8,569.7 823.8,624.4 824.2,630.5 824.2,590.7 824.8,616.8 824.8,629.5 825.2,736.5 825.2,613.7 825.8,605.1 825.8,639.2 826.2,638.6 826.2,579.1 826.8,605.7 826.8,643.0 827.2,617.8 827.2,526.1 827.8,588.0 827.8,653.7 828.2,674.3 828.2,529.5 828.8,594.4 828.8,634.3 829.2,624.5 829.2,597.8 829.8,561.1 829.8,630.9 830.2,626.0 830.2,572.5 830.8,596.3 830.8,687.3 831.2,611.2 831.2,596.7 831.8,591.6 831.8,602.3 832.2,630.6 832.2,568.5 832.8,570.5 832.8,622.4 833.2,645.7 833.2,552.8 833.8,564.5 833.8,666.7 834.2,688.3 834.2,576.4 834.8,571.4 834.8,626.7 835.2,644.3 835.2,583.5 835.8,598.2 835.8,635.0 836.2,637.1 836.2,615.8 836.8,547.7 836.8,615.4 837.2,658.4 837.2,582.8 837.8,513.9 837.8,624.2 838.2,646.4 838.2,599.6 838.8,530.1 838.8,641.8 839.2,629.9 839.2,587.9 839.8,596.8 839.8,634.2 840.2,668.0 840.2,597.1 840.8,617.1 840.8,660.0 841.2,642.5 841.2,595.0 841.8,555.4 841.8,626.2 842.2,650.0 842.2,563.3 842.8,597.9 842.8,618.4 843.2,654.7 843.2,565.2 843.8,574.2 843.8,656.1 844.2,680.3 844.2,579.8 844.8,545.5 844.8,622.5 845.2,647.5 845.2,550.2 845.8,577.1 845.8,595.6 846.2,647.4 846.2,585.2 846.8,592.3 846.8,606.7 847.2,667.6 847.2,578.1 847.8,569.8 847.8,635.8 848.2,624.8 848.2,580.0 848.8,609.4 848.8,636.4 849.2,624.1 849.2,580.4 849.8,603.4 849.8,633.5 850.2,623.4 850.2,617.7 850.8,567.6 850.8,643.4 851.2,649.7 851.2,590.7 851.8,546.5 851.8,636.7 852.2,649.1 852.2,630.0 852.8,572.9 852.8,607.5 853.2,677.2 853.2,576.9 853.8,593.8 853.8,635.4 854.2,585.1 854.2,560.6 854.8,575.0 854.8,650.1 855.2,608.3 855.2,576.0 855.8,581.1 855.8,626.3 856.2,620.7 856.2,510.6 856.8,605.0 856.8,613.2 857.2,630.8 857.2,532.7 857.8,594.3 857.8,680.9 858.2,612.2 858.2,569.4 858.8,544.9 858.8,612.6 859.2,590.9 859.2,562.8 859.8,597.4 859.8,635.5 860.2,610.9 860.2,582.7 860.8,607.5 860.8,634.2 861.2,693.8 861.2,553.6 861.8,524.2 861.8,634.2 862.2,624.8 862.2,579.2 862.8,605.8 862.8,659.9 863.2,659.9 863.2,592.4 863.8,581.9 863.8,618.3 864.2,619.7 864.2,576.7 864.8,575.7 864.8,627.8 865.2,651.2 865.2,597.3 865.8,546.2 865.8,580.5 866.2,623.6 866.2,599.6 866.8,579.8 866.8,655.7 867.2,649.3 867.2,585.5 867.8,608.3 867.8,637.4 868.2,667.4 868.2,609.6 868.8,620.5 868.8,636.1 869.2,639.7 869.2,587.1 869.8,591.9 869.8,648.8 870.2,622.8 870.2,581.3 870.8,606.6 870.8,678.6 871.2,629.0 871.2,611.8 871.8,590.7 871.8,637.2 872.2,644.5 872.2,544.8 872.8,570.6 872.8,582.2 873.2,633.8 873.2,599.9 873.8,566.8 873.8,677.3 874.2,625.7 874.2,567.9 874.8,575.7 874.8,620.3 875.2,639.2 875.2,615.9 875.8,594.1 875.8,648.0 876.2,642.1 876.2,569.5 876.8,591.7 876.8,605.9 877.2,614.1 877.2,582.2 877.8,571.4 877.8,599.7 878.2,644.4 878.2,521.8 878.8,604.2 878.8,651.4 879.2,641.6 879.2,608.8 879.8,619.5 879.8,659.9 880.2,634.1 880.2,596.5 880.8,567.0 880.8,669.3 881.2,656.8 881.2,580.8 881.8,583.9 881.8,655.7 882.2,614.4 882.2,549.8 882.8,597.2 882.8,664.5 883.2,617.6 883.2,513.9 883.8,580.6 883.8,640.8 884.2,668.8 884.2,587.9 884.8,587.6 884.8,639.4 885.2,614.1 885.2,581.3 885.8,575.9 885.8,612.5 886.2,675.5 886.2,589.4 886.8,598.7 886.8,620.1 887.2,632.1 887.2,538.5 887.8,591.1 887.8,616.1 888.2,582.3 888.2,554.3 888.8,588.5 888.8,622.7 889.2,616.0 889.2,586.0 889.8,556.2 889.8,632.4 890.2,680.9 890.2,589.4 890.8,566.7 890.8,627.0 891.2,628.3 891.2,618.6 891.8,575.0 891.8,619.3 892.2,651.3 892.2,598.3 892.8,617.3 892.8,678.2 893.2,678.6 893.2,611.9 893.8,616.5 893.8,645.3 894.2,617.2 894.2,515.7 894.8,542.6 894.8,629.0 895.2,620.6 895.2,615.0 895.8,580.3 895.8,662.7 896.2,610.6 896.2,600.3 896.8,589.5 896.8,597.3 897.2,690.6 897.2,596.9 897.8,591.9 897.8,642.3 898.2,620.6 898.2,546.1 898.8,590.6 898.8,642.8 899.2,606.0 899.2,601.8 899.8,515.7 899.8,614.5 900.2,624.3 900.2,575.9 900.8,611.5 900.8,651.8 901.2,633.0 901.2,587.8 901.8,593.8 901.8,608.9 902.2,665.8 902.2,598.1 902.8,604.0 902.8,642.2 903.2,704.5 903.2,545.3 903.8,602.2 903.8,623.3 904.2,632.8 904.2,602.1 904.8,602.3 904.8,648.4 905.2,638.7 905.2,596.0 905.8,596.1 905.8,688.3 906.2,672.7 906.2,570.1 906.8,585.6 906.8,614.1 907.2,628.9 907.2,548.2 907.8,601.1 907.8,617.9 908.2,649.7 908.2,562.8 908.8,577.6 908.8,697.0 909.2,629.9 909.2,603.1 909.8,574.2 909.8,638.0 910.2,611.7 910.2,584.5 910.8,576.0 910.8,644.4 911.2,584.9 911.2,583.4 911.8,570.1 911.8,633.2 912.2,633.3 912.2,609.8 912.8,595.4 912.8,639.5 913.2,617.2 913.2,564.0 913.8,615.7 913.8,633.5 914.2,704.4 914.2,634.6 914.8,592.7 914.8,647.1 915.2,617.8 915.2,532.6 915.8,578.8 915.8,636.3 916.2,643.0 916.2,597.4 916.8,628.8 916.8,659.3 917.2,625.0 917.2,586.0 917.8,574.1 917.8,601.2 918.2,614.9 918.2,603.3 918.8,594.2 918.8,610.5 919.2,647.6 919.2,613.1 919.8,598.3 919.8,612.2 920.2,624.2 920.2,568.3 920.8,567.7 920.8,628.0 921.2,638.1 921.2,598.9 921.8,597.3 921.8,648.2 922.2,605.2 922.2,580.0 922.8,573.1 922.8,672.1 923.2,657.0 923.2,573.8 923.8,604.2 923.8,679.5 924.2,660.6 924.2,541.8 924.8,603.1 924.8,616.0 925.2,621.9 925.2,582.9 925.8,569.9 925.8,587.7 926.2,616.0 926.2,605.1 926.8,616.8 926.8,624.1 927.2,640.0 927.2,588.0 927.8,582.5 927.8,611.9 928.2,612.2 928.2,559.3 928.8,607.9 928.8,612.2 929.2,631.2 929.2,611.4 929.8,560.8 929.8,605.6 930.2,666.4 930.2,594.6 930.8,600.8 930.8,628.4 931.2,609.5 931.2,575.5 931.8,565.6 931.8,587.6 932.2,647.8 932.2,607.1 932.8,594.9 932.8,621.0 933.2,638.1 933.2,600.4 933.8,589.3 933.8,643.4 934.2,612.1 934.2,588.1 934.8,579.3 934.8,634.4 935.2,630.2 935.2,595.4 935.8,604.0 935.8,636.0 936.2,572.8 936.2,564.9 936.8,608.9 936.8,693.2 937.2,682.9 937.2,582.8 937.8,591.8 937.8,632.5 938.2,642.4 938.2,605.9 938.8,634.7 938.8,658.9 939.2,624.1 939.2,570.2 939.8,590.5 939.8,623.1 940.2,652.3 940.2,622.5 940.8,595.5 940.8,722.8 941.2,633.1 941.2,585.6 941.8,571.6 941.8,655.5 942.2,747.1 942.2,583.6 942.8,582.3 942.8,597.2 943.2,639.2 943.2,560.5 943.8,568.7 943.8,637.3 944.2,607.6 944.2,599.7 944.8,598.4 944.8,634.8 945.2,613.8 945.2,564.1 945.8,588.0 945.8,642.9 946.2,655.5 946.2,544.1 946.8,545.0 946.8,617.3 947.2,621.6 947.2,584.5 947.8,599.0 947.8,693.7 948.2,627.6 948.2,566.0 948.8,572.4 948.8,658.1 949.2,620.5 949.2,580.2 949.8,573.6 949.8,645.8 950.2,646.1 950.2,598.4 950.8,587.3 950.8,632.1 951.2,669.4 951.2,596.6 951.8,578.2 951.8,632.9 952.2,664.3 952.2,535.9 952.8,641.4 952.8,672.0 953.2,626.2 953.2,577.4 953.8,564.5 953.8,642.1 954.2,631.1 954.2,598.2 954.8,597.8 954.8,625.9 955.2,654.7 955.2,582.3 955.8,594.7 955.8,649.9 956.2,624.5 956.2,579.7 956.8,556.9 956.8,653.3 957.2,619.6 957.2,546.7 957.8,536.7 957.8,618.0 958.2,635.2 958.2,604.8 958.8,597.8 958.8,627.9 959.2,690.6 959.2,603.8 959.8,562.6 959.8,636.5 960.2,660.7 960.2,610.8 960.8,588.4 960.8,676.3 961.2,655.5 961.2,572.2 961.8,589.1 961.8,615.8 962.2,684.1 962.2,550.1 962.8,601.3 962.8,630.0 963.2,632.4 963.2,605.7 963.8,569.8 963.8,612.0 964.2,667.2 964.2,601.1 964.8,563.2 964.8,677.6 965.2,626.5 965.2,551.9 965.8,605.2 965.8,651.4 966.2,682.4 966.2,586.3 966.8,605.4 966.8,626.3 967.2,612.3 967.2,593.3 967.8,588.0 967.8,632.3 968.2,636.0 968.2,597.6 968.8,582.7 968.8,657.5 969.2,645.0 969.2,584.6 969.8,591.9 969.8,608.7 970.2,650.0 970.2,610.2 970.8,586.0 970.8,647.5 971.2,623.6 971.2,596.7 971.8,601.3 971.8,624.6 972.2,649.0 972.2,557.4 972.8,562.7 972.8,624.4 973.2,644.1 973.2,603.1 973.8,591.8 973.8,695.9 974.2,642.4 974.2,570.3 974.8,584.6 974.8,637.3 975.2,652.3 975.2,581.9 975.8,593.9 975.8,658.3 976.2,612.4 976.2,575.5 976.8,589.8 976.8,634.6 977.2,732.4 977.2,586.3 977.8,565.5 977.8,635.3 978.2,691.1 978.2,588.7 978.8,599.5 978.8,616.1 979.2,631.2 979.2,538.2 979.8,602.7 979.8,672.3 980.2,630.3 980.2,578.0 980.8,549.9 980.8,619.5 981.2,624.3 981.2,592.2 981.8,592.6 981.8,642.7 982.2,658.1 982.2,601.0 982.8,555.5 982.8,637.6 983.2,612.5 983.2,580.7 983.8,588.8 983.8,648.0 984.2,617.9 984.2,592.2 984.8,603.7 984.8,658.2 985.2,610.1 985.2,593.4 985.8,644.6 985.8,740.0 986.2,605.1 986.2,568.3 986.8,613.5 986.8,659.1 987.2,621.4 987.2,566.3 987.8,559.4 987.8,623.1 988.2,689.9 988.2,595.9 988.8,551.5 988.8,677.7 989.2,668.3 989.2,577.0 989.8,585.5 989.8,613.6 990.2,615.1 990.2,594.6 990.8,526.5 990.8,665.3 991.2,665.7 991.2,596.3 991.8,600.4 991.8,685.9 992.2,622.9 992.2,585.2 992.8,568.5 992.8,602.3 993.2,618.0 993.2,576.3 993.8,558.7 993.8,687.9 994.2,629.3 994.2,543.8 994.8,586.8 994.8,646.1 995.2,679.4 995.2,623.6 995.8,585.4 995.8,624.3 996.2,637.5 996.2,567.7 996.8,597.2 996.8,636.1 997.2,617.7 997.2,535.8 997.8,550.5 997.8,590.4 998.2,637.0 998.2,606.8 998.8,566.8 998.8,615.7 999.2,631.5 999.2,596.7 999.8,568.8 999.8,642.0 1000.2,650.3 1000.2,614.7 1000.8,559.6 1000.8,646.9 1001.2,647.4 1001.2,605.5 1001.8,555.1 1001.8,640.3 1002.2,638.2 1002.2,589.9 1002.8,601.1 1002.8,614.6 1003.2,668.3 1003.2,570.0 1003.8,621.8 1003.8,681.4 1004.2,689.5 1004.2,598.7 1004.8,592.8 1004.8,633.7 1005.2,633.9 1005.2,615.6 1005.8,570.1 1005.8,610.9 1006.2,625.0 1006.2,557.7 1006.8,613.0 1006.8,666.2 1007.2,688.3 1007.2,602.4 1007.8,611.2 1007.8,626.3 1008.2,628.3 1008.2,613.0 1008.8,567.6 1008.8,641.7 1009.2,737.8 1009.2,538.2 1009.8,599.8 1009.8,656.6 1010.2,627.2 1010.2,559.6 1010.8,605.8 1010.8,615.5 1011.2,662.8 1011.2,572.1 1011.8,549.0 1011.8,639.1 1012.2,633.5 1012.2,592.4 1012.8,595.8 1012.8,676.0 1013.2,669.5 1013.2,565.5 1013.8,595.3 1013.8,643.4 1014.2,650.6 1014.2,549.9 1014.8,589.8 1014.8,616.3 1015.2,645.2 1015.2,599.6 1015.8,597.3 1015.8,709.3 1016.2,607.2 1016.2,582.2 1016.8,565.0 1016.8,603.6 1017.2,631.5 1017.2,599.4 1017.8,574.2 1017.8,655.2 1018.2,637.3 1018.2,593.1 1018.8,595.5 1018.8,624.0 1019.2,623.5 1019.2,569.1 1019.8,585.3 1019.8,621.0 1020.2,611.7 1020.2,592.7 1020.8,585.9 1020.8,664.4 1021.2,624.0 1021.2,586.1 1021.8,579.8 1021.8,610.9 1022.2,613.5 1022.2,561.1 1022.8,573.4 1022.8,624.0 1023.2,641.6 1023.2,564.4 1023.8,560.6 1023.8,596.3 1024.2,708.6 1024.2,593.5 1024.8,590.2 1024.8,677.5 1025.2,646.3 1025.2,594.0 1025.8,583.1 1025.8,611.7 1026.2,612.3 1026.2,571.9 1026.8,587.6 1026.8,738.1 1027.2,639.8 1027.2,578.7 1027.8,563.7 1027.8,620.1 1028.2,635.2 1028.2,573.9 1028.8,555.6 1028.8,614.5 1029.2,617.0 1029.2,594.6 1029.8,586.2 1029.8,613.3 1030.2,626.8 1030.2,568.1 1030.8,603.1 1030.8,617.3 1031.2,647.4 1031.2,613.2 1031.8,594.3 1031.8,641.0 1032.2,628.2 1032.2,584.3 1032.8,604.3 1032.8,630.7 1033.2,631.8 1033.2,553.3 1033.8,592.7 1033.8,645.8 1034.2,618.4 1034.2,570.7 1034.8,527.4 1034.8,622.0 1035.2,613.8 1035.2,563.6 1035.8,605.2 1035.8,623.3 1036.2,614.1 1036.2,561.5 1036.8,595.4 1036.8,674.9 1037.2,612.5 1037.2,574.8 1037.8,575.5 1037.8,623.3 1038.2,656.9 1038.2,601.9 1038.8,571.2 1038.8,600.3 1039.2,665.5 1039.2,591.7 1039.8,598.4 1039.8,639.4 1040.2,611.1 1040.2,590.0 1040.8,601.7 1040.8,686.2 1041.2,641.2 1041.2,624.2 1041.8,584.8 1041.8,628.8 1042.2,616.1 1042.2,584.1 1042.8,583.9 1042.8,614.9 1043.2,617.5 1043.2,597.5 1043.8,602.8 1043.8,618.0 1044.2,622.8 1044.2,588.6 1044.8,587.2 1044.8,602.3 1045.2,599.3 1045.2,597.3 1045.8,576.3 1045.8,623.3 1046.2,589.9 1046.2,535.8 1046.8,596.1 1046.8,660.5 1047.2,648.8 1047.2,596.7 1047.8,568.2 1047.8,623.7 1048.2,642.6 1048.2,535.5 1048.8,576.2 1048.8,585.5 1049.2,626.1 1049.2,603.3 1049.8,592.8 1049.8,696.9 1050.2,614.9 1050.2,577.7 1050.8,529.5 1050.8,635.9 1051.2,678.0 1051.2,581.3 1051.8,562.2 1051.8,607.3 1052.2,627.5 1052.2,603.0 1052.8,585.2 1052.8,644.0 1053.2,621.8 1053.2,575.8 1053.8,587.8 1053.8,639.0 1054.2,660.0 1054.2,568.1 1054.8,604.5 1054.8,650.4 1055.2,655.4 1055.2,588.3 1055.8,586.1 1055.8,650.2 1056.2,636.5 1056.2,587.5 1056.8,573.9 1056.8,628.4 1057.2,677.1 1057.2,593.5 1057.8,539.6 1057.8,625.0 1058.2,717.9 1058.2,559.8 1058.8,617.0 1058.8,669.3 1059.2,655.3 1059.2,598.7 1059.8,587.3 1059.8,653.1 1060.2,616.9 1060.2,589.5 1060.8,579.7 1060.8,662.0 1061.2,658.9 1061.2,581.4 1061.8,560.2 1061.8,601.9 1062.2,627.8 1062.2,610.5 1062.8,577.9 1062.8,639.1 1063.2,650.2 1063.2,594.8 1063.8,589.8 1063.8,634.4 1064.2,661.0 1064.2,556.7 1064.8,588.7 1064.8,664.6 1065.2,747.1 1065.2,580.2 1065.8,615.2 1065.8,630.5 1066.2,604.3 1066.2,591.5 1066.8,610.8 1066.8,633.6 1067.2,608.4 1067.2,550.4 1067.8,588.0 1067.8,611.5 1068.2,625.4 1068.2,585.5 1068.8,585.4 1068.8,602.1 1069.2,649.2 1069.2,538.5 1069.8,578.5 1069.8,677.8 1070.2,648.4 1070.2,600.4 1070.8,582.2 1070.8,660.4 1071.2,628.6 1071.2,577.7 1071.8,608.6 1071.8,629.9 1072.2,682.5 1072.2,574.4 1072.8,577.6 1072.8,621.4 1073.2,714.3 1073.2,571.4 1073.8,587.2 1073.8,645.0 1074.2,642.4 1074.2,589.4 1074.8,592.3 1074.8,600.7 1075.2,639.0 1075.2,580.2 1075.8,568.8 1075.8,634.1 1076.2,623.9 1076.2,593.2 1076.8,589.6 1076.8,623.2 1077.2,623.9 1077.2,594.5 1077.8,553.8 1077.8,605.6 1078.2,662.5 1078.2,616.4 1078.8,592.9 1078.8,629.1 1079.2,627.1 1079.2,585.0 1079.8,601.7 1079.8,610.9 1080.2,593.0 1080.2,579.1 1080.8,600.5 1080.8,618.3 1081.2,618.0 1081.2,603.4 1081.8,579.0 1081.8,596.8 1082.2,666.4 1082.2,635.8 1082.8,574.9 1082.8,624.6 1083.2,614.2 1083.2,582.5 1083.8,564.0 1083.8,649.4 1084.2,740.9 1084.2,580.4 1084.8,603.2 1084.8,624.7 1085.2,660.5 1085.2,588.9 1085.8,585.5 1085.8,628.5 1086.2,643.5 1086.2,574.1 1086.8,581.0 1086.8,648.0 1087.2,647.7 1087.2,580.6 1087.8,587.3 1087.8,630.6 1088.2,626.2 1088.2,599.5 1088.8,582.9 1088.8,614.1 1089.2,629.8 1089.2,599.8 1089.8,574.5 1089.8,622.6 1090.2,637.6 1090.2,575.8 1090.8,600.1 1090.8,669.8 1091.2,645.2 1091.2,583.2 1091.8,610.2 1091.8,648.3 1092.2,643.0 1092.2,577.0 1092.8,597.1 1092.8,613.1 1093.2,621.6 1093.2,559.5 1093.8,572.4 1093.8,607.9 1094.2,646.1 1094.2,580.5 1094.8,652.4 1094.8,697.2 1095.2,672.9 1095.2,602.8 1095.8,557.1 1095.8,610.6 1096.2,632.7 1096.2,560.3 1096.8,562.8 1096.8,592.9 1097.2,630.9 1097.2,572.9 1097.8,604.0 1097.8,656.6 1098.2,641.2 1098.2,621.2 1098.8,563.7 1098.8,634.4 1099.2,659.2 1099.2,578.8 1099.8,595.9 1099.8,630.2 1100.2,638.9 1100.2,596.0 1100.8,586.6 1100.8,633.6 1101.2,603.2 1101.2,571.6 1101.8,614.7 1101.8,637.0 1102.2,622.7 1102.2,568.3 1102.8,613.0 1102.8,649.2 1103.2,691.4 1103.2,588.0 1103.8,621.7 1103.8,651.2 1104.2,674.4 1104.2,591.5 1104.8,578.9 1104.8,634.4 1105.2,645.4 1105.2,542.2 1105.8,587.1 1105.8,694.7 1106.2,610.8 1106.2,592.2 1106.8,576.0 1106.8,599.7 1107.2,671.1 1107.2,589.6 1107.8,596.8 1107.8,661.3 1108.2,678.3 1108.2,564.2 1108.8,576.6 1108.8,629.4 1109.2,618.6 1109.2,569.3 1109.8,595.6 1109.8,654.0 1110.2,603.0 1110.2,585.3 1110.8,582.3 1110.8,613.2 1111.2,625.2 1111.2,610.4 1111.8,590.2 1111.8,657.0 1112.2,642.2 1112.2,612.0 1112.8,631.6 1112.8,645.1 1113.2,677.8 1113.2,534.0 1113.8,574.9 1113.8,611.9 1114.2,604.9 1114.2,562.1 1114.8,619.0 1114.8,678.0 1115.2,650.1 1115.2,577.6 1115.8,582.6 1115.8,618.7 1116.2,590.1 1116.2,563.1 1116.8,590.6 1116.8,617.9 1117.2,747.1 1117.2,571.9 1117.8,560.2 1117.8,621.5 1118.2,618.8 1118.2,583.9 1118.8,583.4 1118.8,626.2 1119.2,619.8 1119.2,578.3 1119.8,586.8 1119.8,619.5 1120.2,639.5 1120.2,561.4 1120.8,605.3 1120.8,629.8 1121.2,646.8 1121.2,556.8 1121.8,571.0 1121.8,611.6 1122.2,671.6 1122.2,619.1 1122.8,612.5 1122.8,632.5 1123.2,623.5 1123.2,569.6 1123.8,581.2 1123.8,613.0 1124.2,629.9 1124.2,595.6 1124.8,575.5 1124.8,649.7 1125.2,626.1 1125.2,573.6 1125.8,587.3 1125.8,635.7 1126.2,659.3 1126.2,595.6 1126.8,582.9 1126.8,606.2 1127.2,654.2 1127.2,628.3 1127.8,559.6 1127.8,654.4 1128.2,602.8 1128.2,550.7 1128.8,573.7 1128.8,618.1 1129.2,643.5 1129.2,577.1 1129.8,556.5 1129.8,620.4 1130.2,668.3 1130.2,590.9 1130.8,584.9 1130.8,624.5 1131.2,617.5 1131.2,578.1 1131.8,599.6 1131.8,633.5 1132.2,640.5 1132.2,625.1 1132.8,624.4 1132.8,646.0 1133.2,633.1 1133.2,598.6 1133.8,570.6 1133.8,638.5 1134.2,635.7 1134.2,607.2 1134.8,622.7 1134.8,649.4 1135.2,634.3 1135.2,589.5 1135.8,603.4 1135.8,649.6 1136.2,634.5 1136.2,618.8 1136.8,591.1 1136.8,630.0 1137.2,632.0 1137.2,553.4 1137.8,567.7 1137.8,639.6 1138.2,642.9 1138.2,595.1 1138.8,593.4 1138.8,665.9 1139.2,679.6 1139.2,593.7 1139.8,578.5 1139.8,633.2 1140.2,661.8 1140.2,600.2 1140.8,567.5 1140.8,606.6 1141.2,637.6 1141.2,607.5 1141.8,532.9 1141.8,618.4 1142.2,614.0 1142.2,559.0 1142.8,575.6 1142.8,635.8 1143.2,659.0 1143.2,555.9 1143.8,591.0 1143.8,641.4 1144.2,622.5 1144.2,590.3 1144.8,630.6 1144.8,654.0 1145.2,637.3 1145.2,610.6 1145.8,574.8 1145.8,638.5 1146.2,608.0 1146.2,593.1 1146.8,564.4 1146.8,623.9 1147.2,643.3 1147.2,596.6 1147.8,588.2 1147.8,618.2 1148.2,633.6 1148.2,599.8 1148.8,592.8 1148.8,610.5 1149.2,640.4 1149.2,587.5 1149.8,590.1 1149.8,616.6 1150.2,620.1 1150.2,570.9 1150.8,574.5 1150.8,685.9 1151.2,653.7 1151.2,565.5 1151.8,584.8 1151.8,652.9 1152.2,652.5 1152.2,592.8 1152.8,586.5 1152.8,640.1 1153.2,689.2 1153.2,641.6 1153.8,595.9 1153.8,670.1 1154.2,671.1 1154.2,566.7 1154.8,611.4 1154.8,636.3 1155.2,635.8 1155.2,581.4 1155.8,624.9 1155.8,685.5 1156.2,628.5 1156.2,590.2 1156.8,585.2 1156.8,643.3 1157.2,640.4 1157.2,618.3 1157.8,547.0 1157.8,634.3 1158.2,637.1 1158.2,574.5 1158.8,608.3 1158.8,672.4 1159.2,617.4 1159.2,596.8 1159.8,593.6 1159.8,631.2 1160.2,685.4 1160.2,594.7 1160.8,575.6 1160.8,649.2 1161.2,695.3 1161.2,574.8 1161.8,594.3 1161.8,643.8 1162.2,641.2 1162.2,587.0 1162.8,568.1 1162.8,620.7 1163.2,595.3 1163.2,587.6 1163.8,621.7 1163.8,643.7 1164.2,623.5 1164.2,605.4 1164.8,561.8 1164.8,619.4 1165.2,710.8 1165.2,620.6 1165.8,565.6 1165.8,644.6 1166.2,638.6 1166.2,619.8 1166.8,589.4 1166.8,644.1 1167.2,599.2 1167.2,572.8 1167.8,592.9 1167.8,633.8 1168.2,662.7 1168.2,612.3 1168.8,590.2 1168.8,650.1 1169.2,621.0 1169.2,571.3 1169.8,585.6 1169.8,666.6 1170.2,647.5 1170.2,587.2 1170.8,572.8 1170.8,616.3 1171.2,675.6 1171.2,600.6 1171.8,564.7 1171.8,584.7 1172.2,639.9 1172.2,597.2 1172.8,597.2 1172.8,637.2 1173.2,636.4 1173.2,612.2 1173.8,540.5 1173.8,606.9 1174.2,679.5 1174.2,574.9 1174.8,562.9 1174.8,623.9 1175.2,673.8 1175.2,595.5 1175.8,555.9 1175.8,630.3 1176.2,661.8 1176.2,625.4 1176.8,597.8 1176.8,653.1 1177.2,669.1 1177.2,583.4 1177.8,597.6 1177.8,657.3 1178.2,617.8 1178.2,550.3 1178.8,565.8 1178.8,662.5 1179.2,606.0 1179.2,597.1 1179.8,598.8 1179.8,631.0 1180.2,658.5 1180.2,568.3 1180.8,561.3 1180.8,647.0 1181.2,685.5 1181.2,573.1 1181.8,591.4 1181.8,615.8 1182.2,711.4 1182.2,608.4 1182.8,594.8 1182.8,665.7 1183.2,634.6 1183.2,600.6 1183.8,590.7 1183.8,625.1 1184.2,628.4 1184.2,585.9 1184.8,591.8 1184.8,645.0 1185.2,615.4 1185.2,587.4 1185.8,581.5 1185.8,605.6 1186.2,620.2 1186.2,592.6 1186.8,590.5 1186.8,622.1 1187.2,620.5 1187.2,570.6 1187.8,606.0 1187.8,639.3 1188.2,622.1 1188.2,602.1 1188.8,591.0 1188.8,631.4 1189.2,621.3 1189.2,606.3 1189.8,627.5 1189.8,693.3 1190.2,614.3 1190.2,595.7 1190.8,602.7 1190.8,609.9 1191.2,625.6 1191.2,581.6 1191.8,601.4 1191.8,719.0 1192.2,647.8 1192.2,534.5 1192.8,577.6 1192.8,649.7 1193.2,708.7 1193.2,607.1 1193.8,605.4 1193.8,698.9 1194.2,587.5 1194.2,573.4 1194.8,604.0 1194.8,668.3 1195.2,632.2 1195.2,571.6 1195.8,587.3 1195.8,605.0 1196.2,670.4 1196.2,622.3 1196.8,577.5 1196.8,628.0 1197.2,659.6 1197.2,597.1 1197.8,585.2 1197.8,668.0 1198.2,674.3 1198.2,616.4 1198.8,564.0 1198.8,636.4 1199.2,615.7 1199.2,585.9 1199.8,546.8 1199.8,636.0 1200.2,601.5 1200.2,587.6 1200.8,592.8 1200.8,608.7 1201.2,622.2 1201.2,555.4 1201.8,571.0 1201.8,601.3 1202.2,689.9 1202.2,580.1 1202.8,602.2 1202.8,645.0 1203.2,636.0 1203.2,622.4 1203.8,570.8 1203.8,606.9 1204.2,690.4 1204.2,612.9 1204.8,606.3 1204.8,617.5 1205.2,657.1 1205.2,586.8 1205.8,566.3 1205.8,684.5 1206.2,598.0 1206.2,561.7 1206.8,599.3 1206.8,640.0 1207.2,610.6 1207.2,588.9 1207.8,584.7 1207.8,614.1 1208.2,660.6 1208.2,592.5 1208.8,584.9 1208.8,621.7 1209.2,695.7 1209.2,547.2 1209.8,561.2 1209.8,614.0 1210.2,636.5 1210.2,596.4 1210.8,595.9 1210.8,630.5 1211.2,641.1 1211.2,593.1 1211.8,593.5 1211.8,652.2 1212.2,648.1 1212.2,568.4 1212.8,599.6 1212.8,602.8 1213.2,652.4 1213.2,583.8 1213.8,574.2 1213.8,632.0 1214.2,614.6 1214.2,602.4 1214.8,576.0 1214.8,622.9 1215.2,606.2 1215.2,547.1 1215.8,591.8 1215.8,662.6 1216.2,604.7 1216.2,580.8 1216.8,580.3 1216.8,615.8 1217.2,654.5 1217.2,550.9 1217.8,577.1 1217.8,626.5 1218.2,651.4 1218.2,607.6 1218.8,614.2 1218.8,639.3 1219.2,620.9 1219.2,596.9 1219.8,565.7 1219.8,596.6 1220.2,636.5 1220.2,553.2 1220.8,587.8 1220.8,660.7 1221.2,617.5 1221.2,574.3 1221.8,536.2 1221.8,638.3 1222.2,645.2 1222.2,592.4 1222.8,601.7 1222.8,622.9 1223.2,657.6 1223.2,607.6 1223.8,604.2 1223.8,635.4 1224.2,609.8 1224.2,544.4 1224.8,605.2 1224.8,632.5 1225.2,641.4 1225.2,584.6 1225.8,589.3 1225.8,647.5 1226.2,652.9 1226.2,609.1 1226.8,581.8 1226.8,674.8 1227.2,678.5 1227.2,607.3 1227.8,596.1 1227.8,744.5 1228.2,675.4 1228.2,608.3 1228.8,580.7 1228.8,659.0 1229.2,615.9 1229.2,580.3 1229.8,580.8 1229.8,625.7 1230.2,646.8 1230.2,622.2 1230.8,585.3 1230.8,633.8 1231.2,613.6 1231.2,595.0 1231.8,590.8 1231.8,624.3 1232.2,673.7 1232.2,607.3 1232.8,615.0 1232.8,681.6 1233.2,715.4 1233.2,632.2 1233.8,571.7 1233.8,610.0 1234.2,627.6 1234.2,616.7 1234.8,575.6 1234.8,644.9 1235.2,615.9 1235.2,583.5 1235.8,597.6 1235.8,650.3 1236.2,637.0 1236.2,582.5 1236.8,558.5 1236.8,637.9 1237.2,615.7 1237.2,543.0 1237.8,585.7 1237.8,627.0 1238.2,726.3 1238.2,587.4 1238.8,588.3 1238.8,623.5 1239.2,610.7 1239.2,578.9 1239.8,598.8 1239.8,632.2 1240.2,617.6 1240.2,564.1 1240.8,592.2 1240.8,621.6 1241.2,619.6 1241.2,605.1 1241.8,587.1 1241.8,708.0 1242.2,629.2 1242.2,619.9 1242.8,602.5 1242.8,644.2 1243.2,735.0 1243.2,594.7 1243.8,592.6 1243.8,602.1 1244.2,591.2 1244.2,562.9 1244.8,564.4 1244.8,665.3 1245.2,607.1 1245.2,561.6 1245.8,534.9 1245.8,642.5 1246.2,602.7 1246.2,565.8 1246.8,585.6 1246.8,627.0 1247.2,663.8 1247.2,623.4 1247.8,592.3 1247.8,637.5 1248.2,659.6 1248.2,540.9 1248.8,583.2 1248.8,643.6 1249.2,636.5 1249.2,600.3 1249.8,619.6 1249.8,646.7 1250.2,617.1 1250.2,595.5 1250.8,581.0 1250.8,709.1 1251.2,631.5 1251.2,604.2 1251.8,596.7 1251.8,618.7 1252.2,610.4 1252.2,590.1 1252.8,595.1 1252.8,653.5 1253.2,630.3 1253.2,576.2 1253.8,629.8 1253.8,634.2 1254.2,616.0 1254.2,584.1 1254.8,611.9 1254.8,653.4 1255.2,622.0 1255.2,584.3 1255.8,566.0 1255.8,629.8 1256.2,612.7 1256.2,577.7 1256.8,605.1 1256.8,611.3 1257.2,649.5 1257.2,617.3 1257.8,602.0 1257.8,625.1 1258.2,659.3 1258.2,600.3 1258.8,582.8 1258.8,670.5 1259.2,633.0 1259.2,590.0 1259.8,585.8 1259.8,598.1 1260.2,639.9 1260.2,583.8 1260.8,581.4 1260.8,685.2 1261.2,613.0 1261.2,557.4 1261.8,568.1 1261.8,601.7 1262.2,646.3 1262.2,557.6 1262.8,611.8 1262.8,680.3 1263.2,654.5 1263.2,592.2 1263.8,568.6 1263.8,613.6 1264.2,683.0 1264.2,573.7 1264.8,571.8 1264.8,657.4 1265.2,640.5 1265.2,584.1 1265.8,605.7 1265.8,650.9 1266.2,638.9 1266.2,573.4 1266.8,597.7 1266.8,621.6 1267.2,675.9 1267.2,538.5 1267.8,598.0 1267.8,604.2 1268.2,594.7 1268.2,565.0 1268.8,575.2 1268.8,605.9 1269.2,717.7 1269.2,591.3 1269.8,607.6 1269.8,628.6 1270.2,632.7 1270.2,579.1 1270.8,549.8 1270.8,618.6 1271.2,632.0 1271.2,578.0 1271.8,560.6 1271.8,592.3 1272.2,633.8 1272.2,599.2 1272.8,569.7 1272.8,628.0 1273.2,659.9 1273.2,592.7 1273.8,558.4 1273.8,631.3 1274.2,608.4 1274.2,573.2 1274.8,589.9 1274.8,608.0 1275.2,630.1 1275.2,589.3 1275.8,611.3 1275.8,637.4 1276.2,602.3 1276.2,586.4 1276.8,613.4 1276.8,641.8 1277.2,604.8 1277.2,579.6 1277.8,605.0 1277.8,672.6 1278.2,601.4 1278.2,582.4 1278.8,558.1 1278.8,698.6 1279.2,674.6 1279.2,580.5 1279.8,577.4 1279.8,616.1 1280.2,647.7 1280.2,586.6 1280.8,572.4 1280.8,595.5 1281.2,631.6 1281.2,578.0 1281.8,581.9 1281.8,657.9 1282.2,629.2 1282.2,617.0 1282.8,566.7 1282.8,632.2 1283.2,613.7 1283.2,583.8 1283.8,593.6 1283.8,634.0 1284.2,625.5 1284.2,553.0 1284.8,556.6 1284.8,615.7 1285.2,620.0 1285.2,556.1 1285.8,566.4 1285.8,619.9 1286.2,627.0 1286.2,568.7 1286.8,587.9 1286.8,660.2 1287.2,662.2 1287.2,592.6 1287.8,557.6 1287.8,611.9 1288.2,698.1 1288.2,600.9 1288.8,592.8 1288.8,645.2 1289.2,637.0 1289.2,603.7 1289.8,594.0 1289.8,629.5 1290.2,614.6 1290.2,587.3 1290.8,601.6 1290.8,683.7 1291.2,670.3 1291.2,575.0 1291.8,597.4 1291.8,635.2 1292.2,622.9 1292.2,570.9 1292.8,555.8 1292.8,598.5 1293.2,629.0 1293.2,580.8 1293.8,580.2 1293.8,628.9 1294.2,660.5 1294.2,542.3 1294.8,601.7 1294.8,659.3 1295.2,633.8 1295.2,611.8 1295.8,606.1 1295.8,634.1 1296.2,662.2 1296.2,626.9 1296.8,600.4 1296.8,621.1 1297.2,620.1 1297.2,563.7 1297.8,568.2 1297.8,625.8 1298.2,640.4 1298.2,593.2 1298.8,595.2 1298.8,633.5 1299.2,643.2 1299.2,582.9 1299.8,614.4 1299.8,638.3 1300.2,599.2 1300.2,585.9 1300.8,588.8 1300.8,627.4 1301.2,596.6 1301.2,561.6 1301.8,597.8 1301.8,661.4 1302.2,637.7 1302.2,600.4 1302.8,610.7 1302.8,656.2 1303.2,587.8 1303.2,531.4 1303.8,589.2 1303.8,636.7 1304.2,648.7 1304.2,604.6 1304.8,585.8 1304.8,615.7 1305.2,637.1 1305.2,589.7 1305.8,583.9 1305.8,630.5 1306.2,603.6 1306.2,577.2 1306.8,602.8 1306.8,613.2 1307.2,632.5 1307.2,606.9 1307.8,619.6 1307.8,638.4 1308.2,683.9 1308.2,591.5 1308.8,603.2 1308.8,622.3 1309.2,627.1 1309.2,588.9 1309.8,556.6 1309.8,664.2 1310.2,665.1 1310.2,551.8 1310.8,602.6 1310.8,649.2 1311.2,680.6 1311.2,565.6 1311.8,607.0 1311.8,672.1 1312.2,625.4 1312.2,564.8 1312.8,577.3 1312.8,620.1 1313.2,646.3 1313.2,610.2 1313.8,579.0 1313.8,622.1 1314.2,613.0 1314.2,593.8 1314.8,577.9 1314.8,625.4 1315.2,662.5 1315.2,561.4 1315.8,564.5 1315.8,643.8 1316.2,699.1 1316.2,566.0 1316.8,595.1 1316.8,656.7 1317.2,693.4 1317.2,625.2 1317.8,561.4 1317.8,607.0 1318.2,675.2 1318.2,585.7 1318.8,579.0 1318.8,638.5 1319.2,642.8 1319.2,582.2 1319.8,596.0 1319.8,627.1 1320.2,598.9 1320.2,580.2 1320.8,551.2 1320.8,607.6 1321.2,720.4 1321.2,593.4 1321.8,593.0 1321.8,615.7 1322.2,645.7 1322.2,635.0 1322.8,592.4 1322.8,665.1 1323.2,621.1 1323.2,584.2 1323.8,586.2 1323.8,698.1 1324.2,645.3 1324.2,584.6 1324.8,601.7 1324.8,614.4 1325.2,654.2 1325.2,582.7 1325.8,553.2 1325.8,665.7 1326.2,649.7 1326.2,564.0 1326.8,580.2 1326.8,613.9 1327.2,671.8 1327.2,602.1 1327.8,575.7 1327.8,620.3 1328.2,613.2 1328.2,574.7 1328.8,629.6 1328.8,644.9 1329.2,610.2 1329.2,598.4 1329.8,589.4 1329.8,621.1 1330.2,645.4 1330.2,596.5 1330.8,564.6 1330.8,669.2 1331.2,633.9 1331.2,606.9 1331.8,617.4 1331.8,643.0 1332.2,619.9 1332.2,582.6 1332.8,596.1 1332.8,654.2 1333.2,644.8 1333.2,604.7 1333.8,605.0 1333.8,649.9 1334.2,668.1 1334.2,592.4 1334.8,601.5 1334.8,686.0 1335.2,641.0 1335.2,591.7 1335.8,604.0 1335.8,665.1 1336.2,659.6 1336.2,624.3 1336.8,566.0 1336.8,663.7 1337.2,637.6 1337.2,551.9 1337.8,620.3 1337.8,668.9 1338.2,689.0 1338.2,570.8 1338.8,612.1 1338.8,649.5 1339.2,627.7 1339.2,604.4 1339.8,587.4 1339.8,594.6 1340.2,643.5 1340.2,620.2 1340.8,609.7 1340.8,662.9 1341.2,652.7 1341.2,548.3 1341.8,573.0 1341.8,623.4 1342.2,632.5 1342.2,569.0 1342.8,566.4 1342.8,611.3 1343.2,632.6 1343.2,584.1 1343.8,572.7 1343.8,621.2 1344.2,620.8 1344.2,606.2 1344.8,597.3 1344.8,638.4 1345.2,611.5 1345.2,600.6 1345.8,572.7 1345.8,617.3 1346.2,640.8 1346.2,591.2 1346.8,597.3 1346.8,646.9 1347.2,713.5 1347.2,585.1 1347.8,584.3 1347.8,626.5 1348.2,627.7 1348.2,575.5 1348.8,628.1 1348.8,685.1 1349.2,641.3 1349.2,599.4 1349.8,592.6 1349.8,613.6 1350.2,614.5 1350.2,587.9 1350.8,574.6 1350.8,653.2 1351.2,622.9 1351.2,591.5 1351.8,591.5 1351.8,658.2 1352.2,624.8 1352.2,552.6 1352.8,589.1 1352.8,665.4 1353.2,671.8 1353.2,569.1 1353.8,591.2 1353.8,689.4 1354.2,659.9 1354.2,565.6 1354.8,609.2 1354.8,613.0 1355.2,668.9 1355.2,601.9 1355.8,596.0 1355.8,608.0 1356.2,642.8 1356.2,589.4 1356.8,614.2 1356.8,694.8 1357.2,612.2 1357.2,580.9 1357.8,574.3 1357.8,615.1 1358.2,615.0 1358.2,563.7 1358.8,531.6 1358.8,613.9 1359.2,624.5 1359.2,591.2 1359.8,631.9 1359.8,677.7 1360.2,620.6 1360.2,592.1 1360.8,591.2 1360.8,655.3 1361.2,604.2 1361.2,574.5 1361.8,608.5 1361.8,652.5 1362.2,641.3 1362.2,602.7 1362.8,562.2 1362.8,650.8 1363.2,594.4 1363.2,575.0 1363.8,595.2 1363.8,672.9 1364.2,635.9 1364.2,590.8 1364.8,585.6 1364.8,671.1 1365.2,624.2 1365.2,564.9 1365.8,584.1 1365.8,653.0 1366.2,673.5 1366.2,561.9 1366.8,578.2 1366.8,636.1 1367.2,601.2 1367.2,585.4 1367.8,546.3 1367.8,593.7 1368.2,585.2 1368.2,549.6 1368.8,600.6 1368.8,643.8 1369.2,613.7 1369.2,598.2 1369.8,596.0 1369.8,715.2 1370.2,675.6 1370.2,625.5 1370.8,550.0 1370.8,639.5 1371.2,617.7 1371.2,603.2 1371.8,609.4 1371.8,657.7 1372.2,638.6 1372.2,578.5 1372.8,583.3 1372.8,643.8 1373.2,633.0 1373.2,598.5 1373.8,607.7 1373.8,616.2 1374.2,688.0 1374.2,628.3 1374.8,537.8 1374.8,671.5 1375.2,603.3 1375.2,564.6 1375.8,608.4 1375.8,628.4 1376.2,616.7 1376.2,563.6 1376.8,611.7 1376.8,650.2 1377.2,645.0 1377.2,621.1 1377.8,574.3 1377.8,595.7 1378.2,602.1 1378.2,573.6 1378.8,574.6 1378.8,610.4 1379.2,647.8 1379.2,588.4 1379.8,597.1 1379.8,662.2 1380.2,623.7 1380.2,598.4 1380.8,611.9 1380.8,634.0 1381.2,601.9 1381.2,594.2 1381.8,576.4 1381.8,614.0 1382.2,626.5 1382.2,601.2 1382.8,574.3 1382.8,600.9 1383.2,646.1 1383.2,605.8 1383.8,604.7 1383.8,719.9 1384.2,711.7 1384.2,551.1 1384.8,593.3 1384.8,651.6 1385.2,639.3 1385.2,589.6 1385.8,567.5 1385.8,600.6 1386.2,657.1 1386.2,553.6 1386.8,594.3 1386.8,609.3 1387.2,634.6 1387.2,572.1 1387.8,552.1 1387.8,663.6 1388.2,639.1 1388.2,606.0 1388.8,581.4 1388.8,631.5 1389.2,643.2 1389.2,614.1 1389.8,610.1 1389.8,645.0 1390.2,640.9 1390.2,610.4 1390.8,574.5 1390.8,632.6 1391.2,644.6 1391.2,627.8 1391.8,579.4 1391.8,638.8 1392.2,616.8 1392.2,584.2 1392.8,615.5 1392.8,661.6 1393.2,616.8 1393.2,578.3 1393.8,595.5 1393.8,611.5 1394.2,622.2 1394.2,579.6 1394.8,581.0 1394.8,665.2 1395.2,634.1 1395.2,601.5 1395.8,591.6 1395.8,630.1 1396.2,658.1 1396.2,596.9 1396.8,589.4 1396.8,625.1 1397.2,661.6 1397.2,558.2 1397.8,565.4 1397.8,675.9 1398.2,650.6 1398.2,578.6 1398.8,579.7 1398.8,653.7 1399.2,645.6 1399.2,605.3 1399.8,575.5 1399.8,627.9 1400.2,681.0 1400.2,625.9 1400.8,585.1 1400.8,647.8 1401.2,624.4 1401.2,587.0 1401.8,575.8 1401.8,639.4 1402.2,613.9 1402.2,584.9 1402.8,553.7 1402.8,604.0 1403.2,642.5 1403.2,579.4 1403.8,566.5 1403.8,593.6 1404.2,701.7 1404.2,598.2 1404.8,567.7 1404.8,660.0 1405.2,619.8 1405.2,571.7 1405.8,591.7 1405.8,660.0 1406.2,621.1 1406.2,574.8 1406.8,616.9 1406.8,624.9 1407.2,646.6 1407.2,569.0 1407.8,577.2 1407.8,657.0 1408.2,669.4 1408.2,590.2 1408.8,566.8 1408.8,621.1 1409.2,599.6 1409.2,588.1 1409.8,558.0 1409.8,632.1 1410.2,619.0 1410.2,576.3 1410.8,568.2 1410.8,661.4 1411.2,637.9 1411.2,555.5 1411.8,513.9 1411.8,647.5 1412.2,606.1 1412.2,596.4 1412.8,585.3 1412.8,603.6 1413.2,632.5 1413.2,580.1 1413.8,581.6 1413.8,649.0 1414.2,651.7 1414.2,590.2 1414.8,593.8 1414.8,622.4 1415.2,656.2 1415.2,598.8 1415.8,568.1 1415.8,649.9 1416.2,635.6 1416.2,561.9 1416.8,578.6 1416.8,635.5 1417.2,623.8 1417.2,586.6 1417.8,601.3 1417.8,620.4 1418.2,659.1 1418.2,579.1 1418.8,557.3 1418.8,615.6 1419.2,645.5 1419.2,604.8 1419.8,576.2 1419.8,681.3 1420.2,593.1 1420.2,563.0 1420.8,606.0 1420.8,630.7 1421.2,632.5 1421.2,584.7 1421.8,600.8 1421.8,638.2 1422.2,616.2 1422.2,569.3 1422.8,601.5 1422.8,657.9 1423.2,623.1 1423.2,594.1 1423.8,537.4 1423.8,621.1 1424.2,629.2 1424.2,562.1 1424.8,569.9 1424.8,652.2 1425.2,657.3 1425.2,583.2 1425.8,613.2 1425.8,630.6 1426.2,651.0 1426.2,587.2 1426.8,531.9 1426.8,594.2 1427.2,624.5 1427.2,584.0 1427.8,563.4 1427.8,609.2 1428.2,636.8 1428.2,595.7 1428.8,599.2 1428.8,647.9 1429.2,617.2 1429.2,568.9 1429.8,595.3 1429.8,615.3 1430.2,648.7 1430.2,609.9 1430.8,607.0 1430.8,747.1 1431.2,677.3 1431.2,596.2 1431.8,614.0 1431.8,661.2 1432.2,651.1 1432.2,561.3 1432.8,588.8 1432.8,641.5 1433.2,619.3 1433.2,560.9 1433.8,579.2 1433.8,648.9 1434.2,709.9 1434.2,618.9 1434.8,586.8 1434.8,609.2 1435.2,630.0 1435.2,599.5 1435.8,602.8 1435.8,656.4 1436.2,588.0 1436.2,564.9 1436.8,599.3 1436.8,665.6 1437.2,631.7 1437.2,535.3 1437.8,601.4 1437.8,621.7 1438.2,643.5 1438.2,571.1 1438.8,604.3 1438.8,637.7 1439.2,628.8 1439.2,585.2 1439.8,590.6 1439.8,641.5 1440.2,662.2 1440.2,551.5 1440.8,613.6 1440.8,673.6 1441.2,637.6 1441.2,583.9 1441.8,607.0 1441.8,644.2 1442.2,647.8 1442.2,607.3 1442.8,576.2 1442.8,656.7 1443.2,638.3 1443.2,595.3 1443.8,588.6 1443.8,607.9 1444.2,687.0 1444.2,517.6 1444.8,592.9 1444.8,628.3 1445.2,616.3 1445.2,576.2 1445.8,625.6 1445.8,639.6 1446.2,663.8 1446.2,599.4 1446.8,554.7 1446.8,620.9 1447.2,619.6 1447.2,597.8 1447.8,552.6 1447.8,612.1 1448.2,638.9 1448.2,595.7 1448.8,567.8 1448.8,620.0 1449.2,636.4 1449.2,586.7 1449.8,583.8 1449.8,686.8 1450.2,659.0 1450.2,568.8 1450.8,614.5 1450.8,634.2 1451.2,618.4 1451.2,602.7 1451.8,578.3 1451.8,631.5 1452.2,614.3 1452.2,578.9 1452.8,609.5 1452.8,642.4 1453.2,634.4 1453.2,587.0 1453.8,616.1 1453.8,662.3 1454.2,628.1 1454.2,613.0 1454.8,548.7 1454.8,610.6 1455.2,658.8 1455.2,600.4 1455.8,580.0 1455.8,608.0 1456.2,631.2 1456.2,595.5 1456.8,585.9 1456.8,649.4 1457.2,645.9 1457.2,598.0 1457.8,594.3 1457.8,648.0 1458.2,629.6 1458.2,578.5 1458.8,606.9 1458.8,637.2 1459.2,621.3 1459.2,594.3 1459.8,598.9 1459.8,664.3 1460.2,661.3 1460.2,622.6 1460.8,601.1 1460.8,675.4 1461.2,614.6 1461.2,581.3 1461.8,596.8 1461.8,642.4 1462.2,631.9 1462.2,582.2 1462.8,618.9 1462.8,648.7 1463.2,605.8 1463.2,525.6 1463.8,578.4 1463.8,619.6 1464.2,625.1 1464.2,548.4 1464.8,555.6 1464.8,687.3 1465.2,634.9 1465.2,582.1 1465.8,589.2 1465.8,684.6 1466.2,610.6 1466.2,566.8 1466.8,583.5 1466.8,608.8 1467.2,615.5 1467.2,583.6 1467.8,600.0 1467.8,652.3 1468.2,670.8 1468.2,585.7 1468.8,601.4 1468.8,657.5 1469.2,628.4 1469.2,545.8 1469.8,547.8 1469.8,621.7 1470.2,614.8 1470.2,592.6 1470.8,582.0 1470.8,618.1 1471.2,618.0 1471.2,596.0 1471.8,588.2 1471.8,612.7 1472.2,673.5 1472.2,567.9 1472.8,588.7 1472.8,599.0 1473.2,655.5 1473.2,597.4 1473.8,581.0 1473.8,632.0 1474.2,649.1 1474.2,572.9 1474.8,580.4 1474.8,659.5 1475.2,640.9 1475.2,578.3 1475.8,563.7 1475.8,636.9 1476.2,604.5 1476.2,597.1 1476.8,580.3 1476.8,620.9 1477.2,640.8 1477.2,593.1 1477.8,592.1 1477.8,677.0 1478.2,602.1 1478.2,578.6 1478.8,569.9 1478.8,590.6 1479.2,609.3 1479.2,576.7 1479.8,572.2 1479.8,612.7 1480.2,630.8 1480.2,606.8 1480.8,597.4 1480.8,614.0 1481.2,648.6 1481.2,600.5 1481.8,590.4 1481.8,617.2 1482.2,628.2 1482.2,604.3 1482.8,579.7 1482.8,641.4 1483.2,604.3 1483.2,587.4 1483.8,573.6 1483.8,607.1 1484.2,599.8 1484.2,561.7 1484.8,587.7 1484.8,608.6 1485.2,643.9 1485.2,627.4 1485.8,592.0 1485.8,645.2 1486.2,682.1 1486.2,598.8 1486.8,581.8 1486.8,638.2 1487.2,651.8 1487.2,569.7 1487.8,623.8 1487.8,646.5 1488.2,619.0 1488.2,580.9 1488.8,567.6 1488.8,632.4 1489.2,643.1 1489.2,609.1 1489.8,535.6 1489.8,614.5 1490.2,636.2 1490.2,577.6 1490.8,582.4 1490.8,636.6 1491.2,596.9 1491.2,567.0 1491.8,599.9 1491.8,653.1 1492.2,602.7 1492.2,567.0 1492.8,584.4 1492.8,634.0 1493.2,615.6 1493.2,569.0 1493.8,586.9 1493.8,673.1 1494.2,662.1 1494.2,610.5 1494.8,566.5 1494.8,639.1 1495.2,636.9 1495.2,613.7 1495.8,586.1 1495.8,612.2 1496.2,620.1 1496.2,596.1 1496.8,596.3 1496.8,630.7 1497.2,666.7 1497.2,566.1 1497.8,580.4 1497.8,631.7 1498.2,646.6 1498.2,614.9 1498.8,588.4 1498.8,619.9 1499.2,659.9 1499.2,598.7 1499.8,606.9 1499.8,648.5 1500.2,634.5 1500.2,603.2 1500.8,616.6 1500.8,644.7 1501.2,641.0 1501.2,610.1 1501.8,580.9 1501.8,629.0 1502.2,679.7 1502.2,601.6 1502.8,579.6 1502.8,689.0 1503.2,634.5 1503.2,578.1 1503.8,597.7 1503.8,650.7 1504.2,604.9 1504.2,584.1 1504.8,590.4 1504.8,654.7 1505.2,702.5 1505.2,591.7 1505.8,607.1 1505.8,640.8 1506.2,607.7 1506.2,559.9 1506.8,588.9 1506.8,638.9 1507.2,650.7 1507.2,587.3 1507.8,570.6 1507.8,658.0 1508.2,623.2 1508.2,583.9 1508.8,611.3 1508.8,637.4 1509.2,641.6 1509.2,567.2 1509.8,596.5 1509.8,654.1 1510.2,623.9 1510.2,587.3 1510.8,638.9 1510.8,656.8 1511.2,641.5 1511.2,584.9 1511.8,541.2 1511.8,628.8 1512.2,634.5 1512.2,578.9 1512.8,595.4 1512.8,633.0 1513.2,646.6 1513.2,587.3 1513.8,577.0 1513.8,623.8 1514.2,640.7 1514.2,598.7 1514.8,562.7 1514.8,656.4 1515.2,613.1 1515.2,610.2 1515.8,559.9 1515.8,620.7 1516.2,671.1 1516.2,576.7 1516.8,579.3 1516.8,636.4 1517.2,695.4 1517.2,572.8 1517.8,560.4 1517.8,629.3 1518.2,606.1 1518.2,587.4 1518.8,567.9 1518.8,650.8 1519.2,615.4 1519.2,576.0 1519.8,585.8 1519.8,628.6 1520.2,640.7 1520.2,603.5 1520.8,573.8 1520.8,616.0 1521.2,621.5 1521.2,576.6 1521.8,599.3 1521.8,648.7 1522.2,622.3 1522.2,590.6 1522.8,576.5 1522.8,619.3 1523.2,677.9 1523.2,550.7 1523.8,614.5 1523.8,624.4 1524.2,682.6 1524.2,638.7 1524.8,545.2 1524.8,631.8 1525.2,632.0 1525.2,605.8 1525.8,578.3 1525.8,606.7 1526.2,645.2 1526.2,601.8 1526.8,565.3 1526.8,619.7 1527.2,615.9 1527.2,570.2 1527.8,589.5 1527.8,647.3 1528.2,698.2 1528.2,614.8 1528.8,601.1 1528.8,627.7 1529.2,620.0 1529.2,601.5 1529.8,577.3 1529.8,605.7 1530.2,645.9 1530.2,525.1 1530.8,587.3 1530.8,645.2 1531.2,663.4 1531.2,585.8 1531.8,601.2 1531.8,633.7 1532.2,721.4 1532.2,576.7 1532.8,621.1 1532.8,656.4 1533.2,594.3 1533.2,548.2 1533.8,550.0 1533.8,600.2 1534.2,625.6 1534.2,585.9 1534.8,584.1 1534.8,650.7 1535.2,649.3 1535.2,625.6 1535.8,558.9 1535.8,611.3 1536.2,626.3 1536.2,597.6 1536.8,563.8 1536.8,604.4 1537.2,630.8 1537.2,574.0 1537.8,577.2 1537.8,622.1 1538.2,622.3 1538.2,536.6 1538.8,599.7 1538.8,610.2 1539.2,612.2 1539.2,593.9 1539.8,586.7 1539.8,643.4 1540.2,707.6 1540.2,599.2 1540.8,609.0 1540.8,651.0 1541.2,636.0 1541.2,578.1 1541.8,586.5 1541.8,658.4 1542.2,637.1 1542.2,593.6 1542.8,578.8 1542.8,594.0 1543.2,632.9 1543.2,540.2 1543.8,493.3 1543.8,621.8 1544.2,682.1 1544.2,563.4 1544.8,628.7 1544.8,662.7 1545.2,612.5 1545.2,588.0 1545.8,571.4 1545.8,624.0 1546.2,617.2 1546.2,574.7 1546.8,582.6 1546.8,691.8 1547.2,652.9 1547.2,598.1 1547.8,609.1 1547.8,650.1 1548.2,640.1 1548.2,596.6 1548.8,574.5 1548.8,670.2 1549.2,641.3 1549.2,611.3 1549.8,579.9 1549.8,646.7 1550.2,666.8 1550.2,571.1 1550.8,593.2 1550.8,616.0 1551.2,747.1 1551.2,617.2 1551.8,513.9 1551.8,594.0 1552.2,620.9 1552.2,595.1 1552.8,531.4 1552.8,653.7 1553.2,639.0 1553.2,622.2 1553.8,598.9 1553.8,606.6 1554.2,659.7 1554.2,578.7 1554.8,613.7 1554.8,628.1 1555.2,620.5 1555.2,555.7 1555.8,598.2 1555.8,638.9 1556.2,611.2 1556.2,576.1 1556.8,585.6 1556.8,630.7 1557.2,635.7 1557.2,593.8 1557.8,599.4 1557.8,635.5 1558.2,636.5 1558.2,570.3 1558.8,563.9 1558.8,612.6 1559.2,611.3 1559.2,543.7 1559.8,507.3 1559.8,641.3 1560.2,640.6 1560.2,567.5 1560.8,590.6 1560.8,665.8 1561.2,655.9 1561.2,560.0 1561.8,577.5 1561.8,619.5 1562.2,602.2 1562.2,578.4 1562.8,552.4 1562.8,619.3 1563.2,655.2 1563.2,591.5 1563.8,614.5 1563.8,656.1 1564.2,673.6 1564.2,599.6 1564.8,585.3 1564.8,629.2 1565.2,620.5 1565.2,498.4 1565.8,585.4 1565.8,662.5 1566.2,692.1 1566.2,578.9 1566.8,589.6 1566.8,643.7 1567.2,673.4 1567.2,582.5 1567.8,528.7 1567.8,645.9 1568.2,636.0 1568.2,555.0 1568.8,571.3 1568.8,639.2 1569.2,650.2 1569.2,603.1 1569.8,569.9 1569.8,667.5 1570.2,613.3 1570.2,591.3 1570.8,501.7 1570.8,650.9 1571.2,614.9 1571.2,561.0 1571.8,581.0 1571.8,620.3 1572.2,675.3 1572.2,542.8 1572.8,540.3 1572.8,650.3 1573.2,647.1 1573.2,608.3 1573.8,599.6 1573.8,650.4 1574.2,636.8 1574.2,589.7 1574.8,587.6 1574.8,642.8 1575.2,602.2 1575.2,591.2 1575.8,573.4 1575.8,608.5 1576.2,656.0 1576.2,613.3 1576.8,605.6 1576.8,633.8 1577.2,649.9 1577.2,598.8 1577.8,606.9 1577.8,619.1 1578.2,648.4 1578.2,572.9 1578.8,594.5 1578.8,642.7 1579.2,615.1 1579.2,585.7 1579.8,609.1 1579.8,654.2 1580.2,626.6 1580.2,618.9 1580.8,563.5 1580.8,660.5 1581.2,637.1 1581.2,597.9 1581.8,595.6 1581.8,608.6 1582.2,594.3 1582.2,569.5 1582.8,580.7 1582.8,627.3 1583.2,644.4 1583.2,608.8 1583.8,579.6 1583.8,620.8 1584.2,659.1 1584.2,594.0 1584.8,611.4 1584.8,624.7 1585.2,606.1 1585.2,580.2 1585.8,579.0 1585.8,654.3 1586.2,671.8 1586.2,568.3 1586.8,599.6 1586.8,637.9 1587.2,645.5 1587.2,578.8 1587.8,582.0 1587.8,668.0 1588.2,654.1 1588.2,559.1 1588.8,531.4 1588.8,650.2 1589.2,614.8 1589.2,492.4 1589.8,585.6 1589.8,620.9 1590.2,642.6 1590.2,588.7 1590.8,593.2 1590.8,633.3 1591.2,642.3 1591.2,582.4 1591.8,579.8 1591.8,611.7 1592.2,692.0 1592.2,591.8 1592.8,604.2 1592.8,678.3 1593.2,615.6 1593.2,540.6 1593.8,578.8 1593.8,659.7 1594.2,594.1 1594.2,566.9 1594.8,490.0 1594.8,618.0 1595.2,618.4 1595.2,579.0 1595.8,600.0 1595.8,685.1 1596.2,648.5 1596.2,607.8 1596.8,589.7 1596.8,621.9 1597.2,636.8 1597.2,587.5 1597.8,603.7 1597.8,654.3 1598.2,624.2 1598.2,587.5 1598.8,586.6 1598.8,606.9 1599.2,632.2 1599.2,588.7 1599.8,576.0 1599.8,613.1 1600.2,695.1 1600.2,611.2 1600.8,586.8 1600.8,665.2 1601.2,609.8 1601.2,578.7 1601.8,583.3 1601.8,648.6 1602.2,672.2 1602.2,607.0 1602.8,502.2 1602.8,624.5 1603.2,630.4 1603.2,562.1 1603.8,562.1 1603.8,626.6 1604.2,641.9 1604.2,568.8 1604.8,584.6 1604.8,613.2 1605.2,655.5 1605.2,558.8 1605.8,610.2 1605.8,623.7 1606.2,672.8 1606.2,627.0 1606.8,577.2 1606.8,611.6 1607.2,667.9 1607.2,616.8 1607.8,622.7 1607.8,624.0 1608.2,651.0 1608.2,614.4 1608.8,601.8 1608.8,612.2 1609.2,651.8 1609.2,532.7 1609.8,613.5 1609.8,618.9 1610.2,604.5 1610.2,579.3 1610.8,501.7 1610.8,648.2 1611.2,633.8 1611.2,609.3 1611.8,593.6 1611.8,613.6 1612.2,623.2 1612.2,566.6 1612.8,556.1 1612.8,603.2 1613.2,650.6 1613.2,579.7 1613.8,612.7 1613.8,691.7 1614.2,628.6 1614.2,512.2 1614.8,581.4 1614.8,674.4 1615.2,631.2 1615.2,597.6 1615.8,601.9 1615.8,619.0 1616.2,637.9 1616.2,511.5 1616.8,599.0 1616.8,639.9 1617.2,603.4 1617.2,582.4 1617.8,518.5 1617.8,614.5 1618.2,638.2 1618.2,608.2 1618.8,605.3 1618.8,665.1 1619.2,617.2 1619.2,597.9 1619.8,560.4 1619.8,660.6 1620.2,671.8 1620.2,610.6 1620.8,602.0 1620.8,638.0 1621.2,657.6 1621.2,557.9 1621.8,592.3 1621.8,624.2 1622.2,635.8 1622.2,580.2 1622.8,583.7 1622.8,609.8 1623.2,635.0 1623.2,593.5 1623.8,586.9 1623.8,633.3 1624.2,607.0 1624.2,559.7 1624.8,611.3 1624.8,630.9 1625.2,675.9 1625.2,609.8 1625.8,613.6 1625.8,630.5 1626.2,644.2 1626.2,558.5 1626.8,588.7 1626.8,599.4 1627.2,624.4 1627.2,582.5 1627.8,532.0 1627.8,676.6 1628.2,678.4 1628.2,589.4 1628.8,571.1 1628.8,660.4 1629.2,655.3 1629.2,510.6 1629.8,592.1 1629.8,624.2 1630.2,621.0 1630.2,559.4 1630.8,567.8 1630.8,619.9 1631.2,671.8 1631.2,622.2 1631.8,575.6 1631.8,610.9 1632.2,615.4 1632.2,580.8 1632.8,594.9 1632.8,697.9 1633.2,653.8 1633.2,568.5 1633.8,595.8 1633.8,627.1 1634.2,655.3 1634.2,617.4 1634.8,587.9 1634.8,610.6 1635.2,676.2 1635.2,569.3 1635.8,591.9 1635.8,620.7 1636.2,647.0 1636.2,588.2 1636.8,601.4 1636.8,632.5 1637.2,616.2 1637.2,537.2 1637.8,588.2 1637.8,630.8 1638.2,609.2 1638.2,556.4 1638.8,512.4 1638.8,594.0 1639.2,630.7 1639.2,582.5 1639.8,581.6 1639.8,615.1 1640.2,663.7 1640.2,459.6 1640.8,564.7 1640.8,670.5 1641.2,617.0 1641.2,590.3 1641.8,554.5 1641.8,644.0 1642.2,623.1 1642.2,554.4 1642.8,493.3 1642.8,612.4 1643.2,582.4 1643.2,521.6 1643.8,582.9 1643.8,603.1 1644.2,612.1 1644.2,545.3 1644.8,609.1 1644.8,649.4 1645.2,619.2 1645.2,473.9 1645.8,607.2 1645.8,656.3 1646.2,596.0 1646.2,475.3 1646.8,604.5 1646.8,634.8 1647.2,632.7 1647.2,470.1 1647.8,552.0 1647.8,620.9 1648.2,631.8 1648.2,458.2 1648.8,495.1 1648.8,608.0 1649.2,607.1 1649.2,479.6 1649.8,515.1 1649.8,681.6 1650.2,655.9 1650.2,468.5 1650.8,577.7 1650.8,663.5 1651.2,747.1 1651.2,425.0 1651.8,460.6 1651.8,655.7 1652.2,624.1 1652.2,531.8 1652.8,558.2 1652.8,641.2 1653.2,627.8 1653.2,455.8 1653.8,407.7 1653.8,612.4 1654.2,654.9 1654.2,471.0 1654.8,451.7 1654.8,626.9 1655.2,631.4 1655.2,531.7 1655.8,574.9 1655.8,637.9 1656.2,682.7 1656.2,564.6 1656.8,436.7 1656.8,566.8 1657.2,682.4 1657.2,478.1 1657.8,562.1 1657.8,609.7 1658.2,593.6 1658.2,539.3 1658.8,510.4 1658.8,637.7 1659.2,589.7 1659.2,433.5 1659.8,582.5 1659.8,620.9 1660.2,674.8 1660.2,604.4 1660.8,496.5 1660.8,674.0 1661.2,640.2 1661.2,593.8 1661.8,579.9 1661.8,715.4 1662.2,632.8 1662.2,600.8 1662.8,602.6 1662.8,653.8 1663.2,621.1 1663.2,585.5 1663.8,500.4 1663.8,617.1 1664.2,610.5 1664.2,566.5 1664.8,592.9 1664.8,606.0 1665.2,668.8 1665.2,498.0 1665.8,581.9 1665.8,641.4 1666.2,664.9 1666.2,578.3 1666.8,589.6 1666.8,684.6 1667.2,671.8 1667.2,550.9 1667.8,586.4 1667.8,635.1 1668.2,627.1 1668.2,600.7 1668.8,586.3 1668.8,611.7 1669.2,627.4 1669.2,591.7 1669.8,600.6 1669.8,659.1 1670.2,673.5 1670.2,590.5 1670.8,580.2 1670.8,645.8 1671.2,631.5 1671.2,571.9 1671.8,568.2 1671.8,623.4 1672.2,652.7 1672.2,596.9 1672.8,560.0 1672.8,603.4 1673.2,633.9 1673.2,593.0 1673.8,603.3 1673.8,607.6 1674.2,617.1 1674.2,579.6 1674.8,520.2 1674.8,585.1 1675.2,618.1 1675.2,485.4 1675.8,582.1 1675.8,647.0 1676.2,614.1 1676.2,574.9 1676.8,599.8 1676.8,685.4 1677.2,637.7 1677.2,579.8 1677.8,583.2 1677.8,600.2 1678.2,640.4 1678.2,539.9 1678.8,617.6 1678.8,659.9 1679.2,658.2 1679.2,606.7 1679.8,611.8 1679.8,637.6 1680.2,608.5 1680.2,525.0 1680.8,498.4 1680.8,592.5 1681.2,660.3 1681.2,569.8 1681.8,590.3 1681.8,624.9 1682.2,666.6 1682.2,593.8 1682.8,605.7 1682.8,639.0 1683.2,609.0 1683.2,580.0 1683.8,553.5 1683.8,645.4 1684.2,657.4 1684.2,587.5 1684.8,603.0 1684.8,620.7 1685.2,602.0 1685.2,580.6 1685.8,569.4 1685.8,637.7 1686.2,638.3 1686.2,574.7 1686.8,594.3 1686.8,663.0 1687.2,648.4 1687.2,544.6 1687.8,601.6 1687.8,696.5 1688.2,653.2 1688.2,574.2 1688.8,591.7 1688.8,625.3 1689.2,616.2 1689.2,579.5 1689.8,567.8 1689.8,643.6 1690.2,652.3 1690.2,609.4 1690.8,616.5 1690.8,677.7 1691.2,644.9 1691.2,586.3 1691.8,605.9 1691.8,633.9 1692.2,624.7 1692.2,596.4 1692.8,587.0 1692.8,652.1 1693.2,603.5 1693.2,578.5 1693.8,611.6 1693.8,659.1 1694.2,655.8 1694.2,588.7 1694.8,604.2 1694.8,626.2 1695.2,656.2 1695.2,573.6 1695.8,594.3 1695.8,671.4 1696.2,629.4 1696.2,594.9 1696.8,499.8 1696.8,659.9 1697.2,627.6 1697.2,571.4 1697.8,589.7 1697.8,630.4 1698.2,632.9 1698.2,568.5 1698.8,609.1 1698.8,641.8 1699.2,622.1 1699.2,524.7 1699.8,580.0 1699.8,629.7 1700.2,638.7 1700.2,556.0 1700.8,550.5 1700.8,624.0 1701.2,655.7 1701.2,592.8 1701.8,584.8 1701.8,644.6 1702.2,613.5 1702.2,603.5 1702.8,553.3 1702.8,635.7 1703.2,651.3 1703.2,511.7 1703.8,589.3 1703.8,602.1 1704.2,650.1 1704.2,591.7 1704.8,529.7 1704.8,630.3 1705.2,590.9 1705.2,564.8 1705.8,585.2 1705.8,633.9 1706.2,714.6 1706.2,622.7 1706.8,605.5 1706.8,642.6 1707.2,565.2 1707.2,494.7 1707.8,548.8 1707.8,611.6 1708.2,652.9 1708.2,605.6 1708.8,570.2 1708.8,636.1 1709.2,617.9 1709.2,572.0 1709.8,571.8 1709.8,610.7 1710.2,624.5 1710.2,596.6 1710.8,607.7 1710.8,630.4 1711.2,613.0 1711.2,519.7 1711.8,572.8 1711.8,619.5 1712.2,615.5 1712.2,561.5 1712.8,583.7 1712.8,629.9 1713.2,618.7 1713.2,586.1 1713.8,590.5 1713.8,653.6 1714.2,623.3 1714.2,597.1 1714.8,550.1 1714.8,591.8 1715.2,651.1 1715.2,568.6 1715.8,525.5 1715.8,631.3 1716.2,591.2 1716.2,515.3 1716.8,598.3 1716.8,698.6 1717.2,622.0 1717.2,589.7 1717.8,544.5 1717.8,669.9 1718.2,733.2 1718.2,626.5 1718.8,592.8 1718.8,648.1 1719.2,662.2 1719.2,595.6 1719.8,561.0 1719.8,613.7 1720.2,645.1 1720.2,535.4 1720.8,573.3 1720.8,649.3 1721.2,698.7 1721.2,527.8 1721.8,515.7 1721.8,636.3 1722.2,632.1 1722.2,613.1 1722.8,566.4 1722.8,613.3 1723.2,623.5 1723.2,596.8 1723.8,558.0 1723.8,667.2 1724.2,637.8 1724.2,609.2 1724.8,581.8 1724.8,622.7 1725.2,631.2 1725.2,566.1 1725.8,613.7 1725.8,652.1 1726.2,619.6 1726.2,506.9 1726.8,580.7 1726.8,707.3 1727.2,636.2 1727.2,587.9 1727.8,618.6 1727.8,651.0 1728.2,666.0 1728.2,600.9 1728.8,585.3 1728.8,611.3 1729.2,646.6 1729.2,580.0 1729.8,585.8 1729.8,609.0 1730.2,630.3 1730.2,570.4 1730.8,569.2 1730.8,648.9 1731.2,606.0 1731.2,597.4 1731.8,600.5 1731.8,621.3 1732.2,634.6 1732.2,581.8 1732.8,627.3 1732.8,682.7 1733.2,648.3 1733.2,596.2 1733.8,538.4 1733.8,650.7 1734.2,654.9 1734.2,596.8 1734.8,608.9 1734.8,657.4 1735.2,645.6 1735.2,618.3 1735.8,589.7 1735.8,601.5 1736.2,618.4 1736.2,598.8 1736.8,508.7 1736.8,671.6 1737.2,642.4 1737.2,564.3 1737.8,584.8 1737.8,647.6 1738.2,648.2 1738.2,626.2 1738.8,613.2 1738.8,631.1 1739.2,609.1 1739.2,589.5 1739.8,506.4 1739.8,615.9 1740.2,635.7 1740.2,598.9 1740.8,606.0 1740.8,641.9 1741.2,648.6 1741.2,595.7 1741.8,629.8 1741.8,663.8 1742.2,644.9 1742.2,566.0 1742.8,606.4 1742.8,628.0 1743.2,650.5 1743.2,639.7 1743.8,577.3 1743.8,631.8 1744.2,619.9 1744.2,513.4 1744.8,530.0 1744.8,650.5 1745.2,681.1 1745.2,502.2 1745.8,598.5 1745.8,636.5 1746.2,607.8 1746.2,583.0 1746.8,565.0 1746.8,713.7 1747.2,652.8 1747.2,608.3 1747.8,551.4 1747.8,613.2 1748.2,690.9 1748.2,595.7 1748.8,580.7 1748.8,659.7 1749.2,641.7 1749.2,564.7 1749.8,581.7 1749.8,636.6 1750.2,646.3 1750.2,580.5 1750.8,561.3 1750.8,621.6 1751.2,682.2 1751.2,621.3 1751.8,629.2 1751.8,651.2 1752.2,636.4 1752.2,599.7 1752.8,576.8 1752.8,601.1 1753.2,597.6 1753.2,573.9 1753.8,566.1 1753.8,643.1 1754.2,667.5 1754.2,592.1 1754.8,599.7 1754.8,633.0 1755.2,647.0 1755.2,610.7 1755.8,527.0 1755.8,631.3 1756.2,607.8 1756.2,531.5 1756.8,534.3 1756.8,620.1 1757.2,620.3 1757.2,538.6 1757.8,589.8 1757.8,656.6 1758.2,616.0 1758.2,516.2 1758.8,573.3 1758.8,701.3 1759.2,655.7 1759.2,582.3 1759.8,605.0 1759.8,654.0 1760.2,613.9 1760.2,533.0 1760.8,593.5 1760.8,684.8 1761.2,637.2 1761.2,579.8 1761.8,614.1 1761.8,630.5 1762.2,694.0 1762.2,598.1 1762.8,623.2 1762.8,671.4 1763.2,672.0 1763.2,586.6 1763.8,560.9 1763.8,691.1 1764.2,634.1 1764.2,572.8 1764.8,537.1 1764.8,618.9 1765.2,642.2 1765.2,548.6 1765.8,573.8 1765.8,667.8 1766.2,634.0 1766.2,564.4 1766.8,535.6 1766.8,608.6 1767.2,694.6 1767.2,591.3 1767.8,596.4 1767.8,640.0 1768.2,596.8 1768.2,569.4 1768.8,573.2 1768.8,633.9 1769.2,721.7 1769.2,590.6 1769.8,610.1 1769.8,639.3 1770.2,709.0 1770.2,610.4 1770.8,527.0 1770.8,625.6 1771.2,623.9 1771.2,593.9 1771.8,506.4 1771.8,599.9 1772.2,640.9 1772.2,551.8 1772.8,548.7 1772.8,589.1 1773.2,619.9 1773.2,539.6 1773.8,586.4 1773.8,606.2 1774.2,601.0 1774.2,569.7 1774.8,577.5 1774.8,647.4 1775.2,633.7 1775.2,585.0 1775.8,554.0 1775.8,626.9 1776.2,613.6 1776.2,561.9 1776.8,517.6 1776.8,636.8 1777.2,667.9 1777.2,586.9 1777.8,596.5 1777.8,646.0 1778.2,611.8 1778.2,602.4 1778.8,590.9 1778.8,630.1 1779.2,637.2 1779.2,556.1 1779.8,573.8 1779.8,651.7 1780.2,621.5 1780.2,584.3 1780.8,581.6 1780.8,671.8 1781.2,634.6 1781.2,611.7 1781.8,609.9 1781.8,614.8 1782.2,628.9 1782.2,574.3 1782.8,574.4 1782.8,610.8 1783.2,641.9 1783.2,545.1 1783.8,585.6 1783.8,641.3 1784.2,615.9 1784.2,590.0 1784.8,569.1 1784.8,648.8 1785.2,610.8 1785.2,586.9 1785.8,575.6 1785.8,611.4 1786.2,652.7 1786.2,529.8 1786.8,608.4 1786.8,650.0 1787.2,637.4 1787.2,563.3 1787.8,604.3 1787.8,611.4 1788.2,597.8 1788.2,580.4 1788.8,602.8 1788.8,651.7 1789.2,657.5 1789.2,607.6 1789.8,586.2 1789.8,651.3 1790.2,714.3 1790.2,578.4 1790.8,593.0 1790.8,643.9 1791.2,642.1 1791.2,523.8 1791.8,578.5 1791.8,617.3 1792.2,617.4 1792.2,584.6 1792.8,587.6 1792.8,615.4 1793.2,614.5 1793.2,559.9 1793.8,611.3 1793.8,633.2 1794.2,650.8 1794.2,570.6 1794.8,558.1 1794.8,599.9 1795.2,640.1 1795.2,607.8 1795.8,575.5 1795.8,636.2 1796.2,637.1 1796.2,583.2 1796.8,602.0 1796.8,642.2 1797.2,614.1 1797.2,587.8 1797.8,527.2 1797.8,622.3 1798.2,692.4 1798.2,610.2 1798.8,568.5 1798.8,658.7 1799.2,610.8 1799.2,545.6 1799.8,572.6 1799.8,613.5 1800.2,628.7 1800.2,602.3 1800.8,586.3 1800.8,654.4 1801.2,616.0 1801.2,579.9 1801.8,586.8 1801.8,649.4 1802.2,638.7 1802.2,582.5 1802.8,586.7 1802.8,592.4 1803.2,622.1 1803.2,558.7 1803.8,588.5 1803.8,622.3 1804.2,615.5 1804.2,547.4 1804.8,527.5 1804.8,603.8 1805.2,639.9 1805.2,547.8 1805.8,585.1 1805.8,603.5 1806.2,666.9 1806.2,562.3 1806.8,565.9 1806.8,629.5 1807.2,632.2 1807.2,572.7 1807.8,600.8 1807.8,644.2 1808.2,635.4 1808.2,576.4 1808.8,520.9 1808.8,603.3 1809.2,633.2 1809.2,568.6 1809.8,564.6 1809.8,599.3 1810.2,640.8 1810.2,555.8 1810.8,588.2 1810.8,658.6 1811.2,625.3 1811.2,564.8 1811.8,556.3 1811.8,594.9 1812.2,620.5 1812.2,592.0 1812.8,523.6 1812.8,637.1 1813.2,645.4 1813.2,592.6 1813.8,591.3 1813.8,598.1 1814.2,615.8 1814.2,549.5 1814.8,560.4 1814.8,623.7 1815.2,614.7 1815.2,589.2 1815.8,541.4 1815.8,675.6 1816.2,630.2 1816.2,613.9 1816.8,580.8 1816.8,617.8 1817.2,653.1 1817.2,523.8 1817.8,616.1 1817.8,691.9 1818.2,609.7 1818.2,554.3 1818.8,553.7 1818.8,643.5 1819.2,648.9 1819.2,614.4 1819.8,551.4 1819.8,675.1 1820.2,608.2 1820.2,577.7 1820.8,562.6 1820.8,650.2 1821.2,647.8 1821.2,596.7 1821.8,620.0 1821.8,642.9 1822.2,639.7 1822.2,601.6 1822.8,535.8 1822.8,624.2 1823.2,615.2 1823.2,561.3 1823.8,605.9 1823.8,659.6 1824.2,667.5 1824.2,589.9 1824.8,577.7 1824.8,640.5 1825.2,632.6 1825.2,604.1 1825.8,589.3 1825.8,622.7 1826.2,639.0 1826.2,572.1 1826.8,591.3 1826.8,650.5 1827.2,639.1 1827.2,574.4 1827.8,590.1 1827.8,711.6 1828.2,647.1 1828.2,621.5 1828.8,589.5 1828.8,647.4 1829.2,672.6 1829.2,564.0 1829.8,624.4 1829.8,673.5 1830.2,618.2 1830.2,567.8 1830.8,523.2 1830.8,607.5 1831.2,699.2 1831.2,609.0 1831.8,610.7 1831.8,652.7 1832.2,614.9 1832.2,592.7 1832.8,587.9 1832.8,636.4 1833.2,645.7 1833.2,587.1 1833.8,585.6 1833.8,636.7 1834.2,598.4 1834.2,582.0 1834.8,608.6 1834.8,622.3 1835.2,679.6 1835.2,578.3 1835.8,577.2 1835.8,704.8 1836.2,617.2 1836.2,562.5 1836.8,588.3 1836.8,704.7 1837.2,657.4 1837.2,592.6 1837.8,596.8 1837.8,643.9 1838.2,624.9 1838.2,605.4 1838.8,595.2 1838.8,635.3 1839.2,592.0 1839.2,540.4 1839.8,603.6 1839.8,671.9 1840.2,614.8 1840.2,589.5 1840.8,575.7 1840.8,609.3 1841.2,649.5 1841.2,601.2 1841.8,583.8 1841.8,637.6 1842.2,613.7 1842.2,601.4 1842.8,593.9 1842.8,637.3 1843.2,624.3 1843.2,593.3 1843.8,572.8 1843.8,640.3 1844.2,638.3 1844.2,537.3 1844.8,592.8 1844.8,680.3 1845.2,638.6 1845.2,561.2 1845.8,568.3 1845.8,612.7 1846.2,704.6 1846.2,606.8 1846.8,588.3 1846.8,630.1 1847.2,655.3 1847.2,601.9 1847.8,576.6 1847.8,626.6 1848.2,625.4 1848.2,561.7 1848.8,566.3 1848.8,640.9 1849.2,648.4 1849.2,627.1 1849.8,575.5 1849.8,602.9 1850.2,603.0 1850.2,553.8 1850.8,592.4 1850.8,626.4 1851.2,661.1 1851.2,592.1 1851.8,538.7 1851.8,667.1 1852.2,607.5 1852.2,583.9 1852.8,596.4 1852.8,667.3 1853.2,640.8 1853.2,627.5 1853.8,583.6 1853.8,648.5 1854.2,638.6 1854.2,621.7 1854.8,599.4 1854.8,651.5 1855.2,700.6 1855.2,590.7 1855.8,591.5 1855.8,630.2 1856.2,631.7 1856.2,590.1 1856.8,579.7 1856.8,627.7 1857.2,694.2 1857.2,598.6 1857.8,571.7 1857.8,733.1 1858.2,600.1 1858.2,579.9 1858.8,575.2 1858.8,628.2 1859.2,626.7 1859.2,602.5 1859.8,598.6 1859.8,615.2 1860.2,602.4 1860.2,536.1 1860.8,577.0 1860.8,667.2 1861.2,634.2 1861.2,582.8 1861.8,596.5 1861.8,621.0 1862.2,632.8 1862.2,596.9 1862.8,593.0 1862.8,615.2 1863.2,613.5 1863.2,572.1 1863.8,583.2 1863.8,632.5 1864.2,647.4 1864.2,583.5 1864.8,574.3 1864.8,667.2 1865.2,632.7 1865.2,586.8 1865.8,585.6 1865.8,620.8 1866.2,610.4 1866.2,577.2 1866.8,598.0 1866.8,649.1 1867.2,644.2 1867.2,583.7 1867.8,615.6 1867.8,621.8 1868.2,642.2 1868.2,580.1 1868.8,563.8 1868.8,681.8 1869.2,653.7 1869.2,583.6 1869.8,557.6 1869.8,601.2 1870.2,608.4 1870.2,594.4 1870.8,606.7 1870.8,673.8 1871.2,648.1 1871.2,591.5 1871.8,604.9 1871.8,619.0 1872.2,637.1 1872.2,571.1 1872.8,574.5 1872.8,620.2 1873.2,666.9 1873.2,573.0 1873.8,603.3 1873.8,626.4 1874.2,622.2 1874.2,574.3 1874.8,584.7 1874.8,647.4 1875.2,639.1 1875.2,580.6 1875.8,542.9 1875.8,610.2 1876.2,668.2 1876.2,600.3 1876.8,588.6 1876.8,632.0 1877.2,634.4 1877.2,527.1 1877.8,598.1 1877.8,643.2 1878.2,682.9 1878.2,564.1 1878.8,618.4 1878.8,641.9 1879.2,625.4 1879.2,541.3 1879.8,570.7 1879.8,595.9 1880.2,632.5 1880.2,605.4 1880.8,570.9 1880.8,616.9 1881.2,596.2 1881.2,581.5 1881.8,592.9 1881.8,653.0 1882.2,606.7 1882.2,555.1 1882.8,573.6 1882.8,617.2 1883.2,620.5 1883.2,578.9 1883.8,564.6 1883.8,618.1 1884.2,605.4 1884.2,553.1 1884.8,602.1 1884.8,643.4 1885.2,664.9 1885.2,611.2 1885.8,575.5 1885.8,661.2 1886.2,732.0 1886.2,571.2 1886.8,594.8 1886.8,627.2 1887.2,603.8 1887.2,593.5 1887.8,581.6 1887.8,587.9 1888.2,639.4 1888.2,610.9 1888.8,575.0 1888.8,612.3 1889.2,628.8 1889.2,565.2 1889.8,603.2 1889.8,747.1 1890.2,644.7 1890.2,596.7 1890.8,588.1 1890.8,619.9 1891.2,620.5 1891.2,544.2 1891.8,571.3 1891.8,635.2 1892.2,747.1 1892.2,594.2 1892.8,586.2 1892.8,612.4 1893.2,666.5 1893.2,543.5 1893.8,540.3 1893.8,604.5 1894.2,636.4 1894.2,565.3 1894.8,612.1 1894.8,622.4 1895.2,635.1 1895.2,580.8 1895.8,611.5 1895.8,656.2 1896.2,667.0 1896.2,564.9 1896.8,603.8 1896.8,629.9 1897.2,617.8 1897.2,581.1 1897.8,536.0 1897.8,592.9 1898.2,646.0 1898.2,554.2 1898.8,566.6 1898.8,608.8 1899.2,635.2 1899.2,556.4 1899.8,617.0 1899.8,637.5 1900.2,621.1 1900.2,602.2 1900.8,510.1 1900.8,624.4 1901.2,659.4 1901.2,588.3 1901.8,593.1 1901.8,666.1 1902.2,636.8 1902.2,598.8 1902.8,575.1 1902.8,638.5 1903.2,676.7 1903.2,580.9 1903.8,614.6 1903.8,637.9 1904.2,659.6 1904.2,599.9 1904.8,597.5 1904.8,677.0 1905.2,605.4 1905.2,593.4 1905.8,586.9 1905.8,629.6 1906.2,625.4 1906.2,608.6 1906.8,557.0 1906.8,671.1 1907.2,637.7 1907.2,573.6 1907.8,588.3 1907.8,656.1 1908.2,629.2 1908.2,587.2 1908.8,564.5 1908.8,587.1 1909.2,623.4 1909.2,597.1 1909.8,590.9 1909.8,614.8 1910.2,651.1 1910.2,620.0 1910.8,519.9 1910.8,639.8 1911.2,654.2 1911.2,584.2 1911.8,591.6 1911.8,656.7 1912.2,648.2 1912.2,604.5 1912.8,583.9 1912.8,617.4 1913.2,613.3 1913.2,541.9 1913.8,583.8 1913.8,597.7 1914.2,607.0 1914.2,519.9 1914.8,589.8 1914.8,616.8 1915.2,682.3 1915.2,621.8 1915.8,568.6 1915.8,619.7 1916.2,634.3 1916.2,581.6 1916.8,585.4 1916.8,628.4 1917.2,596.6 1917.2,549.4 1917.8,618.0 1917.8,655.5 1918.2,631.4 1918.2,586.5 1918.8,608.1 1918.8,635.6 1919.2,635.0 1919.2,598.5 1919.8,544.8 1919.8,724.4 1920.2,625.6 1920.2,554.7 1920.8,567.5 1920.8,627.8 1921.2,643.8 1921.2,562.6 1921.8,568.4 1921.8,639.7 1922.2,611.7 1922.2,560.8 1922.8,548.7 1922.8,657.3 1923.2,637.5 1923.2,580.9 1923.8,569.0 1923.8,683.5 1924.2,665.8 1924.2,577.6 1924.8,520.9 1924.8,669.5 1925.2,665.7 1925.2,584.6 1925.8,586.0 1925.8,634.7 1926.2,625.1 1926.2,596.4 1926.8,549.9 1926.8,653.6 1927.2,638.6 1927.2,593.7 1927.8,579.0 1927.8,681.3 1928.2,620.8 1928.2,580.4 1928.8,595.1 1928.8,618.6 1929.2,652.7 1929.2,594.1 1929.8,577.8 1929.8,629.0 1930.2,631.2 1930.2,616.8 1930.8,593.6 1930.8,635.4 1931.2,609.5 1931.2,579.6 1931.8,599.4 1931.8,660.9 1932.2,665.3 1932.2,596.1 1932.8,602.5 1932.8,648.2 1933.2,633.3 1933.2,580.7 1933.8,579.3 1933.8,617.6 1934.2,669.4 1934.2,570.2 1934.8,581.9 1934.8,688.0 1935.2,637.8 1935.2,569.8 1935.8,608.1 1935.8,621.1 1936.2,659.3 1936.2,553.6 1936.8,585.4 1936.8,644.4 1937.2,630.3 1937.2,571.3 1937.8,591.7 1937.8,644.7 1938.2,626.7 1938.2,604.3 1938.8,579.5 1938.8,658.2 1939.2,598.3 1939.2,572.0 1939.8,605.7 1939.8,625.1 1940.2,648.8 1940.2,554.6 1940.8,590.6 1940.8,658.3 1941.2,641.5 1941.2,616.3 1941.8,567.4 1941.8,626.1 1942.2,607.4 1942.2,582.2 1942.8,564.5 1942.8,626.0 1943.2,654.7 1943.2,547.5 1943.8,553.0 1943.8,639.9 1944.2,660.1 1944.2,590.8 1944.8,604.6 1944.8,657.9 1945.2,649.6 1945.2,598.4 1945.8,592.3 1945.8,641.4 1946.2,662.5 1946.2,558.8 1946.8,584.5 1946.8,640.6 1947.2,682.4 1947.2,615.6 1947.8,597.7 1947.8,688.5 1948.2,633.7 1948.2,583.9 1948.8,584.7 1948.8,628.4 1949.2,636.4 1949.2,597.8 1949.8,605.7 1949.8,620.0 1950.2,613.8 1950.2,567.1 1950.8,581.4 1950.8,640.7 1951.2,608.3 1951.2,583.9 1951.8,584.7 1951.8,615.6 1952.2,633.5 1952.2,559.5 1952.8,606.5 1952.8,633.7 1953.2,607.2 1953.2,588.6 1953.8,575.6 1953.8,617.1 1954.2,611.5 1954.2,576.9 1954.8,615.9 1954.8,652.2 1955.2,622.2 1955.2,579.1 1955.8,577.4 1955.8,674.2 1956.2,613.9 1956.2,553.0 1956.8,599.2 1956.8,670.3 1957.2,640.9 1957.2,571.6 1957.8,584.8 1957.8,611.5 1958.2,640.6 1958.2,580.8 1958.8,548.3 1958.8,651.2 1959.2,636.7 1959.2,590.8 1959.8,569.1 1959.8,629.9 1960.2,634.3 1960.2,596.3 1960.8,567.3 1960.8,654.0 1961.2,670.7 1961.2,593.7 1961.8,598.0 1961.8,627.9 1962.2,652.3 1962.2,595.7 1962.8,625.4 1962.8,673.4 1963.2,640.8 1963.2,621.9 1963.8,626.0 1963.8,649.1 1964.2,597.5 1964.2,585.4 1964.8,567.4 1964.8,630.4 1965.2,610.5 1965.2,576.8 1965.8,573.6 1965.8,645.1 1966.2,666.7 1966.2,588.9 1966.8,580.7 1966.8,638.5 1967.2,671.9 1967.2,586.4 1967.8,607.8 1967.8,627.3 1968.2,616.1 1968.2,594.7 1968.8,535.0 1968.8,636.2 1969.2,680.5 1969.2,635.8 1969.8,586.9 1969.8,617.8 1970.2,597.6 1970.2,592.8 1970.8,557.9 1970.8,644.1 1971.2,630.2 1971.2,562.9 1971.8,603.7 1971.8,656.1 1972.2,637.1 1972.2,585.7 1972.8,601.0 1972.8,646.4 1973.2,645.2 1973.2,574.7 1973.8,608.1 1973.8,718.1 1974.2,640.5 1974.2,591.3 1974.8,571.4 1974.8,692.4 1975.2,647.7 1975.2,604.1 1975.8,609.4 1975.8,625.8 1976.2,650.2 1976.2,609.5 1976.8,599.0 1976.8,656.3 1977.2,656.4 1977.2,580.3 1977.8,575.3 1977.8,608.0 1978.2,722.0 1978.2,605.4 1978.8,619.7 1978.8,673.1 1979.2,664.8 1979.2,524.8 1979.8,566.1 1979.8,631.1 1980.2,625.9 1980.2,597.4 1980.8,604.7 1980.8,624.8 1981.2,671.8 1981.2,598.4 1981.8,568.4 1981.8,611.3 1982.2,615.7 1982.2,573.1 1982.8,617.9 1982.8,646.6 1983.2,622.8 1983.2,560.8 1983.8,615.8 1983.8,627.8 1984.2,641.2 1984.2,593.6 1984.8,584.1 1984.8,614.8 1985.2,603.3 1985.2,600.2 1985.8,580.8 1985.8,618.0 1986.2,628.2 1986.2,603.6 1986.8,605.8 1986.8,637.4 1987.2,625.5 1987.2,614.6 1987.8,586.8 1987.8,596.2 1988.2,719.4 1988.2,585.9 1988.8,613.3 1988.8,628.4 1989.2,610.9 1989.2,584.9 1989.8,598.4 1989.8,706.1 1990.2,630.2 1990.2,574.1 1990.8,564.6 1990.8,621.6 1991.2,633.1 1991.2,616.6 1991.8,572.8 1991.8,631.3 1992.2,654.8 1992.2,609.3 1992.8,626.7 1992.8,671.9 1993.2,655.5 1993.2,617.5 1993.8,617.6 1993.8,655.6 1994.2,625.8 1994.2,588.0 1994.8,560.3 1994.8,646.7 1995.2,623.8 1995.2,574.9 1995.8,615.0 1995.8,628.2 1996.2,585.6 1996.2,550.3 1996.8,605.9 1996.8,615.9 1997.2,698.0 1997.2,613.1 1997.8,592.0 1997.8,623.4 1998.2,620.9 1998.2,542.5 1998.8,576.8 1998.8,667.2 1999.2,648.2 1999.2,592.4 1999.8,589.7 1999.8,653.3 2000.2,688.0 2000.2,548.3 2000.8,596.6 2000.8,655.9 2001.2,637.4 2001.2,605.7 2001.8,592.6 2001.8,622.9 2002.2,647.8 2002.2,586.6 2002.8,587.0 2002.8,651.4 2003.2,628.3 2003.2,596.4 2003.8,599.5 2003.8,670.6 2004.2,603.0 2004.2,574.6 2004.8,595.4 2004.8,656.4 2005.2,685.5 2005.2,537.6 2005.8,613.9 2005.8,654.1 2006.2,664.2 2006.2,599.9 2006.8,569.2 2006.8,639.2 2007.2,650.0 2007.2,624.9 2007.8,563.2 2007.8,649.0 2008.2,709.7 2008.2,639.9 2008.8,580.8 2008.8,600.3 2009.2,633.4 2009.2,589.9 2009.8,582.2 2009.8,612.9 2010.2,662.4 2010.2,583.1 2010.8,601.4 2010.8,661.3 2011.2,647.9 2011.2,591.9 2011.8,586.6 2011.8,609.4 2012.2,669.4 2012.2,569.5 2012.8,580.1 2012.8,601.2 2013.2,669.2 2013.2,623.9 2013.8,595.6 2013.8,642.1 2014.2,647.7 2014.2,551.5 2014.8,599.2 2014.8,620.6 2015.2,629.0 2015.2,600.7 2015.8,599.9 2015.8,648.7 2016.2,698.4 2016.2,597.2 2016.8,608.6 2016.8,642.9 2017.2,653.1 2017.2,586.2 2017.8,581.1 2017.8,661.1 2018.2,713.3 2018.2,609.1 2018.8,609.5 2018.8,636.9 2019.2,673.4 2019.2,585.5 2019.8,571.8 2019.8,597.4 2020.2,596.3 2020.2,593.9 2020.8,614.7 2020.8,650.1 2021.2,615.6 2021.2,575.6 2021.8,573.0 2021.8,607.4 2022.2,660.7 2022.2,632.0 2022.8,597.7 2022.8,637.6 2023.2,629.2 2023.2,567.4 2023.8,597.3 2023.8,626.8 2024.2,618.6 2024.2,551.4 2024.8,579.9 2024.8,608.6 2025.2,650.5 2025.2,557.4 2025.8,545.2 2025.8,674.3 2026.2,747.1 2026.2,600.4 2026.8,589.6 2026.8,630.0 2027.2,674.8 2027.2,595.5 2027.8,536.1 2027.8,672.8 2028.2,640.6 2028.2,581.5 2028.8,613.0 2028.8,700.4 2029.2,634.9 2029.2,584.3 2029.8,608.5 2029.8,631.7 2030.2,578.7 2030.2,540.1 2030.8,601.6 2030.8,678.8 2031.2,665.7 2031.2,563.8 2031.8,583.9 2031.8,612.2 2032.2,685.9 2032.2,572.7 2032.8,570.2 2032.8,593.4 2033.2,657.7 2033.2,582.3 2033.8,599.6 2033.8,610.7 2034.2,668.4 2034.2,587.3 2034.8,591.5 2034.8,659.3 2035.2,640.2 2035.2,610.0 2035.8,600.8 2035.8,630.8 2036.2,640.6 2036.2,572.9 2036.8,598.0 2036.8,613.3 2037.2,656.2 2037.2,577.8 2037.8,590.8 2037.8,649.8 2038.2,712.7 2038.2,605.6 2038.8,582.8 2038.8,595.6 2039.2,671.6 2039.2,579.8 2039.8,562.1 2039.8,674.9 2040.2,611.6 2040.2,582.0 2040.8,572.3 2040.8,689.4 2041.2,617.7 2041.2,597.7 2041.8,566.9 2041.8,635.4 2042.2,665.5 2042.2,612.0 2042.8,574.2 2042.8,611.5 2043.2,612.3 2043.2,587.9 2043.8,596.3 2043.8,625.5 2044.2,655.0 2044.2,600.0 2044.8,589.8 2044.8,652.1 2045.2,624.1 2045.2,588.5 2045.8,605.8 2045.8,616.2 2046.2,621.4 2046.2,569.9 2046.8,552.2 2046.8,657.9 2047.2,620.9 2047.2,608.3 2047.8,556.6 2047.8,623.6 2048.2,625.7 2048.2,584.5 2048.8,601.6 2048.8,638.3 2049.2,608.4 2049.2,577.3 2049.8,582.4 2049.8,643.3 2050.2,619.9 2050.2,575.2 2050.8,555.3 2050.8,623.2 2051.2,640.2 2051.2,591.7 2051.8,606.0 2051.8,638.5 2052.2,654.0 2052.2,577.6 2052.8,583.3 2052.8,624.8 2053.2,613.2 2053.2,588.2 2053.8,590.7 2053.8,623.1 2054.2,611.5 2054.2,598.6 2054.8,591.9 2054.8,653.3 2055.2,623.9 2055.2,606.7 2055.8,578.7 2055.8,652.4 2056.2,650.9 2056.2,602.9 2056.8,564.2 2056.8,627.7 2057.2,618.3 2057.2,590.5 2057.8,622.9 2057.8,666.7 2058.2,631.4 2058.2,575.6 2058.8,584.2 2058.8,654.9 2059.2,630.2 2059.2,607.1 2059.8,608.8 2059.8,683.9 2060.2,646.1 2060.2,570.7 2060.8,553.8 2060.8,613.5 2061.2,626.0 2061.2,574.5 2061.8,602.7 2061.8,698.4 2062.2,606.7 2062.2,587.0 2062.8,580.6 2062.8,602.6 2063.2,684.1 2063.2,580.4 2063.8,638.7 2063.8,678.1 2064.2,659.7 2064.2,570.2 2064.8,597.1 2064.8,666.3 2065.2,698.3 2065.2,600.4 2065.8,586.3 2065.8,625.9 2066.2,730.8 2066.2,616.6 2066.8,622.6 2066.8,642.0 2067.2,611.1 2067.2,582.8 2067.8,611.5 2067.8,678.3 2068.2,621.0 2068.2,587.9 2068.8,601.4 2068.8,634.5 2069.2,602.9 2069.2,547.7 2069.8,621.9 2069.8,629.8 2070.2,652.7 2070.2,580.8 2070.8,584.2 2070.8,631.3 2071.2,606.4 2071.2,561.0 2071.8,595.0 2071.8,658.0 2072.2,622.5 2072.2,573.6 2072.8,576.9 2072.8,608.5 2073.2,627.4 2073.2,601.3 2073.8,612.4 2073.8,635.6 2074.2,663.2 2074.2,583.5 2074.8,592.1 2074.8,594.6 2075.2,656.7 2075.2,583.5 2075.8,584.4 2075.8,652.1 2076.2,621.5 2076.2,586.1 2076.8,584.2 2076.8,604.9 2077.2,650.3 2077.2,595.4 2077.8,592.2 2077.8,690.7 2078.2,626.5 2078.2,578.2 2078.8,595.3 2078.8,699.1 2079.2,642.2 2079.2,561.3 2079.8,603.6 2079.8,677.6 2080.2,628.7 2080.2,573.2 2080.8,572.4 2080.8,623.5 2081.2,632.3 2081.2,601.2 2081.8,583.2 2081.8,627.7 2082.2,622.9 2082.2,600.4 2082.8,572.8 2082.8,613.0 2083.2,607.7 2083.2,577.9 2083.8,580.8 2083.8,608.8 2084.2,651.6 2084.2,548.2 2084.8,567.3 2084.8,625.3 2085.2,603.5 2085.2,562.9 2085.8,578.5 2085.8,652.7 2086.2,616.4 2086.2,582.1 2086.8,618.2 2086.8,738.5 2087.2,624.4 2087.2,582.4 2087.8,637.5 2087.8,644.0 2088.2,637.8 2088.2,580.0 2088.8,590.7 2088.8,678.4 2089.2,619.2 2089.2,570.2 2089.8,601.1 2089.8,651.7 2090.2,676.9 2090.2,611.6 2090.8,570.1 2090.8,646.6 2091.2,616.4 2091.2,573.7 2091.8,556.7 2091.8,603.7 2092.2,647.8 2092.2,578.1 2092.8,592.2 2092.8,623.9 2093.2,656.3 2093.2,594.9 2093.8,585.7 2093.8,684.6 2094.2,629.9 2094.2,567.7 2094.8,566.7 2094.8,595.3 2095.2,621.7 2095.2,575.7 2095.8,580.3 2095.8,612.8 2096.2,641.4 2096.2,542.9 2096.8,600.5 2096.8,628.4 2097.2,625.3 2097.2,564.3 2097.8,591.0 2097.8,649.6 2098.2,633.8 2098.2,617.5 2098.8,595.2 2098.8,603.2 2099.2,601.5 2099.2,570.2 2099.8,583.2 2099.8,645.9 2100.2,619.6 2100.2,597.1 2100.8,565.3 2100.8,614.9 2101.2,634.5 2101.2,582.6 2101.8,596.2 2101.8,626.2 2102.2,603.0 2102.2,579.0 2102.8,583.1 2102.8,642.0 2103.2,623.8 2103.2,600.7 2103.8,569.6 2103.8,609.9 2104.2,654.0 2104.2,580.4 2104.8,573.8 2104.8,636.4 2105.2,628.6 2105.2,593.6 2105.8,577.0 2105.8,627.7 2106.2,640.9 2106.2,603.3 2106.8,586.2 2106.8,654.7 2107.2,667.4 2107.2,608.8 2107.8,562.2 2107.8,640.8 2108.2,619.4 2108.2,575.0 2108.8,591.9 2108.8,695.5 2109.2,615.1 2109.2,579.3 2109.8,601.0 2109.8,694.1 2110.2,640.3 2110.2,618.1 2110.8,581.4 2110.8,618.4 2111.2,632.4 2111.2,599.0 2111.8,559.4 2111.8,607.6 2112.2,627.5 2112.2,579.3 2112.8,541.4 2112.8,606.8"/>
<text class="tk" text-anchor="end" transform="translate(244.6,82.3) scale(1,1.05)">0</text>
<text class="tk" text-anchor="end" transform="translate(244.6,175.8) scale(1,1.05)">-20</text>
<text class="tk" text-anchor="end" transform="translate(244.6,269.3) scale(1,1.05)">-40</text>
<text class="tk" text-anchor="end" transform="translate(244.6,362.8) scale(1,1.05)">-60</text>
<text class="tk" text-anchor="end" transform="translate(244.6,456.3) scale(1,1.05)">-80</text>
<text class="tk" text-anchor="end" transform="translate(244.6,549.8) scale(1,1.05)">-100</text>
<text class="tk" text-anchor="end" transform="translate(244.6,643.3) scale(1,1.05)">-120</text>
<text class="tk" text-anchor="end" transform="translate(244.6,736.8) scale(1,1.05)">-140</text>
<text class="tk" text-anchor="middle" transform="translate(281.4,802.8) scale(1,1.05)">0</text>
<text class="tk" text-anchor="middle" transform="translate(688.5,802.8) scale(1,1.05)">1000</text>
<text class="tk" text-anchor="middle" transform="translate(1095.6,802.8) scale(1,1.05)">2000</text>
<text class="tk" text-anchor="middle" transform="translate(1502.7,802.8) scale(1,1.05)">3000</text>
<text class="tk" text-anchor="middle" transform="translate(1909.8,802.8) scale(1,1.05)">4000</text>
<text class="ti" text-anchor="middle" transform="translate(1197.2,878.5) scale(1,1.03)">Frequency (Hz)</text>
<text class="ti" text-anchor="middle" transform="translate(92.2,365.9) rotate(-90) scale(1,1.0506)">Amplitude (dB)</text>
<text class="lg" transform="translate(1557.8,143.0) scale(1,1.041)">ENOB</text>
<text class="lg" transform="translate(1765.3,143.0) scale(1,1.041)">= 10.9 bits</text>
<text class="lg" transform="translate(1557.8,214.5) scale(1,1.041)">SNR</text>
<text class="lg" transform="translate(1765.3,214.5) scale(1,1.041)">= 69.1 dB</text>
<text class="lg" transform="translate(1557.8,285.5) scale(1,1.041)">SINAD</text>
<text class="lg" transform="translate(1765.3,285.5) scale(1,1.041)">= 67.4 dB</text>
<text class="lg" transform="translate(1557.8,356.4) scale(1,1.041)">SFDR</text>
<text class="lg" transform="translate(1765.3,356.4) scale(1,1.041)">= 73.5 dB</text>
</g>
<text class="cap" text-anchor="middle" transform="translate(1080,2033.4) scale(1.045,1.052)">(<tspan>b</tspan>)</text>
</svg>
</body>
</html>
